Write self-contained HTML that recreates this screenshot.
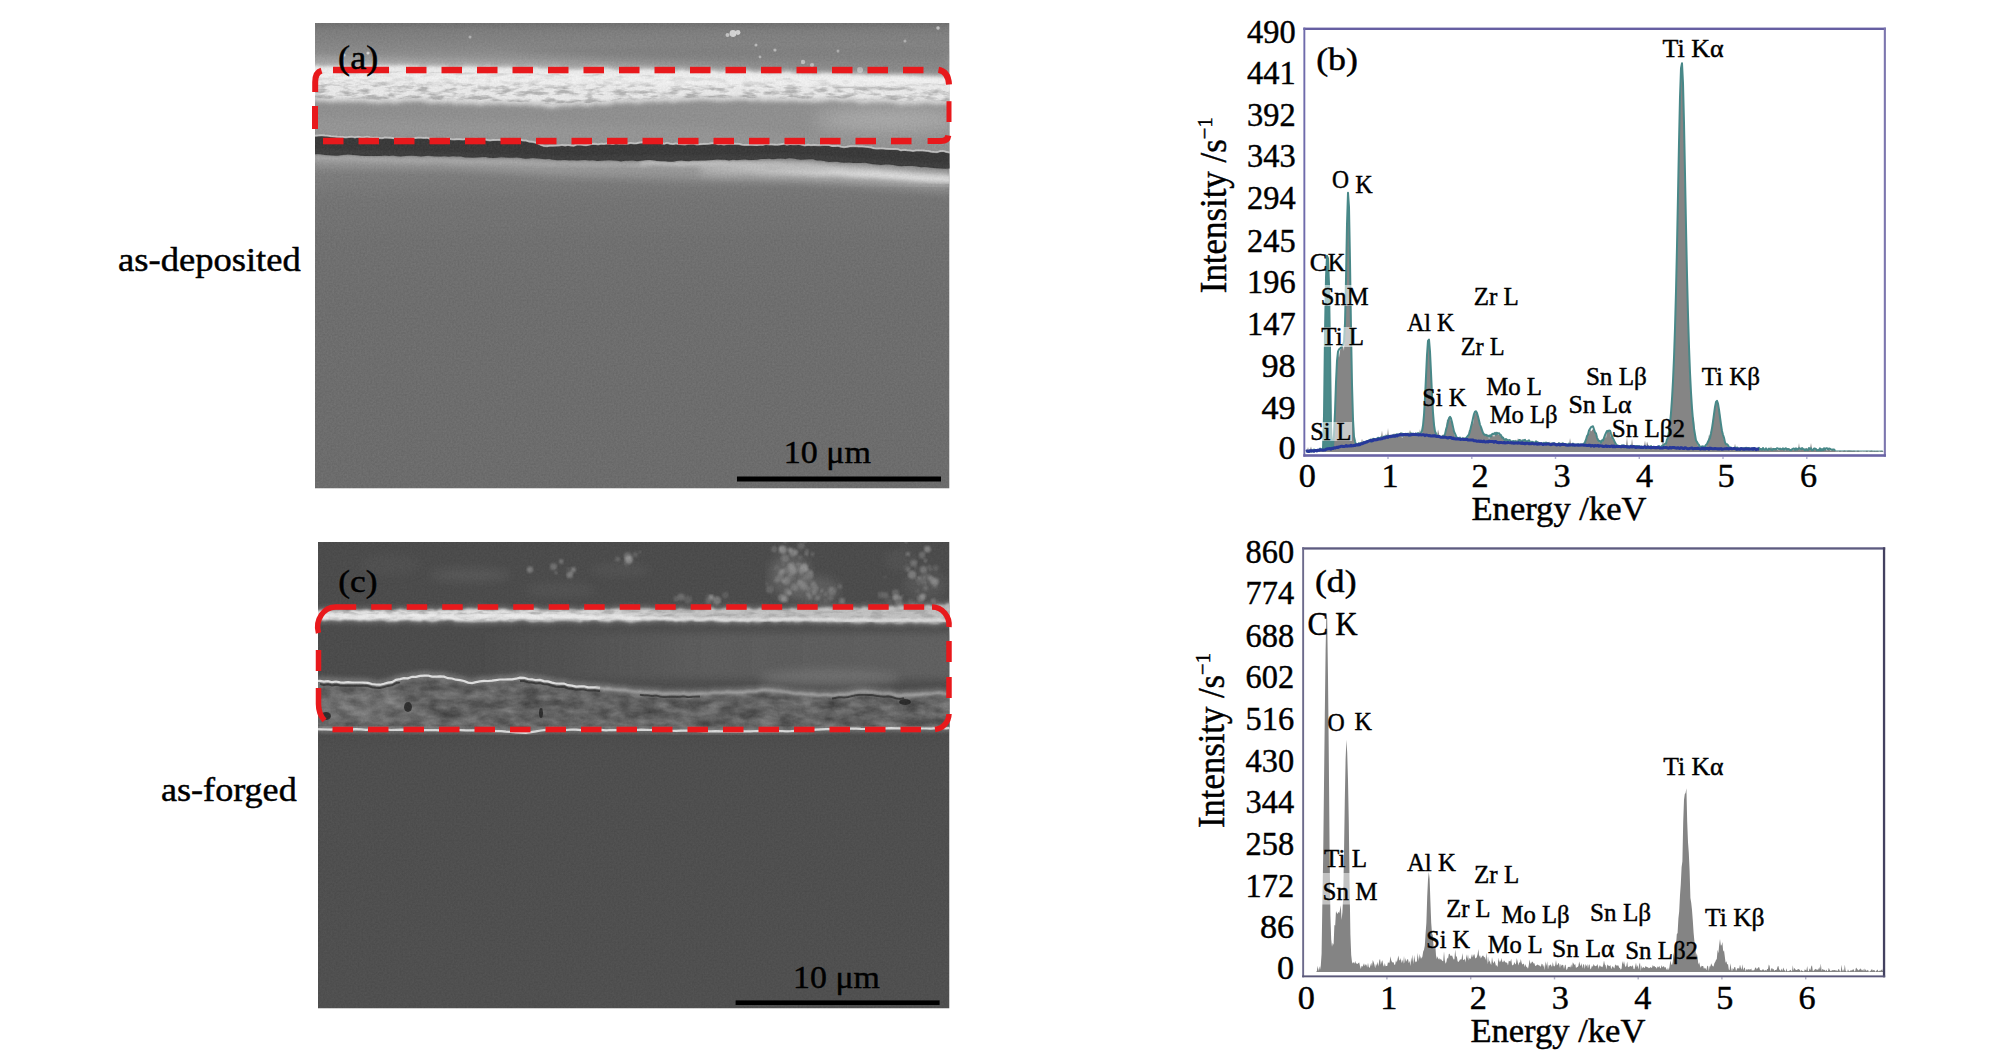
<!DOCTYPE html>
<html lang="en"><head><meta charset="utf-8"><title>SEM and EDS figure</title>
<style>
html,body{margin:0;padding:0;background:#fff;}
body{width:2008px;height:1063px;overflow:hidden;position:relative;}
svg{position:absolute;left:0;top:0;display:block;}
text{font-family:"Liberation Serif", "DejaVu Serif", serif;fill:#000;stroke:#000;stroke-width:0.45px;}
</style></head><body>
<svg width="2008" height="1063" viewBox="0 0 2008 1063">
<defs>
<clipPath id="clipA"><rect x="315" y="23" width="634.5" height="465.5"/></clipPath>
<clipPath id="clipC"><rect x="318" y="542" width="631.5" height="466.5"/></clipPath>
<filter id="b05" x="-5%" y="-5%" width="110%" height="110%"><feGaussianBlur stdDeviation="0.6"/></filter>
<filter id="b1" x="-5%" y="-20%" width="110%" height="140%"><feGaussianBlur stdDeviation="1.1"/></filter>
<filter id="b2" x="-5%" y="-30%" width="110%" height="160%"><feGaussianBlur stdDeviation="2.2"/></filter>
<filter id="b4" x="-5%" y="-50%" width="110%" height="200%"><feGaussianBlur stdDeviation="4.5"/></filter>
<filter id="b8" x="-30%" y="-100%" width="160%" height="300%"><feGaussianBlur stdDeviation="9"/></filter>
<filter id="grain" color-interpolation-filters="sRGB" x="0" y="0" width="100%" height="100%">
<feTurbulence type="fractalNoise" baseFrequency="0.55" numOctaves="2" seed="4"/>
<feColorMatrix type="matrix" values="1 0 0 0 0  1 0 0 0 0  1 0 0 0 0  0 0 0 0 1"/>
</filter>
<filter id="rough" color-interpolation-filters="sRGB" x="0" y="0" width="100%" height="100%">
<feTurbulence type="fractalNoise" baseFrequency="0.07 0.22" numOctaves="3" seed="11"/>
<feColorMatrix type="matrix" values="0 0 0 0 0.62  0 0 0 0 0.62  0 0 0 0 0.62  -3.4 0 0 0 1.95"/>
<feComposite operator="in" in2="SourceGraphic"/>
</filter>
<filter id="rock" color-interpolation-filters="sRGB" x="0" y="0" width="100%" height="100%">
<feTurbulence type="fractalNoise" baseFrequency="0.05 0.11" numOctaves="3" seed="23"/>
<feColorMatrix type="matrix" values="0.9 0 0 0 0.0  0.9 0 0 0 0.0  0.9 0 0 0 0.0  0 0 0 0 1"/>
<feComposite operator="in" in2="SourceGraphic"/>
</filter>
<linearGradient id="gA" x1="0" y1="0" x2="0" y2="1">
<stop offset="0" stop-color="#707070"/><stop offset="0.015" stop-color="#7c7c7c"/><stop offset="0.06" stop-color="#8a8a8a"/><stop offset="0.085" stop-color="#9c9c9c"/>
<stop offset="0.3" stop-color="#8a8a8a"/><stop offset="0.327" stop-color="#7c7c7c"/><stop offset="0.38" stop-color="#747474"/>
<stop offset="0.466" stop-color="#6f6f6f"/><stop offset="0.6" stop-color="#6d6d6d"/><stop offset="1" stop-color="#6b6b6b"/>
</linearGradient>
<linearGradient id="gRidge" gradientUnits="userSpaceOnUse" x1="700" y1="0" x2="870" y2="0">
<stop offset="0" stop-color="#ececec" stop-opacity="0"/><stop offset="1" stop-color="#ececec" stop-opacity="1"/>
</linearGradient>
<linearGradient id="gCL" x1="0" y1="0" x2="1" y2="0">
<stop offset="0" stop-color="#686868" stop-opacity="0"/><stop offset="0.45" stop-color="#686868" stop-opacity="0.55"/><stop offset="1" stop-color="#686868" stop-opacity="0.7"/>
</linearGradient>
<linearGradient id="gCW" x1="0" y1="0" x2="1" y2="0">
<stop offset="0" stop-color="#e6e6e6"/><stop offset="0.4" stop-color="#e0e0e0"/><stop offset="0.6" stop-color="#c8c8c8"/><stop offset="1" stop-color="#c2c2c2"/>
</linearGradient>
<linearGradient id="gC" x1="0" y1="0" x2="0" y2="1">
<stop offset="0" stop-color="#494949"/><stop offset="0.4" stop-color="#494949"/><stop offset="0.45" stop-color="#4c4c4c"/>
<stop offset="1" stop-color="#4d4d4d"/>
</linearGradient>
</defs>
<g clip-path="url(#clipA)">
<rect x="315" y="23" width="634.5" height="465.5" fill="url(#gA)"/>
<path d="M313.0,56.8 L319.0,56.7 L325.0,57.1 L331.0,56.9 L337.0,57.2 L343.0,57.3 L349.0,57.2 L355.0,57.5 L361.0,57.4 L367.0,57.7 L373.0,57.6 L379.0,57.6 L385.0,58.0 L391.0,58.7 L397.0,58.5 L403.0,58.5 L409.0,58.9 L415.0,59.5 L421.0,59.6 L427.0,59.6 L433.0,60.1 L439.0,59.6 L445.0,60.1 L451.0,60.0 L457.0,59.8 L463.0,59.8 L469.0,60.0 L475.0,60.7 L481.0,60.5 L487.0,60.9 L493.0,61.2 L499.0,61.3 L505.0,61.5 L511.0,61.2 L517.0,61.2 L523.0,61.3 L529.0,61.9 L535.0,62.1 L541.0,62.2 L547.0,62.5 L553.0,62.7 L559.0,62.7 L565.0,63.2 L571.0,63.5 L577.0,63.3 L583.0,63.5 L589.0,63.7 L595.0,64.1 L601.0,64.3 L607.0,64.1 L613.0,64.6 L619.0,64.2 L625.0,64.3 L631.0,64.7 L637.0,64.4 L643.0,64.6 L649.0,64.4 L655.0,64.9 L661.0,65.3 L667.0,65.5 L673.0,65.9 L679.0,65.6 L685.0,65.9 L691.0,66.0 L697.0,66.2 L703.0,66.2 L709.0,66.7 L715.0,67.2 L721.0,67.2 L727.0,67.5 L733.0,67.1 L739.0,67.6 L745.0,68.0 L751.0,68.6 L757.0,68.9 L763.0,68.7 L769.0,68.8 L775.0,69.2 L781.0,68.9 L787.0,69.2 L793.0,69.3 L799.0,69.3 L805.0,69.3 L811.0,70.1 L817.0,70.0 L823.0,70.1 L829.0,70.4 L835.0,71.0 L841.0,70.8 L847.0,71.0 L853.0,71.3 L859.0,71.9 L865.0,72.2 L871.0,72.5 L877.0,72.2 L883.0,72.2 L889.0,72.3 L895.0,72.8 L901.0,73.3 L907.0,72.9 L913.0,72.7 L919.0,72.7 L925.0,72.8 L931.0,73.2 L937.0,73.5 L943.0,73.5 L949.0,73.3 L951.5,73.5 L951.5,78.5 L949.0,78.9 L945.0,78.2 L941.0,79.3 L937.0,78.6 L933.0,78.4 L929.0,78.0 L925.0,78.3 L921.0,78.4 L917.0,77.6 L913.0,77.1 L909.0,77.8 L905.0,76.2 L901.0,76.5 L897.0,76.8 L893.0,76.1 L889.0,77.0 L885.0,76.9 L881.0,76.8 L877.0,77.3 L873.0,76.4 L869.0,77.0 L865.0,76.2 L861.0,75.8 L857.0,75.6 L853.0,76.2 L849.0,74.7 L845.0,75.1 L841.0,74.8 L837.0,75.1 L833.0,74.4 L829.0,74.4 L825.0,74.3 L821.0,74.4 L817.0,75.5 L813.0,75.3 L809.0,74.5 L805.0,75.2 L801.0,74.4 L797.0,74.6 L793.0,74.6 L789.0,72.7 L785.0,73.1 L781.0,73.7 L777.0,73.5 L773.0,74.1 L769.0,74.4 L765.0,73.7 L761.0,72.7 L757.0,73.8 L753.0,73.4 L749.0,71.9 L745.0,71.8 L741.0,72.2 L737.0,73.2 L733.0,73.2 L729.0,72.1 L725.0,72.3 L721.0,73.1 L717.0,72.5 L713.0,71.6 L709.0,72.1 L705.0,71.1 L701.0,71.7 L697.0,72.2 L693.0,72.2 L689.0,72.2 L685.0,71.4 L681.0,70.6 L677.0,71.9 L673.0,71.5 L669.0,71.3 L665.0,71.9 L661.0,71.7 L657.0,70.9 L653.0,70.0 L649.0,69.9 L645.0,70.0 L641.0,70.1 L637.0,70.7 L633.0,71.8 L629.0,71.7 L625.0,71.3 L621.0,70.5 L617.0,71.2 L613.0,70.4 L609.0,69.4 L605.0,69.3 L601.0,68.8 L597.0,68.9 L593.0,69.6 L589.0,69.8 L585.0,69.5 L581.0,70.5 L577.0,70.6 L573.0,70.5 L569.0,70.6 L565.0,70.6 L561.0,69.9 L557.0,68.8 L553.0,69.1 L549.0,69.8 L545.0,69.3 L541.0,69.4 L537.0,68.3 L533.0,68.7 L529.0,68.7 L525.0,69.6 L521.0,69.8 L517.0,69.6 L513.0,68.5 L509.0,67.7 L505.0,68.5 L501.0,67.9 L497.0,68.7 L493.0,69.0 L489.0,67.3 L485.0,67.8 L481.0,68.8 L477.0,67.6 L473.0,67.6 L469.0,67.2 L465.0,67.3 L461.0,68.2 L457.0,68.3 L453.0,69.1 L449.0,68.4 L445.0,67.1 L441.0,67.5 L437.0,67.4 L433.0,67.2 L429.0,67.2 L425.0,68.1 L421.0,68.1 L417.0,66.6 L413.0,67.0 L409.0,66.5 L405.0,66.5 L401.0,66.2 L397.0,66.4 L393.0,66.8 L389.0,66.4 L385.0,66.4 L381.0,66.2 L377.0,66.4 L373.0,67.2 L369.0,66.3 L365.0,66.9 L361.0,67.1 L357.0,67.9 L353.0,67.9 L349.0,67.6 L345.0,67.4 L341.0,66.1 L337.0,67.2 L333.0,67.0 L329.0,66.9 L325.0,67.3 L321.0,67.5 L317.0,66.6 L313.0,66.2Z" fill="#a4a4a4" opacity="0.8" filter="url(#b2)"/>
<path d="M500,50 L700,46 L950,48 L950,73 L780,68 L620,60 Z" fill="#767676" opacity="0.55" filter="url(#b4)"/>
<path d="M313.0,97.5 L317.0,98.4 L321.0,98.3 L325.0,98.4 L329.0,98.9 L333.0,99.4 L337.0,98.8 L341.0,98.9 L345.0,98.7 L349.0,98.7 L353.0,99.0 L357.0,98.8 L361.0,98.8 L365.0,98.8 L369.0,99.7 L373.0,99.7 L377.0,100.1 L381.0,100.5 L385.0,99.3 L389.0,99.4 L393.0,100.2 L397.0,100.4 L401.0,99.1 L405.0,98.5 L409.0,98.8 L413.0,98.3 L417.0,98.4 L421.0,98.1 L425.0,99.3 L429.0,100.1 L433.0,100.8 L437.0,99.6 L441.0,100.2 L445.0,100.4 L449.0,99.5 L453.0,100.7 L457.0,101.5 L461.0,100.4 L465.0,101.5 L469.0,101.0 L473.0,100.9 L477.0,102.1 L481.0,102.4 L485.0,101.2 L489.0,101.2 L493.0,101.5 L497.0,101.3 L501.0,101.0 L505.0,101.2 L509.0,102.2 L513.0,101.3 L517.0,102.1 L521.0,102.3 L525.0,101.6 L529.0,101.9 L533.0,102.8 L537.0,103.1 L541.0,102.4 L545.0,104.0 L549.0,104.5 L553.0,105.2 L557.0,103.8 L561.0,103.4 L565.0,102.5 L569.0,103.5 L573.0,102.8 L577.0,102.0 L581.0,102.2 L585.0,103.1 L589.0,103.3 L593.0,102.1 L597.0,101.2 L601.0,102.2 L605.0,101.9 L609.0,101.9 L613.0,100.5 L617.0,99.6 L621.0,100.4 L625.0,100.1 L629.0,99.2 L633.0,100.3 L637.0,100.2 L641.0,100.4 L645.0,98.8 L649.0,99.6 L653.0,98.3 L657.0,99.4 L661.0,99.0 L665.0,98.6 L669.0,98.8 L673.0,99.7 L677.0,98.8 L681.0,98.0 L685.0,98.4 L689.0,98.0 L693.0,97.5 L697.0,97.4 L701.0,97.1 L705.0,97.2 L709.0,97.5 L713.0,97.6 L717.0,98.6 L721.0,98.1 L725.0,98.3 L729.0,97.7 L733.0,97.7 L737.0,97.1 L741.0,97.2 L745.0,96.8 L749.0,98.0 L753.0,98.3 L757.0,97.6 L761.0,97.9 L765.0,98.9 L769.0,97.7 L773.0,98.6 L777.0,98.2 L781.0,98.2 L785.0,98.8 L789.0,98.2 L793.0,98.1 L797.0,98.4 L801.0,99.2 L805.0,98.4 L809.0,99.1 L813.0,99.2 L817.0,99.2 L821.0,98.7 L825.0,98.4 L829.0,97.7 L833.0,97.6 L837.0,97.5 L841.0,98.8 L845.0,98.6 L849.0,98.3 L853.0,98.0 L857.0,99.5 L861.0,100.4 L865.0,100.5 L869.0,99.8 L873.0,99.4 L877.0,99.3 L881.0,99.7 L885.0,99.3 L889.0,99.8 L893.0,99.7 L897.0,101.2 L901.0,102.0 L905.0,101.5 L909.0,100.7 L913.0,101.9 L917.0,101.2 L921.0,101.0 L925.0,100.2 L929.0,100.6 L933.0,101.1 L937.0,101.4 L941.0,101.0 L945.0,101.5 L949.0,100.8 L951.5,100.9 L951.5,153.2 L949.0,153.5 L946.0,152.8 L943.0,152.0 L940.0,152.3 L937.0,153.2 L934.0,153.0 L931.0,152.7 L928.0,151.9 L925.0,151.7 L922.0,151.4 L919.0,151.4 L916.0,151.5 L913.0,152.0 L910.0,151.5 L907.0,151.2 L904.0,150.8 L901.0,151.4 L898.0,150.3 L895.0,149.9 L892.0,150.1 L889.0,149.9 L886.0,149.8 L883.0,149.5 L880.0,149.4 L877.0,149.6 L874.0,149.3 L871.0,148.4 L868.0,147.9 L865.0,147.7 L862.0,147.4 L859.0,147.5 L856.0,147.2 L853.0,147.2 L850.0,147.3 L847.0,147.8 L844.0,148.2 L841.0,147.7 L838.0,146.8 L835.0,147.1 L832.0,147.1 L829.0,146.1 L826.0,146.0 L823.0,146.0 L820.0,146.2 L817.0,146.2 L814.0,145.9 L811.0,146.2 L808.0,145.8 L805.0,146.4 L802.0,145.7 L799.0,145.1 L796.0,145.2 L793.0,145.3 L790.0,145.1 L787.0,145.7 L784.0,144.8 L781.0,145.3 L778.0,145.7 L775.0,145.7 L772.0,145.4 L769.0,145.5 L766.0,144.9 L763.0,145.8 L760.0,145.7 L757.0,146.1 L754.0,146.0 L751.0,145.7 L748.0,145.9 L745.0,145.9 L742.0,145.7 L739.0,144.9 L736.0,144.7 L733.0,145.0 L730.0,144.8 L727.0,145.0 L724.0,145.6 L721.0,144.9 L718.0,145.2 L715.0,144.3 L712.0,144.3 L709.0,144.7 L706.0,144.9 L703.0,145.0 L700.0,145.3 L697.0,145.5 L694.0,144.7 L691.0,144.7 L688.0,144.8 L685.0,145.5 L682.0,145.2 L679.0,145.1 L676.0,144.4 L673.0,145.1 L670.0,144.7 L667.0,144.0 L664.0,144.8 L661.0,144.0 L658.0,144.0 L655.0,143.8 L652.0,144.0 L649.0,144.1 L646.0,143.9 L643.0,143.3 L640.0,143.6 L637.0,144.3 L634.0,144.5 L631.0,143.9 L628.0,144.6 L625.0,144.7 L622.0,144.4 L619.0,144.7 L616.0,144.2 L613.0,145.1 L610.0,144.6 L607.0,144.4 L604.0,144.9 L601.0,144.8 L598.0,145.5 L595.0,144.8 L592.0,145.1 L589.0,145.7 L586.0,146.3 L583.0,146.0 L580.0,145.6 L577.0,145.6 L574.0,146.7 L571.0,146.6 L568.0,145.9 L565.0,146.6 L562.0,145.9 L559.0,146.4 L556.0,146.6 L553.0,146.7 L550.0,146.7 L547.0,147.2 L544.0,147.0 L541.0,145.9 L538.0,144.5 L535.0,143.4 L532.0,142.8 L529.0,142.6 L526.0,141.6 L523.0,141.5 L520.0,140.8 L517.0,140.7 L514.0,140.9 L511.0,141.5 L508.0,141.5 L505.0,141.5 L502.0,141.3 L499.0,140.9 L496.0,140.9 L493.0,141.1 L490.0,141.5 L487.0,140.9 L484.0,140.3 L481.0,140.7 L478.0,140.0 L475.0,139.8 L472.0,140.2 L469.0,140.5 L466.0,139.9 L463.0,140.5 L460.0,140.3 L457.0,140.3 L454.0,140.5 L451.0,140.2 L448.0,139.4 L445.0,140.0 L442.0,140.2 L439.0,140.0 L436.0,139.9 L433.0,139.8 L430.0,139.8 L427.0,138.8 L424.0,139.0 L421.0,138.7 L418.0,138.7 L415.0,139.1 L412.0,139.7 L409.0,139.7 L406.0,139.8 L403.0,139.4 L400.0,139.6 L397.0,139.5 L394.0,139.3 L391.0,138.8 L388.0,138.7 L385.0,138.4 L382.0,139.2 L379.0,139.0 L376.0,138.8 L373.0,139.0 L370.0,138.5 L367.0,137.7 L364.0,138.4 L361.0,138.3 L358.0,137.8 L355.0,138.5 L352.0,137.7 L349.0,137.9 L346.0,138.4 L343.0,138.1 L340.0,137.9 L337.0,137.8 L334.0,137.4 L331.0,137.3 L328.0,136.7 L325.0,136.6 L322.0,136.3 L319.0,136.4 L316.0,136.7 L313.0,136.5Z" fill="#919191" filter="url(#b1)"/>
<path d="M313.0,118.0 L321.0,118.1 L329.0,118.3 L337.0,118.5 L345.0,118.6 L353.0,118.8 L361.0,119.0 L369.0,119.2 L377.0,119.3 L385.0,119.5 L393.0,119.7 L401.0,119.9 L409.0,120.0 L417.0,120.2 L425.0,120.4 L433.0,120.6 L441.0,120.7 L449.0,120.9 L457.0,121.1 L465.0,121.2 L473.0,121.4 L481.0,121.6 L489.0,121.8 L497.0,121.9 L505.0,122.2 L513.0,122.4 L521.0,122.6 L529.0,122.9 L537.0,123.1 L545.0,123.3 L553.0,123.6 L561.0,123.8 L569.0,124.1 L577.0,124.3 L585.0,124.5 L593.0,124.8 L601.0,125.0 L609.0,125.3 L617.0,125.5 L625.0,125.8 L633.0,126.0 L641.0,126.2 L649.0,126.5 L657.0,126.7 L665.0,127.0 L673.0,127.2 L681.0,127.4 L689.0,127.7 L697.0,127.9 L705.0,128.4 L713.0,129.0 L721.0,129.6 L729.0,130.2 L737.0,130.8 L745.0,131.4 L753.0,132.0 L761.0,132.6 L769.0,133.2 L777.0,133.8 L785.0,134.4 L793.0,135.0 L801.0,135.6 L809.0,136.2 L817.0,136.8 L825.0,137.4 L833.0,138.0 L841.0,138.6 L849.0,139.2 L857.0,139.8 L865.0,140.6 L873.0,141.4 L881.0,142.3 L889.0,143.2 L897.0,144.1 L905.0,145.0 L913.0,145.9 L921.0,146.8 L929.0,147.7 L937.0,148.6 L945.0,149.4 L951.5,150.0 L951.5,153.2 L949.0,153.5 L946.0,152.8 L943.0,152.0 L940.0,152.3 L937.0,153.2 L934.0,153.0 L931.0,152.7 L928.0,151.9 L925.0,151.7 L922.0,151.4 L919.0,151.4 L916.0,151.5 L913.0,152.0 L910.0,151.5 L907.0,151.2 L904.0,150.8 L901.0,151.4 L898.0,150.3 L895.0,149.9 L892.0,150.1 L889.0,149.9 L886.0,149.8 L883.0,149.5 L880.0,149.4 L877.0,149.6 L874.0,149.3 L871.0,148.4 L868.0,147.9 L865.0,147.7 L862.0,147.4 L859.0,147.5 L856.0,147.2 L853.0,147.2 L850.0,147.3 L847.0,147.8 L844.0,148.2 L841.0,147.7 L838.0,146.8 L835.0,147.1 L832.0,147.1 L829.0,146.1 L826.0,146.0 L823.0,146.0 L820.0,146.2 L817.0,146.2 L814.0,145.9 L811.0,146.2 L808.0,145.8 L805.0,146.4 L802.0,145.7 L799.0,145.1 L796.0,145.2 L793.0,145.3 L790.0,145.1 L787.0,145.7 L784.0,144.8 L781.0,145.3 L778.0,145.7 L775.0,145.7 L772.0,145.4 L769.0,145.5 L766.0,144.9 L763.0,145.8 L760.0,145.7 L757.0,146.1 L754.0,146.0 L751.0,145.7 L748.0,145.9 L745.0,145.9 L742.0,145.7 L739.0,144.9 L736.0,144.7 L733.0,145.0 L730.0,144.8 L727.0,145.0 L724.0,145.6 L721.0,144.9 L718.0,145.2 L715.0,144.3 L712.0,144.3 L709.0,144.7 L706.0,144.9 L703.0,145.0 L700.0,145.3 L697.0,145.5 L694.0,144.7 L691.0,144.7 L688.0,144.8 L685.0,145.5 L682.0,145.2 L679.0,145.1 L676.0,144.4 L673.0,145.1 L670.0,144.7 L667.0,144.0 L664.0,144.8 L661.0,144.0 L658.0,144.0 L655.0,143.8 L652.0,144.0 L649.0,144.1 L646.0,143.9 L643.0,143.3 L640.0,143.6 L637.0,144.3 L634.0,144.5 L631.0,143.9 L628.0,144.6 L625.0,144.7 L622.0,144.4 L619.0,144.7 L616.0,144.2 L613.0,145.1 L610.0,144.6 L607.0,144.4 L604.0,144.9 L601.0,144.8 L598.0,145.5 L595.0,144.8 L592.0,145.1 L589.0,145.7 L586.0,146.3 L583.0,146.0 L580.0,145.6 L577.0,145.6 L574.0,146.7 L571.0,146.6 L568.0,145.9 L565.0,146.6 L562.0,145.9 L559.0,146.4 L556.0,146.6 L553.0,146.7 L550.0,146.7 L547.0,147.2 L544.0,147.0 L541.0,145.9 L538.0,144.5 L535.0,143.4 L532.0,142.8 L529.0,142.6 L526.0,141.6 L523.0,141.5 L520.0,140.8 L517.0,140.7 L514.0,140.9 L511.0,141.5 L508.0,141.5 L505.0,141.5 L502.0,141.3 L499.0,140.9 L496.0,140.9 L493.0,141.1 L490.0,141.5 L487.0,140.9 L484.0,140.3 L481.0,140.7 L478.0,140.0 L475.0,139.8 L472.0,140.2 L469.0,140.5 L466.0,139.9 L463.0,140.5 L460.0,140.3 L457.0,140.3 L454.0,140.5 L451.0,140.2 L448.0,139.4 L445.0,140.0 L442.0,140.2 L439.0,140.0 L436.0,139.9 L433.0,139.8 L430.0,139.8 L427.0,138.8 L424.0,139.0 L421.0,138.7 L418.0,138.7 L415.0,139.1 L412.0,139.7 L409.0,139.7 L406.0,139.8 L403.0,139.4 L400.0,139.6 L397.0,139.5 L394.0,139.3 L391.0,138.8 L388.0,138.7 L385.0,138.4 L382.0,139.2 L379.0,139.0 L376.0,138.8 L373.0,139.0 L370.0,138.5 L367.0,137.7 L364.0,138.4 L361.0,138.3 L358.0,137.8 L355.0,138.5 L352.0,137.7 L349.0,137.9 L346.0,138.4 L343.0,138.1 L340.0,137.9 L337.0,137.8 L334.0,137.4 L331.0,137.3 L328.0,136.7 L325.0,136.6 L322.0,136.3 L319.0,136.4 L316.0,136.7 L313.0,136.5Z" fill="#9c9c9c" opacity="0.5" filter="url(#b4)"/>
<ellipse cx="890" cy="120" rx="75" ry="13" fill="#b8b8b8" opacity="0.7" filter="url(#b8)"/>
<path d="M313.0,64.2 L317.0,64.6 L321.0,65.5 L325.0,65.3 L329.0,64.9 L333.0,65.0 L337.0,65.2 L341.0,64.1 L345.0,65.4 L349.0,65.6 L353.0,65.9 L357.0,65.9 L361.0,65.1 L365.0,64.9 L369.0,64.3 L373.0,65.2 L377.0,64.4 L381.0,64.2 L385.0,64.4 L389.0,64.4 L393.0,64.8 L397.0,64.4 L401.0,64.2 L405.0,64.5 L409.0,64.5 L413.0,65.0 L417.0,64.6 L421.0,66.1 L425.0,66.1 L429.0,65.2 L433.0,65.2 L437.0,65.4 L441.0,65.5 L445.0,65.1 L449.0,66.4 L453.0,67.1 L457.0,66.3 L461.0,66.2 L465.0,65.3 L469.0,65.2 L473.0,65.6 L477.0,65.6 L481.0,66.8 L485.0,65.8 L489.0,65.3 L493.0,67.0 L497.0,66.7 L501.0,65.9 L505.0,66.5 L509.0,65.7 L513.0,66.5 L517.0,67.6 L521.0,67.8 L525.0,67.6 L529.0,66.7 L533.0,66.7 L537.0,66.3 L541.0,67.4 L545.0,67.3 L549.0,67.8 L553.0,67.1 L557.0,66.8 L561.0,67.9 L565.0,68.6 L569.0,68.6 L573.0,68.5 L577.0,68.6 L581.0,68.5 L585.0,67.5 L589.0,67.8 L593.0,67.6 L597.0,66.9 L601.0,66.8 L605.0,67.3 L609.0,67.4 L613.0,68.4 L617.0,69.2 L621.0,68.5 L625.0,69.3 L629.0,69.7 L633.0,69.8 L637.0,68.7 L641.0,68.1 L645.0,68.0 L649.0,67.9 L653.0,68.0 L657.0,68.9 L661.0,69.7 L665.0,69.9 L669.0,69.3 L673.0,69.5 L677.0,69.9 L681.0,68.6 L685.0,69.4 L689.0,70.2 L693.0,70.2 L697.0,70.2 L701.0,69.7 L705.0,69.1 L709.0,70.1 L713.0,69.6 L717.0,70.5 L721.0,71.1 L725.0,70.3 L729.0,70.1 L733.0,71.2 L737.0,71.2 L741.0,70.2 L745.0,69.8 L749.0,69.9 L753.0,71.4 L757.0,71.8 L761.0,70.7 L765.0,71.7 L769.0,72.4 L773.0,72.1 L777.0,71.5 L781.0,71.7 L785.0,71.1 L789.0,70.7 L793.0,72.6 L797.0,72.6 L801.0,72.4 L805.0,73.2 L809.0,72.5 L813.0,73.3 L817.0,73.5 L821.0,72.4 L825.0,72.3 L829.0,72.4 L833.0,72.4 L837.0,73.1 L841.0,72.8 L845.0,73.1 L849.0,72.7 L853.0,74.2 L857.0,73.6 L861.0,73.8 L865.0,74.2 L869.0,75.0 L873.0,74.4 L877.0,75.3 L881.0,74.8 L885.0,74.9 L889.0,75.0 L893.0,74.1 L897.0,74.8 L901.0,74.5 L905.0,74.2 L909.0,75.8 L913.0,75.1 L917.0,75.6 L921.0,76.4 L925.0,76.3 L929.0,76.0 L933.0,76.4 L937.0,76.6 L941.0,77.3 L945.0,76.2 L949.0,76.9 L951.5,76.5 L951.5,103.9 L949.0,103.8 L945.0,104.5 L941.0,104.0 L937.0,104.4 L933.0,104.1 L929.0,103.6 L925.0,103.2 L921.0,104.0 L917.0,104.2 L913.0,104.9 L909.0,103.7 L905.0,104.5 L901.0,105.0 L897.0,104.2 L893.0,102.7 L889.0,102.8 L885.0,102.3 L881.0,102.7 L877.0,102.3 L873.0,102.4 L869.0,102.8 L865.0,103.5 L861.0,103.4 L857.0,102.5 L853.0,101.0 L849.0,101.3 L845.0,101.6 L841.0,101.8 L837.0,100.5 L833.0,100.6 L829.0,100.7 L825.0,101.4 L821.0,101.7 L817.0,102.2 L813.0,102.2 L809.0,102.1 L805.0,101.4 L801.0,102.2 L797.0,101.4 L793.0,101.1 L789.0,101.2 L785.0,101.8 L781.0,101.2 L777.0,101.2 L773.0,101.6 L769.0,100.7 L765.0,101.9 L761.0,100.9 L757.0,100.6 L753.0,101.3 L749.0,101.0 L745.0,99.8 L741.0,100.2 L737.0,100.1 L733.0,100.7 L729.0,100.7 L725.0,101.3 L721.0,101.1 L717.0,101.6 L713.0,100.6 L709.0,100.5 L705.0,100.2 L701.0,100.1 L697.0,100.4 L693.0,100.5 L689.0,101.0 L685.0,101.4 L681.0,101.0 L677.0,101.8 L673.0,102.7 L669.0,101.8 L665.0,101.6 L661.0,102.0 L657.0,102.4 L653.0,101.3 L649.0,102.6 L645.0,101.8 L641.0,103.4 L637.0,103.2 L633.0,103.3 L629.0,102.2 L625.0,103.1 L621.0,103.4 L617.0,102.6 L613.0,103.5 L609.0,104.9 L605.0,104.9 L601.0,105.2 L597.0,104.2 L593.0,105.1 L589.0,106.3 L585.0,106.1 L581.0,105.2 L577.0,105.0 L573.0,105.8 L569.0,106.5 L565.0,105.5 L561.0,106.4 L557.0,106.8 L553.0,108.2 L549.0,107.5 L545.0,107.0 L541.0,105.4 L537.0,106.1 L533.0,105.8 L529.0,104.9 L525.0,104.6 L521.0,105.3 L517.0,105.1 L513.0,104.3 L509.0,105.2 L505.0,104.2 L501.0,104.0 L497.0,104.3 L493.0,104.5 L489.0,104.2 L485.0,104.2 L481.0,105.4 L477.0,105.1 L473.0,103.9 L469.0,104.0 L465.0,104.5 L461.0,103.4 L457.0,104.5 L453.0,103.7 L449.0,102.5 L445.0,103.4 L441.0,103.2 L437.0,102.6 L433.0,103.8 L429.0,103.1 L425.0,102.3 L421.0,101.1 L417.0,101.4 L413.0,101.3 L409.0,101.8 L405.0,101.5 L401.0,102.1 L397.0,103.4 L393.0,103.2 L389.0,102.4 L385.0,102.3 L381.0,103.5 L377.0,103.1 L373.0,102.7 L369.0,102.7 L365.0,101.8 L361.0,101.8 L357.0,101.8 L353.0,102.0 L349.0,101.7 L345.0,101.7 L341.0,101.9 L337.0,101.8 L333.0,102.4 L329.0,101.9 L325.0,101.4 L321.0,101.3 L317.0,101.4 L313.0,100.5Z" fill="#dcdcdc" filter="url(#b2)"/>
<path d="M313.0,66.2 L317.0,66.6 L321.0,67.5 L325.0,67.3 L329.0,66.9 L333.0,67.0 L337.0,67.2 L341.0,66.1 L345.0,67.4 L349.0,67.6 L353.0,67.9 L357.0,67.9 L361.0,67.1 L365.0,66.9 L369.0,66.3 L373.0,67.2 L377.0,66.4 L381.0,66.2 L385.0,66.4 L389.0,66.4 L393.0,66.8 L397.0,66.4 L401.0,66.2 L405.0,66.5 L409.0,66.5 L413.0,67.0 L417.0,66.6 L421.0,68.1 L425.0,68.1 L429.0,67.2 L433.0,67.2 L437.0,67.4 L441.0,67.5 L445.0,67.1 L449.0,68.4 L453.0,69.1 L457.0,68.3 L461.0,68.2 L465.0,67.3 L469.0,67.2 L473.0,67.6 L477.0,67.6 L481.0,68.8 L485.0,67.8 L489.0,67.3 L493.0,69.0 L497.0,68.7 L501.0,67.9 L505.0,68.5 L509.0,67.7 L513.0,68.5 L517.0,69.6 L521.0,69.8 L525.0,69.6 L529.0,68.7 L533.0,68.7 L537.0,68.3 L541.0,69.4 L545.0,69.3 L549.0,69.8 L553.0,69.1 L557.0,68.8 L561.0,69.9 L565.0,70.6 L569.0,70.6 L573.0,70.5 L577.0,70.6 L581.0,70.5 L585.0,69.5 L589.0,69.8 L593.0,69.6 L597.0,68.9 L601.0,68.8 L605.0,69.3 L609.0,69.4 L613.0,70.4 L617.0,71.2 L621.0,70.5 L625.0,71.3 L629.0,71.7 L633.0,71.8 L637.0,70.7 L641.0,70.1 L645.0,70.0 L649.0,69.9 L653.0,70.0 L657.0,70.9 L661.0,71.7 L665.0,71.9 L669.0,71.3 L673.0,71.5 L677.0,71.9 L681.0,70.6 L685.0,71.4 L689.0,72.2 L693.0,72.2 L697.0,72.2 L701.0,71.7 L705.0,71.1 L709.0,72.1 L713.0,71.6 L717.0,72.5 L721.0,73.1 L725.0,72.3 L729.0,72.1 L733.0,73.2 L737.0,73.2 L741.0,72.2 L745.0,71.8 L749.0,71.9 L753.0,73.4 L757.0,73.8 L761.0,72.7 L765.0,73.7 L769.0,74.4 L773.0,74.1 L777.0,73.5 L781.0,73.7 L785.0,73.1 L789.0,72.7 L793.0,74.6 L797.0,74.6 L801.0,74.4 L805.0,75.2 L809.0,74.5 L813.0,75.3 L817.0,75.5 L821.0,74.4 L825.0,74.3 L829.0,74.4 L833.0,74.4 L837.0,75.1 L841.0,74.8 L845.0,75.1 L849.0,74.7 L853.0,76.2 L857.0,75.6 L861.0,75.8 L865.0,76.2 L869.0,77.0 L873.0,76.4 L877.0,77.3 L881.0,76.8 L885.0,76.9 L889.0,77.0 L893.0,76.1 L897.0,76.8 L901.0,76.5 L905.0,76.2 L909.0,77.8 L913.0,77.1 L917.0,77.6 L921.0,78.4 L925.0,78.3 L929.0,78.0 L933.0,78.4 L937.0,78.6 L941.0,79.3 L945.0,78.2 L949.0,78.9 L951.5,78.5 L951.5,98.9 L949.0,98.8 L945.0,99.5 L941.0,99.0 L937.0,99.4 L933.0,99.1 L929.0,98.6 L925.0,98.2 L921.0,99.0 L917.0,99.2 L913.0,99.9 L909.0,98.7 L905.0,99.5 L901.0,100.0 L897.0,99.2 L893.0,97.7 L889.0,97.8 L885.0,97.3 L881.0,97.7 L877.0,97.3 L873.0,97.4 L869.0,97.8 L865.0,98.5 L861.0,98.4 L857.0,97.5 L853.0,96.0 L849.0,96.3 L845.0,96.6 L841.0,96.8 L837.0,95.5 L833.0,95.6 L829.0,95.7 L825.0,96.4 L821.0,96.7 L817.0,97.2 L813.0,97.2 L809.0,97.1 L805.0,96.4 L801.0,97.2 L797.0,96.4 L793.0,96.1 L789.0,96.2 L785.0,96.8 L781.0,96.2 L777.0,96.2 L773.0,96.6 L769.0,95.7 L765.0,96.9 L761.0,95.9 L757.0,95.6 L753.0,96.3 L749.0,96.0 L745.0,94.8 L741.0,95.2 L737.0,95.1 L733.0,95.7 L729.0,95.7 L725.0,96.3 L721.0,96.1 L717.0,96.6 L713.0,95.6 L709.0,95.5 L705.0,95.2 L701.0,95.1 L697.0,95.4 L693.0,95.5 L689.0,96.0 L685.0,96.4 L681.0,96.0 L677.0,96.8 L673.0,97.7 L669.0,96.8 L665.0,96.6 L661.0,97.0 L657.0,97.4 L653.0,96.3 L649.0,97.6 L645.0,96.8 L641.0,98.4 L637.0,98.2 L633.0,98.3 L629.0,97.2 L625.0,98.1 L621.0,98.4 L617.0,97.6 L613.0,98.5 L609.0,99.9 L605.0,99.9 L601.0,100.2 L597.0,99.2 L593.0,100.1 L589.0,101.3 L585.0,101.1 L581.0,100.2 L577.0,100.0 L573.0,100.8 L569.0,101.5 L565.0,100.5 L561.0,101.4 L557.0,101.8 L553.0,103.2 L549.0,102.5 L545.0,102.0 L541.0,100.4 L537.0,101.1 L533.0,100.8 L529.0,99.9 L525.0,99.6 L521.0,100.3 L517.0,100.1 L513.0,99.3 L509.0,100.2 L505.0,99.2 L501.0,99.0 L497.0,99.3 L493.0,99.5 L489.0,99.2 L485.0,99.2 L481.0,100.4 L477.0,100.1 L473.0,98.9 L469.0,99.0 L465.0,99.5 L461.0,98.4 L457.0,99.5 L453.0,98.7 L449.0,97.5 L445.0,98.4 L441.0,98.2 L437.0,97.6 L433.0,98.8 L429.0,98.1 L425.0,97.3 L421.0,96.1 L417.0,96.4 L413.0,96.3 L409.0,96.8 L405.0,96.5 L401.0,97.1 L397.0,98.4 L393.0,98.2 L389.0,97.4 L385.0,97.3 L381.0,98.5 L377.0,98.1 L373.0,97.7 L369.0,97.7 L365.0,96.8 L361.0,96.8 L357.0,96.8 L353.0,97.0 L349.0,96.7 L345.0,96.7 L341.0,96.9 L337.0,96.8 L333.0,97.4 L329.0,96.9 L325.0,96.4 L321.0,96.3 L317.0,96.4 L313.0,95.5Z" fill="#efefef" filter="url(#b1)"/>
<path d="M313.0,71.2 L317.0,71.6 L321.0,72.5 L325.0,72.3 L329.0,71.9 L333.0,72.0 L337.0,72.2 L341.0,71.1 L345.0,72.4 L349.0,72.6 L353.0,72.9 L357.0,72.9 L361.0,72.1 L365.0,71.9 L369.0,71.3 L373.0,72.2 L377.0,71.4 L381.0,71.2 L385.0,71.4 L389.0,71.4 L393.0,71.8 L397.0,71.4 L401.0,71.2 L405.0,71.5 L409.0,71.5 L413.0,72.0 L417.0,71.6 L421.0,73.1 L425.0,73.1 L429.0,72.2 L433.0,72.2 L437.0,72.4 L441.0,72.5 L445.0,72.1 L449.0,73.4 L453.0,74.1 L457.0,73.3 L461.0,73.2 L465.0,72.3 L469.0,72.2 L473.0,72.6 L477.0,72.6 L481.0,73.8 L485.0,72.8 L489.0,72.3 L493.0,74.0 L497.0,73.7 L501.0,72.9 L505.0,73.5 L509.0,72.7 L513.0,73.5 L517.0,74.6 L521.0,74.8 L525.0,74.6 L529.0,73.7 L533.0,73.7 L537.0,73.3 L541.0,74.4 L545.0,74.3 L549.0,74.8 L553.0,74.1 L557.0,73.8 L561.0,74.9 L565.0,75.6 L569.0,75.6 L573.0,75.5 L577.0,75.6 L581.0,75.5 L585.0,74.5 L589.0,74.8 L593.0,74.6 L597.0,73.9 L601.0,73.8 L605.0,74.3 L609.0,74.4 L613.0,75.4 L617.0,76.2 L621.0,75.5 L625.0,76.3 L629.0,76.7 L633.0,76.8 L637.0,75.7 L641.0,75.1 L645.0,75.0 L649.0,74.9 L653.0,75.0 L657.0,75.9 L661.0,76.7 L665.0,76.9 L669.0,76.3 L673.0,76.5 L677.0,76.9 L681.0,75.6 L685.0,76.4 L689.0,77.2 L693.0,77.2 L697.0,77.2 L701.0,76.7 L705.0,76.1 L709.0,77.1 L713.0,76.6 L717.0,77.5 L721.0,78.1 L725.0,77.3 L729.0,77.1 L733.0,78.2 L737.0,78.2 L741.0,77.2 L745.0,76.8 L749.0,76.9 L753.0,78.4 L757.0,78.8 L761.0,77.7 L765.0,78.7 L769.0,79.4 L773.0,79.1 L777.0,78.5 L781.0,78.7 L785.0,78.1 L789.0,77.7 L793.0,79.6 L797.0,79.6 L801.0,79.4 L805.0,80.2 L809.0,79.5 L813.0,80.3 L817.0,80.5 L821.0,79.4 L825.0,79.3 L829.0,79.4 L833.0,79.4 L837.0,80.1 L841.0,79.8 L845.0,80.1 L849.0,79.7 L853.0,81.2 L857.0,80.6 L861.0,80.8 L865.0,81.2 L869.0,82.0 L873.0,81.4 L877.0,82.3 L881.0,81.8 L885.0,81.9 L889.0,82.0 L893.0,81.1 L897.0,81.8 L901.0,81.5 L905.0,81.2 L909.0,82.8 L913.0,82.1 L917.0,82.6 L921.0,83.4 L925.0,83.3 L929.0,83.0 L933.0,83.4 L937.0,83.6 L941.0,84.3 L945.0,83.2 L949.0,83.9 L951.5,83.5 L951.5,100.9 L949.0,100.8 L945.0,101.5 L941.0,101.0 L937.0,101.4 L933.0,101.1 L929.0,100.6 L925.0,100.2 L921.0,101.0 L917.0,101.2 L913.0,101.9 L909.0,100.7 L905.0,101.5 L901.0,102.0 L897.0,101.2 L893.0,99.7 L889.0,99.8 L885.0,99.3 L881.0,99.7 L877.0,99.3 L873.0,99.4 L869.0,99.8 L865.0,100.5 L861.0,100.4 L857.0,99.5 L853.0,98.0 L849.0,98.3 L845.0,98.6 L841.0,98.8 L837.0,97.5 L833.0,97.6 L829.0,97.7 L825.0,98.4 L821.0,98.7 L817.0,99.2 L813.0,99.2 L809.0,99.1 L805.0,98.4 L801.0,99.2 L797.0,98.4 L793.0,98.1 L789.0,98.2 L785.0,98.8 L781.0,98.2 L777.0,98.2 L773.0,98.6 L769.0,97.7 L765.0,98.9 L761.0,97.9 L757.0,97.6 L753.0,98.3 L749.0,98.0 L745.0,96.8 L741.0,97.2 L737.0,97.1 L733.0,97.7 L729.0,97.7 L725.0,98.3 L721.0,98.1 L717.0,98.6 L713.0,97.6 L709.0,97.5 L705.0,97.2 L701.0,97.1 L697.0,97.4 L693.0,97.5 L689.0,98.0 L685.0,98.4 L681.0,98.0 L677.0,98.8 L673.0,99.7 L669.0,98.8 L665.0,98.6 L661.0,99.0 L657.0,99.4 L653.0,98.3 L649.0,99.6 L645.0,98.8 L641.0,100.4 L637.0,100.2 L633.0,100.3 L629.0,99.2 L625.0,100.1 L621.0,100.4 L617.0,99.6 L613.0,100.5 L609.0,101.9 L605.0,101.9 L601.0,102.2 L597.0,101.2 L593.0,102.1 L589.0,103.3 L585.0,103.1 L581.0,102.2 L577.0,102.0 L573.0,102.8 L569.0,103.5 L565.0,102.5 L561.0,103.4 L557.0,103.8 L553.0,105.2 L549.0,104.5 L545.0,104.0 L541.0,102.4 L537.0,103.1 L533.0,102.8 L529.0,101.9 L525.0,101.6 L521.0,102.3 L517.0,102.1 L513.0,101.3 L509.0,102.2 L505.0,101.2 L501.0,101.0 L497.0,101.3 L493.0,101.5 L489.0,101.2 L485.0,101.2 L481.0,102.4 L477.0,102.1 L473.0,100.9 L469.0,101.0 L465.0,101.5 L461.0,100.4 L457.0,101.5 L453.0,100.7 L449.0,99.5 L445.0,100.4 L441.0,100.2 L437.0,99.6 L433.0,100.8 L429.0,100.1 L425.0,99.3 L421.0,98.1 L417.0,98.4 L413.0,98.3 L409.0,98.8 L405.0,98.5 L401.0,99.1 L397.0,100.4 L393.0,100.2 L389.0,99.4 L385.0,99.3 L381.0,100.5 L377.0,100.1 L373.0,99.7 L369.0,99.7 L365.0,98.8 L361.0,98.8 L357.0,98.8 L353.0,99.0 L349.0,98.7 L345.0,98.7 L341.0,98.9 L337.0,98.8 L333.0,99.4 L329.0,98.9 L325.0,98.4 L321.0,98.3 L317.0,98.4 L313.0,97.5Z" fill="#000" opacity="0.7" filter="url(#rough)"/>
<path d="M313.0,70.8 L318.0,71.3 L323.0,70.7 L328.0,70.5 L333.0,71.1 L338.0,70.9 L343.0,70.5 L348.0,70.3 L353.0,70.8 L358.0,70.9 L363.0,71.7 L368.0,72.1 L373.0,72.5 L378.0,71.9 L383.0,71.3 L388.0,71.0 L393.0,71.3 L398.0,71.8 L403.0,71.8 L408.0,71.5 L413.0,71.6 L418.0,71.9 L423.0,72.2 L428.0,72.5 L433.0,72.8 L438.0,72.8 L443.0,72.1 L448.0,72.6 L453.0,72.3 L458.0,72.4 L463.0,72.3 L468.0,72.7 L473.0,72.3 L478.0,72.1 L483.0,72.0 L488.0,71.9 L493.0,72.7 L498.0,72.8 L503.0,72.6 L508.0,72.6 L513.0,73.3 L518.0,73.2 L523.0,72.8 L528.0,73.3 L533.0,73.4 L538.0,73.9 L543.0,73.2 L548.0,73.2 L553.0,73.6 L558.0,73.9 L563.0,74.2 L568.0,73.4 L573.0,73.2 L578.0,72.9 L583.0,72.8 L588.0,73.7 L593.0,73.8 L598.0,74.3 L603.0,73.9 L608.0,74.3 L613.0,74.1 L618.0,73.7 L623.0,74.2 L628.0,74.7 L633.0,73.9 L638.0,74.1 L643.0,74.3 L648.0,73.9 L653.0,73.9 L658.0,73.6 L663.0,73.6 L668.0,73.6 L673.0,74.1 L678.0,74.4 L683.0,74.1 L688.0,73.7 L693.0,73.9 L698.0,74.4 L703.0,74.2 L708.0,74.2 L713.0,74.1 L718.0,74.8 L723.0,74.9 L728.0,74.4 L733.0,74.2 L738.0,74.4 L743.0,74.7 L748.0,75.1 L753.0,74.6 L758.0,74.5 L763.0,75.0 L768.0,75.1 L773.0,74.9 L778.0,74.9 L783.0,75.7 L788.0,75.4 L793.0,75.6 L798.0,75.4 L803.0,75.4 L808.0,76.0 L813.0,76.5 L818.0,76.1 L823.0,75.6 L828.0,76.0 L833.0,75.6 L838.0,75.2 L843.0,76.0 L848.0,76.0 L853.0,76.4 L858.0,76.2 L863.0,76.7 L868.0,76.5 L873.0,76.0 L878.0,75.6 L883.0,76.0 L888.0,76.4 L893.0,76.9 L898.0,76.3 L903.0,76.6 L908.0,76.5 L913.0,76.6 L918.0,76.2 L923.0,76.2 L928.0,76.5 L933.0,77.2 L938.0,76.6 L943.0,76.8 L948.0,77.2 L951.5,77.7 L951.5,86.6 L948.0,86.7 L943.0,86.0 L938.0,85.7 L933.0,86.1 L928.0,85.4 L923.0,86.1 L918.0,85.6 L913.0,86.1 L908.0,86.4 L903.0,86.0 L898.0,86.4 L893.0,86.6 L888.0,85.8 L883.0,86.4 L878.0,86.0 L873.0,86.4 L868.0,86.4 L863.0,85.7 L858.0,86.5 L853.0,86.1 L848.0,86.1 L843.0,86.2 L838.0,85.6 L833.0,85.8 L828.0,85.5 L823.0,85.3 L818.0,86.1 L813.0,85.6 L808.0,86.4 L803.0,85.9 L798.0,85.6 L793.0,84.5 L788.0,84.5 L783.0,84.6 L778.0,85.1 L773.0,85.3 L768.0,85.1 L763.0,85.4 L758.0,86.0 L753.0,85.3 L748.0,85.2 L743.0,85.9 L738.0,85.3 L733.0,85.8 L728.0,85.1 L723.0,85.6 L718.0,85.1 L713.0,85.3 L708.0,86.4 L703.0,85.9 L698.0,85.6 L693.0,86.5 L688.0,86.3 L683.0,85.8 L678.0,86.1 L673.0,85.4 L668.0,86.3 L663.0,86.2 L658.0,86.2 L653.0,85.6 L648.0,85.0 L643.0,85.7 L638.0,84.8 L633.0,84.9 L628.0,84.6 L623.0,85.4 L618.0,85.5 L613.0,85.0 L608.0,84.3 L603.0,84.8 L598.0,84.2 L593.0,84.7 L588.0,84.4 L583.0,84.0 L578.0,84.3 L573.0,84.0 L568.0,84.3 L563.0,84.8 L558.0,84.6 L553.0,85.1 L548.0,85.3 L543.0,84.9 L538.0,84.2 L533.0,84.5 L528.0,84.3 L523.0,83.8 L518.0,84.4 L513.0,84.4 L508.0,84.5 L503.0,84.2 L498.0,84.2 L493.0,84.0 L488.0,83.9 L483.0,84.2 L478.0,84.0 L473.0,83.8 L468.0,83.4 L463.0,84.0 L458.0,83.2 L453.0,84.0 L448.0,83.5 L443.0,83.2 L438.0,84.0 L433.0,83.3 L428.0,82.6 L423.0,82.6 L418.0,83.0 L413.0,83.0 L408.0,82.7 L403.0,82.6 L398.0,83.0 L393.0,83.7 L388.0,83.3 L383.0,82.6 L378.0,82.6 L373.0,83.1 L368.0,82.6 L363.0,83.4 L358.0,83.1 L353.0,83.1 L348.0,82.5 L343.0,82.7 L338.0,81.9 L333.0,82.7 L328.0,83.0 L323.0,82.3 L318.0,81.2 L313.0,81.5Z" fill="#fbfbfb" opacity="0.7" filter="url(#b2)"/>
<path d="M313.0,154.6 L317.0,154.0 L321.0,154.2 L325.0,154.9 L329.0,155.2 L333.0,155.5 L337.0,155.8 L341.0,155.2 L345.0,154.8 L349.0,154.6 L353.0,154.9 L357.0,155.3 L361.0,155.8 L365.0,155.9 L369.0,155.9 L373.0,156.1 L377.0,155.9 L381.0,155.9 L385.0,155.4 L389.0,155.9 L393.0,155.6 L397.0,156.3 L401.0,156.4 L405.0,156.1 L409.0,155.7 L413.0,155.7 L417.0,156.1 L421.0,156.5 L425.0,156.1 L429.0,155.8 L433.0,156.2 L437.0,156.5 L441.0,156.5 L445.0,156.3 L449.0,156.7 L453.0,156.3 L457.0,156.4 L461.0,156.6 L465.0,157.4 L469.0,157.5 L473.0,157.8 L477.0,157.6 L481.0,157.3 L485.0,157.1 L489.0,157.8 L493.0,158.0 L497.0,157.7 L501.0,157.2 L505.0,157.4 L509.0,157.8 L513.0,157.8 L517.0,157.6 L521.0,158.0 L525.0,158.7 L529.0,158.4 L533.0,158.1 L537.0,158.4 L541.0,158.7 L545.0,159.2 L549.0,159.1 L553.0,159.8 L557.0,160.2 L561.0,160.2 L565.0,159.9 L569.0,160.5 L573.0,160.2 L577.0,160.6 L581.0,160.2 L585.0,160.0 L589.0,160.5 L593.0,160.3 L597.0,160.9 L601.0,160.8 L605.0,160.4 L609.0,160.3 L613.0,160.4 L617.0,160.8 L621.0,161.4 L625.0,160.8 L629.0,160.8 L633.0,160.6 L637.0,161.2 L641.0,160.7 L645.0,160.3 L649.0,160.0 L653.0,160.2 L657.0,160.9 L661.0,161.3 L665.0,161.3 L669.0,161.7 L673.0,161.8 L677.0,161.1 L681.0,160.6 L685.0,161.1 L689.0,161.2 L693.0,160.4 L697.0,160.7 L701.0,160.5 L705.0,160.4 L709.0,160.3 L713.0,160.0 L717.0,159.6 L721.0,159.7 L725.0,159.7 L729.0,160.4 L733.0,159.8 L737.0,160.3 L741.0,159.8 L745.0,159.5 L749.0,159.9 L753.0,160.0 L757.0,159.7 L761.0,159.0 L765.0,159.0 L769.0,158.8 L773.0,159.3 L777.0,158.7 L781.0,158.5 L785.0,158.9 L789.0,158.2 L793.0,158.4 L797.0,159.2 L801.0,159.7 L805.0,159.4 L809.0,159.2 L813.0,159.3 L817.0,160.5 L821.0,160.5 L825.0,161.2 L829.0,161.9 L833.0,161.8 L837.0,161.7 L841.0,162.5 L845.0,162.7 L849.0,162.5 L853.0,163.0 L857.0,163.0 L861.0,163.0 L865.0,162.8 L869.0,163.6 L873.0,164.3 L877.0,164.6 L881.0,165.1 L885.0,164.5 L889.0,164.5 L893.0,164.9 L897.0,165.7 L901.0,166.3 L905.0,166.1 L909.0,165.9 L913.0,166.1 L917.0,166.4 L921.0,167.2 L925.0,166.9 L929.0,167.5 L933.0,167.9 L937.0,168.3 L941.0,168.6 L945.0,168.7 L949.0,168.6 L951.5,168.4 L951.5,192.0 L945.0,191.6 L937.0,191.0 L929.0,190.5 L921.0,189.9 L913.0,189.3 L905.0,188.7 L897.0,188.1 L889.0,187.5 L881.0,186.9 L873.0,186.4 L865.0,185.8 L857.0,185.2 L849.0,184.6 L841.0,184.0 L833.0,183.4 L825.0,182.8 L817.0,182.2 L809.0,181.7 L801.0,181.1 L793.0,180.9 L785.0,180.8 L777.0,180.8 L769.0,180.7 L761.0,180.6 L753.0,180.5 L745.0,180.4 L737.0,180.4 L729.0,180.3 L721.0,180.2 L713.0,180.1 L705.0,180.1 L697.0,179.9 L689.0,179.7 L681.0,179.5 L673.0,179.2 L665.0,179.0 L657.0,178.8 L649.0,178.5 L641.0,178.3 L633.0,178.1 L625.0,177.9 L617.0,177.6 L609.0,177.4 L601.0,177.2 L593.0,176.9 L585.0,176.7 L577.0,176.5 L569.0,176.3 L561.0,176.0 L553.0,175.5 L545.0,174.9 L537.0,174.3 L529.0,173.7 L521.0,173.2 L513.0,172.6 L505.0,172.0 L497.0,171.4 L489.0,170.8 L481.0,170.3 L473.0,169.7 L465.0,169.1 L457.0,168.5 L449.0,168.0 L441.0,167.8 L433.0,167.6 L425.0,167.4 L417.0,167.3 L409.0,167.1 L401.0,166.9 L393.0,166.7 L385.0,166.6 L377.0,166.4 L369.0,166.2 L361.0,166.0 L353.0,165.8 L345.0,165.7 L337.0,165.5 L329.0,165.3 L321.0,165.1 L313.0,165.0Z" fill="#a0a0a0" opacity="0.75" filter="url(#b4)"/>
<path d="M640.0,163.2 L645.0,163.0 L650.0,162.6 L655.0,162.4 L660.0,162.4 L665.0,162.9 L670.0,163.1 L675.0,163.3 L680.0,163.8 L685.0,163.4 L690.0,163.3 L695.0,163.6 L700.0,163.2 L705.0,163.0 L710.0,163.3 L715.0,163.2 L720.0,163.4 L725.0,163.5 L730.0,164.0 L735.0,164.3 L740.0,164.2 L745.0,164.5 L750.0,164.7 L755.0,164.5 L760.0,165.2 L765.0,165.0 L770.0,164.8 L775.0,164.7 L780.0,165.2 L785.0,165.8 L790.0,166.1 L795.0,166.0 L800.0,165.9 L805.0,165.8 L810.0,166.5 L815.0,167.0 L820.0,167.3 L825.0,167.8 L830.0,168.1 L835.0,168.9 L840.0,169.3 L845.0,169.3 L850.0,170.0 L855.0,169.7 L860.0,170.2 L865.0,170.5 L870.0,170.7 L875.0,170.8 L880.0,171.8 L885.0,171.8 L890.0,172.5 L895.0,173.4 L900.0,173.4 L905.0,173.7 L910.0,174.4 L915.0,174.9 L920.0,175.5 L925.0,176.2 L930.0,176.2 L935.0,176.4 L940.0,176.8 L945.0,176.9 L950.0,178.0 L951.5,178.3" fill="none" stroke="#d4d4d4" stroke-width="5" opacity="0.8" filter="url(#b2)"/>
<path d="M700.0,168.2 L705.0,167.9 L710.0,168.6 L715.0,169.1 L720.0,169.2 L725.0,169.6 L730.0,169.7 L735.0,169.6 L740.0,169.5 L745.0,169.6 L750.0,169.5 L755.0,169.9 L760.0,170.5 L765.0,170.9 L770.0,171.4 L775.0,171.6 L780.0,171.4 L785.0,171.6 L790.0,171.7 L795.0,172.1 L800.0,172.2 L805.0,172.0 L810.0,172.4 L815.0,173.0 L820.0,172.7 L825.0,173.2 L830.0,172.8 L835.0,172.8 L840.0,172.8 L845.0,173.4 L850.0,174.1 L855.0,174.3 L860.0,174.1 L865.0,174.7 L870.0,174.6 L875.0,174.6 L880.0,175.3 L885.0,175.6 L890.0,175.9 L895.0,176.1 L900.0,176.7 L905.0,176.8 L910.0,177.4 L915.0,177.7 L920.0,178.3 L925.0,178.3 L930.0,178.8 L935.0,179.1 L940.0,179.2 L945.0,179.3 L950.0,180.0 L951.5,179.6" fill="none" stroke="#c4c4c4" stroke-width="14" opacity="0.55" filter="url(#b4)"/>
<path d="M700.0,168.2 L705.0,167.9 L710.0,168.6 L715.0,169.1 L720.0,169.2 L725.0,169.6 L730.0,169.7 L735.0,169.6 L740.0,169.5 L745.0,169.6 L750.0,169.5 L755.0,169.9 L760.0,170.5 L765.0,170.9 L770.0,171.4 L775.0,171.6 L780.0,171.4 L785.0,171.6 L790.0,171.7 L795.0,172.1 L800.0,172.2 L805.0,172.0 L810.0,172.4 L815.0,173.0 L820.0,172.7 L825.0,173.2 L830.0,172.8 L835.0,172.8 L840.0,172.8 L845.0,173.4 L850.0,174.1 L855.0,174.3 L860.0,174.1 L865.0,174.7 L870.0,174.6 L875.0,174.6 L880.0,175.3 L885.0,175.6 L890.0,175.9 L895.0,176.1 L900.0,176.7 L905.0,176.8 L910.0,177.4 L915.0,177.7 L920.0,178.3 L925.0,178.3 L930.0,178.8 L935.0,179.1 L940.0,179.2 L945.0,179.3 L950.0,180.0 L951.5,179.6" fill="none" stroke="url(#gRidge)" stroke-width="6" opacity="0.85" filter="url(#b2)"/>
<path d="M313.0,158.4 L318.0,158.0 L323.0,157.7 L328.0,157.6 L333.0,158.3 L338.0,158.3 L343.0,158.1 L348.0,158.0 L353.0,157.9 L358.0,158.5 L363.0,158.8 L368.0,159.1 L373.0,159.4 L378.0,159.0 L383.0,159.2 L388.0,159.2 L393.0,159.7 L398.0,160.0 L403.0,160.3 L408.0,159.7 L413.0,160.2 L418.0,160.5 L423.0,160.8 L428.0,160.3 L433.0,160.2 L438.0,160.1 L443.0,160.0 L448.0,160.7 L453.0,161.2 L458.0,161.4 L463.0,161.7 L468.0,161.8 L473.0,161.6 L478.0,161.4 L483.0,161.3 L488.0,161.9 L493.0,161.9 L498.0,162.0 L503.0,162.2 L508.0,162.0 L513.0,162.2 L518.0,162.4 L523.0,162.9 L528.0,162.9 L533.0,162.9 L538.0,163.5 L543.0,163.5 L548.0,163.9 L553.0,163.9 L558.0,163.4 L563.0,163.5 L568.0,163.6 L573.0,164.0 L578.0,163.9 L583.0,164.2 L588.0,164.3 L593.0,164.0 L598.0,164.5 L603.0,164.1 L608.0,164.6 L613.0,164.3 L618.0,164.1 L623.0,164.1 L628.0,164.7 L633.0,165.2 L638.0,164.7 L643.0,164.9 L645.0,164.9" fill="none" stroke="#b8b8b8" stroke-width="4" opacity="0.7" filter="url(#b2)"/>
<path d="M313.0,136.5 L316.0,136.7 L319.0,136.4 L322.0,136.3 L325.0,136.6 L328.0,136.7 L331.0,137.3 L334.0,137.4 L337.0,137.8 L340.0,137.9 L343.0,138.1 L346.0,138.4 L349.0,137.9 L352.0,137.7 L355.0,138.5 L358.0,137.8 L361.0,138.3 L364.0,138.4 L367.0,137.7 L370.0,138.5 L373.0,139.0 L376.0,138.8 L379.0,139.0 L382.0,139.2 L385.0,138.4 L388.0,138.7 L391.0,138.8 L394.0,139.3 L397.0,139.5 L400.0,139.6 L403.0,139.4 L406.0,139.8 L409.0,139.7 L412.0,139.7 L415.0,139.1 L418.0,138.7 L421.0,138.7 L424.0,139.0 L427.0,138.8 L430.0,139.8 L433.0,139.8 L436.0,139.9 L439.0,140.0 L442.0,140.2 L445.0,140.0 L448.0,139.4 L451.0,140.2 L454.0,140.5 L457.0,140.3 L460.0,140.3 L463.0,140.5 L466.0,139.9 L469.0,140.5 L472.0,140.2 L475.0,139.8 L478.0,140.0 L481.0,140.7 L484.0,140.3 L487.0,140.9 L490.0,141.5 L493.0,141.1 L496.0,140.9 L499.0,140.9 L502.0,141.3 L505.0,141.5 L508.0,141.5 L511.0,141.5 L514.0,140.9 L517.0,140.7 L520.0,140.8 L523.0,141.5 L526.0,141.6 L529.0,142.6 L532.0,142.8 L535.0,143.4 L538.0,144.5 L541.0,145.9 L544.0,147.0 L547.0,147.2 L550.0,146.7 L553.0,146.7 L556.0,146.6 L559.0,146.4 L562.0,145.9 L565.0,146.6 L568.0,145.9 L571.0,146.6 L574.0,146.7 L577.0,145.6 L580.0,145.6 L583.0,146.0 L586.0,146.3 L589.0,145.7 L592.0,145.1 L595.0,144.8 L598.0,145.5 L601.0,144.8 L604.0,144.9 L607.0,144.4 L610.0,144.6 L613.0,145.1 L616.0,144.2 L619.0,144.7 L622.0,144.4 L625.0,144.7 L628.0,144.6 L631.0,143.9 L634.0,144.5 L637.0,144.3 L640.0,143.6 L643.0,143.3 L646.0,143.9 L649.0,144.1 L652.0,144.0 L655.0,143.8 L658.0,144.0 L661.0,144.0 L664.0,144.8 L667.0,144.0 L670.0,144.7 L673.0,145.1 L676.0,144.4 L679.0,145.1 L682.0,145.2 L685.0,145.5 L688.0,144.8 L691.0,144.7 L694.0,144.7 L697.0,145.5 L700.0,145.3 L703.0,145.0 L706.0,144.9 L709.0,144.7 L712.0,144.3 L715.0,144.3 L718.0,145.2 L721.0,144.9 L724.0,145.6 L727.0,145.0 L730.0,144.8 L733.0,145.0 L736.0,144.7 L739.0,144.9 L742.0,145.7 L745.0,145.9 L748.0,145.9 L751.0,145.7 L754.0,146.0 L757.0,146.1 L760.0,145.7 L763.0,145.8 L766.0,144.9 L769.0,145.5 L772.0,145.4 L775.0,145.7 L778.0,145.7 L781.0,145.3 L784.0,144.8 L787.0,145.7 L790.0,145.1 L793.0,145.3 L796.0,145.2 L799.0,145.1 L802.0,145.7 L805.0,146.4 L808.0,145.8 L811.0,146.2 L814.0,145.9 L817.0,146.2 L820.0,146.2 L823.0,146.0 L826.0,146.0 L829.0,146.1 L832.0,147.1 L835.0,147.1 L838.0,146.8 L841.0,147.7 L844.0,148.2 L847.0,147.8 L850.0,147.3 L853.0,147.2 L856.0,147.2 L859.0,147.5 L862.0,147.4 L865.0,147.7 L868.0,147.9 L871.0,148.4 L874.0,149.3 L877.0,149.6 L880.0,149.4 L883.0,149.5 L886.0,149.8 L889.0,149.9 L892.0,150.1 L895.0,149.9 L898.0,150.3 L901.0,151.4 L904.0,150.8 L907.0,151.2 L910.0,151.5 L913.0,152.0 L916.0,151.5 L919.0,151.4 L922.0,151.4 L925.0,151.7 L928.0,151.9 L931.0,152.7 L934.0,153.0 L937.0,153.2 L940.0,152.3 L943.0,152.0 L946.0,152.8 L949.0,153.5 L951.5,153.2 L951.5,168.4 L949.0,168.6 L945.0,168.7 L941.0,168.6 L937.0,168.3 L933.0,167.9 L929.0,167.5 L925.0,166.9 L921.0,167.2 L917.0,166.4 L913.0,166.1 L909.0,165.9 L905.0,166.1 L901.0,166.3 L897.0,165.7 L893.0,164.9 L889.0,164.5 L885.0,164.5 L881.0,165.1 L877.0,164.6 L873.0,164.3 L869.0,163.6 L865.0,162.8 L861.0,163.0 L857.0,163.0 L853.0,163.0 L849.0,162.5 L845.0,162.7 L841.0,162.5 L837.0,161.7 L833.0,161.8 L829.0,161.9 L825.0,161.2 L821.0,160.5 L817.0,160.5 L813.0,159.3 L809.0,159.2 L805.0,159.4 L801.0,159.7 L797.0,159.2 L793.0,158.4 L789.0,158.2 L785.0,158.9 L781.0,158.5 L777.0,158.7 L773.0,159.3 L769.0,158.8 L765.0,159.0 L761.0,159.0 L757.0,159.7 L753.0,160.0 L749.0,159.9 L745.0,159.5 L741.0,159.8 L737.0,160.3 L733.0,159.8 L729.0,160.4 L725.0,159.7 L721.0,159.7 L717.0,159.6 L713.0,160.0 L709.0,160.3 L705.0,160.4 L701.0,160.5 L697.0,160.7 L693.0,160.4 L689.0,161.2 L685.0,161.1 L681.0,160.6 L677.0,161.1 L673.0,161.8 L669.0,161.7 L665.0,161.3 L661.0,161.3 L657.0,160.9 L653.0,160.2 L649.0,160.0 L645.0,160.3 L641.0,160.7 L637.0,161.2 L633.0,160.6 L629.0,160.8 L625.0,160.8 L621.0,161.4 L617.0,160.8 L613.0,160.4 L609.0,160.3 L605.0,160.4 L601.0,160.8 L597.0,160.9 L593.0,160.3 L589.0,160.5 L585.0,160.0 L581.0,160.2 L577.0,160.6 L573.0,160.2 L569.0,160.5 L565.0,159.9 L561.0,160.2 L557.0,160.2 L553.0,159.8 L549.0,159.1 L545.0,159.2 L541.0,158.7 L537.0,158.4 L533.0,158.1 L529.0,158.4 L525.0,158.7 L521.0,158.0 L517.0,157.6 L513.0,157.8 L509.0,157.8 L505.0,157.4 L501.0,157.2 L497.0,157.7 L493.0,158.0 L489.0,157.8 L485.0,157.1 L481.0,157.3 L477.0,157.6 L473.0,157.8 L469.0,157.5 L465.0,157.4 L461.0,156.6 L457.0,156.4 L453.0,156.3 L449.0,156.7 L445.0,156.3 L441.0,156.5 L437.0,156.5 L433.0,156.2 L429.0,155.8 L425.0,156.1 L421.0,156.5 L417.0,156.1 L413.0,155.7 L409.0,155.7 L405.0,156.1 L401.0,156.4 L397.0,156.3 L393.0,155.6 L389.0,155.9 L385.0,155.4 L381.0,155.9 L377.0,155.9 L373.0,156.1 L369.0,155.9 L365.0,155.9 L361.0,155.8 L357.0,155.3 L353.0,154.9 L349.0,154.6 L345.0,154.8 L341.0,155.2 L337.0,155.8 L333.0,155.5 L329.0,155.2 L325.0,154.9 L321.0,154.2 L317.0,154.0 L313.0,154.6Z" fill="#363636" filter="url(#b05)"/>
<path d="M313.0,149.2 L319.0,149.0 L325.0,149.2 L331.0,149.2 L337.0,149.7 L343.0,149.6 L349.0,150.1 L355.0,149.9 L361.0,149.8 L367.0,150.2 L373.0,150.4 L379.0,150.2 L385.0,150.6 L391.0,150.4 L397.0,150.9 L403.0,151.3 L409.0,151.6 L415.0,151.8 L421.0,151.7 L427.0,151.8 L433.0,151.9 L439.0,152.5 L445.0,152.2 L451.0,152.8 L457.0,152.5 L463.0,152.5 L469.0,152.7 L475.0,153.4 L481.0,153.6 L487.0,153.6 L493.0,154.2 L499.0,154.0 L505.0,154.2 L511.0,154.4 L517.0,154.8 L523.0,155.2 L529.0,155.3 L535.0,155.3 L541.0,155.3 L547.0,155.1 L553.0,155.6 L559.0,155.7 L565.0,155.8 L571.0,155.4 L577.0,155.4 L583.0,155.7 L589.0,155.7 L595.0,155.3 L601.0,155.3 L607.0,155.7 L613.0,155.4 L619.0,155.2 L625.0,155.1 L631.0,155.5 L637.0,155.8 L643.0,155.4 L649.0,155.1 L655.0,155.1 L661.0,155.1 L667.0,155.3 L673.0,155.1 L679.0,155.1 L685.0,155.0 L691.0,155.6 L697.0,155.8 L703.0,155.3 L709.0,155.6 L715.0,155.1 L721.0,155.0 L727.0,155.4 L733.0,155.4 L739.0,155.4 L745.0,155.0 L751.0,154.6 L757.0,154.7 L763.0,154.3 L769.0,154.0 L775.0,154.0 L781.0,153.7 L787.0,153.8 L793.0,154.1 L799.0,154.2 L805.0,154.4 L811.0,154.9 L817.0,155.2 L823.0,155.2 L829.0,155.8 L835.0,156.2 L841.0,156.8 L847.0,157.5 L853.0,157.6 L859.0,158.0 L865.0,158.5 L871.0,158.7 L877.0,158.9 L883.0,159.5 L889.0,160.2 L895.0,160.6 L901.0,161.0 L907.0,161.5 L913.0,161.9 L919.0,162.2 L925.0,162.5 L931.0,162.6 L937.0,163.2 L943.0,163.2 L949.0,163.7 L951.5,164.1 L951.5,168.4 L949.0,168.6 L945.0,168.7 L941.0,168.6 L937.0,168.3 L933.0,167.9 L929.0,167.5 L925.0,166.9 L921.0,167.2 L917.0,166.4 L913.0,166.1 L909.0,165.9 L905.0,166.1 L901.0,166.3 L897.0,165.7 L893.0,164.9 L889.0,164.5 L885.0,164.5 L881.0,165.1 L877.0,164.6 L873.0,164.3 L869.0,163.6 L865.0,162.8 L861.0,163.0 L857.0,163.0 L853.0,163.0 L849.0,162.5 L845.0,162.7 L841.0,162.5 L837.0,161.7 L833.0,161.8 L829.0,161.9 L825.0,161.2 L821.0,160.5 L817.0,160.5 L813.0,159.3 L809.0,159.2 L805.0,159.4 L801.0,159.7 L797.0,159.2 L793.0,158.4 L789.0,158.2 L785.0,158.9 L781.0,158.5 L777.0,158.7 L773.0,159.3 L769.0,158.8 L765.0,159.0 L761.0,159.0 L757.0,159.7 L753.0,160.0 L749.0,159.9 L745.0,159.5 L741.0,159.8 L737.0,160.3 L733.0,159.8 L729.0,160.4 L725.0,159.7 L721.0,159.7 L717.0,159.6 L713.0,160.0 L709.0,160.3 L705.0,160.4 L701.0,160.5 L697.0,160.7 L693.0,160.4 L689.0,161.2 L685.0,161.1 L681.0,160.6 L677.0,161.1 L673.0,161.8 L669.0,161.7 L665.0,161.3 L661.0,161.3 L657.0,160.9 L653.0,160.2 L649.0,160.0 L645.0,160.3 L641.0,160.7 L637.0,161.2 L633.0,160.6 L629.0,160.8 L625.0,160.8 L621.0,161.4 L617.0,160.8 L613.0,160.4 L609.0,160.3 L605.0,160.4 L601.0,160.8 L597.0,160.9 L593.0,160.3 L589.0,160.5 L585.0,160.0 L581.0,160.2 L577.0,160.6 L573.0,160.2 L569.0,160.5 L565.0,159.9 L561.0,160.2 L557.0,160.2 L553.0,159.8 L549.0,159.1 L545.0,159.2 L541.0,158.7 L537.0,158.4 L533.0,158.1 L529.0,158.4 L525.0,158.7 L521.0,158.0 L517.0,157.6 L513.0,157.8 L509.0,157.8 L505.0,157.4 L501.0,157.2 L497.0,157.7 L493.0,158.0 L489.0,157.8 L485.0,157.1 L481.0,157.3 L477.0,157.6 L473.0,157.8 L469.0,157.5 L465.0,157.4 L461.0,156.6 L457.0,156.4 L453.0,156.3 L449.0,156.7 L445.0,156.3 L441.0,156.5 L437.0,156.5 L433.0,156.2 L429.0,155.8 L425.0,156.1 L421.0,156.5 L417.0,156.1 L413.0,155.7 L409.0,155.7 L405.0,156.1 L401.0,156.4 L397.0,156.3 L393.0,155.6 L389.0,155.9 L385.0,155.4 L381.0,155.9 L377.0,155.9 L373.0,156.1 L369.0,155.9 L365.0,155.9 L361.0,155.8 L357.0,155.3 L353.0,154.9 L349.0,154.6 L345.0,154.8 L341.0,155.2 L337.0,155.8 L333.0,155.5 L329.0,155.2 L325.0,154.9 L321.0,154.2 L317.0,154.0 L313.0,154.6Z" fill="#454545" opacity="0.45" filter="url(#b1)"/>
<path d="M313.0,135.3 L316.0,135.5 L319.0,135.2 L322.0,135.1 L325.0,135.4 L328.0,135.5 L331.0,136.1 L334.0,136.2 L337.0,136.6 L340.0,136.7 L343.0,136.9 L346.0,137.2 L349.0,136.7 L352.0,136.5 L355.0,137.3 L358.0,136.6 L361.0,137.1 L364.0,137.2 L367.0,136.5 L370.0,137.3 L373.0,137.8 L376.0,137.6 L379.0,137.8 L382.0,138.0 L385.0,137.2 L388.0,137.5 L391.0,137.6 L394.0,138.1 L397.0,138.3 L400.0,138.4 L403.0,138.2 L406.0,138.6 L409.0,138.5 L412.0,138.5 L415.0,137.9 L418.0,137.5 L421.0,137.5 L424.0,137.8 L427.0,137.6 L430.0,138.6 L433.0,138.6 L436.0,138.7 L439.0,138.8 L442.0,139.0 L445.0,138.8 L448.0,138.2 L451.0,139.0 L454.0,139.3 L457.0,139.1 L460.0,139.1 L463.0,139.3 L466.0,138.7 L469.0,139.3 L472.0,139.0 L475.0,138.6 L478.0,138.8 L481.0,139.5 L484.0,139.1 L487.0,139.7 L490.0,140.3 L493.0,139.9 L496.0,139.7 L499.0,139.7 L502.0,140.1 L505.0,140.3 L508.0,140.3 L511.0,140.3 L514.0,139.7 L517.0,139.5 L520.0,139.6 L523.0,140.3 L526.0,140.4 L529.0,141.4 L532.0,141.6 L535.0,142.2 L538.0,143.3 L541.0,144.7 L544.0,145.8 L547.0,146.0 L550.0,145.5 L553.0,145.5 L556.0,145.4 L559.0,145.2 L562.0,144.7 L565.0,145.4 L568.0,144.7 L571.0,145.4 L574.0,145.5 L577.0,144.4 L580.0,144.4 L583.0,144.8 L586.0,145.1 L589.0,144.5 L592.0,143.9 L595.0,143.6 L598.0,144.3 L601.0,143.6 L604.0,143.7 L607.0,143.2 L610.0,143.4 L613.0,143.9 L616.0,143.0 L619.0,143.5 L622.0,143.2 L625.0,143.5 L628.0,143.4 L631.0,142.7 L634.0,143.3 L637.0,143.1 L640.0,142.4 L643.0,142.1 L646.0,142.7 L649.0,142.9 L652.0,142.8 L655.0,142.6 L658.0,142.8 L661.0,142.8 L664.0,143.6 L667.0,142.8 L670.0,143.5 L673.0,143.9 L676.0,143.2 L679.0,143.9 L682.0,144.0 L685.0,144.3 L688.0,143.6 L691.0,143.5 L694.0,143.5 L697.0,144.3 L700.0,144.1 L703.0,143.8 L706.0,143.7 L709.0,143.5 L712.0,143.1 L715.0,143.1 L718.0,144.0 L721.0,143.7 L724.0,144.4 L727.0,143.8 L730.0,143.6 L733.0,143.8 L736.0,143.5 L739.0,143.7 L742.0,144.5 L745.0,144.7 L748.0,144.7 L751.0,144.5 L754.0,144.8 L757.0,144.9 L760.0,144.5 L763.0,144.6 L766.0,143.7 L769.0,144.3 L772.0,144.2 L775.0,144.5 L778.0,144.5 L781.0,144.1 L784.0,143.6 L787.0,144.5 L790.0,143.9 L793.0,144.1 L796.0,144.0 L799.0,143.9 L802.0,144.5 L805.0,145.2 L808.0,144.6 L811.0,145.0 L814.0,144.7 L817.0,145.0 L820.0,145.0 L823.0,144.8 L826.0,144.8 L829.0,144.9 L832.0,145.9 L835.0,145.9 L838.0,145.6 L841.0,146.5 L844.0,147.0 L847.0,146.6 L850.0,146.1 L853.0,146.0 L856.0,146.0 L859.0,146.3 L862.0,146.2 L865.0,146.5 L868.0,146.7 L871.0,147.2 L874.0,148.1 L877.0,148.4 L880.0,148.2 L883.0,148.3 L886.0,148.6 L889.0,148.7 L892.0,148.9 L895.0,148.7 L898.0,149.1 L901.0,150.2 L904.0,149.6 L907.0,150.0 L910.0,150.3 L913.0,150.8 L916.0,150.3 L919.0,150.2 L922.0,150.2 L925.0,150.5 L928.0,150.7 L931.0,151.5 L934.0,151.8 L937.0,152.0 L940.0,151.1 L943.0,150.8 L946.0,151.6 L949.0,152.3 L951.5,152.0" fill="none" stroke="#d6d6d6" stroke-width="1.6" opacity="0.75" filter="url(#b05)"/>
<circle cx="733" cy="33.5" r="3.4" fill="#e8e8e8" opacity="0.85" filter="url(#b05)"/>
<circle cx="738" cy="32.5" r="2.4" fill="#e8e8e8" opacity="0.85" filter="url(#b05)"/>
<circle cx="727.5" cy="35" r="2" fill="#e8e8e8" opacity="0.7" filter="url(#b05)"/>
<circle cx="344" cy="55" r="1.6" fill="#e8e8e8" opacity="0.8" filter="url(#b05)"/>
<circle cx="368" cy="53" r="1.6" fill="#e8e8e8" opacity="0.8" filter="url(#b05)"/>
<circle cx="470" cy="37" r="1.5" fill="#e8e8e8" opacity="0.5" filter="url(#b05)"/>
<circle cx="756" cy="45" r="1.5" fill="#e8e8e8" opacity="0.6" filter="url(#b05)"/>
<circle cx="775" cy="50" r="1.6" fill="#e8e8e8" opacity="0.6" filter="url(#b05)"/>
<circle cx="803" cy="62" r="2.2" fill="#e8e8e8" opacity="0.6" filter="url(#b05)"/>
<circle cx="812" cy="65" r="2" fill="#e8e8e8" opacity="0.6" filter="url(#b05)"/>
<circle cx="938" cy="28" r="1.8" fill="#e8e8e8" opacity="0.7" filter="url(#b05)"/>
<circle cx="905" cy="41" r="1.5" fill="#e8e8e8" opacity="0.5" filter="url(#b05)"/>
<circle cx="760" cy="57" r="1.4" fill="#e8e8e8" opacity="0.5" filter="url(#b05)"/>
<circle cx="838" cy="51" r="1.5" fill="#e8e8e8" opacity="0.5" filter="url(#b05)"/>
<circle cx="860" cy="70" r="3" fill="#e8e8e8" opacity="0.5" filter="url(#b05)"/>
<rect x="315" y="23" width="635" height="466" filter="url(#grain)" opacity="0.07"/>
</g>
<g clip-path="url(#clipC)">
<rect x="318" y="542" width="631.5" height="466.5" fill="url(#gC)"/>
<ellipse cx="470" cy="575" rx="40" ry="7" fill="#5e5e5e" opacity="0.6" filter="url(#b4)"/>
<ellipse cx="560" cy="590" rx="35" ry="6" fill="#5c5c5c" opacity="0.5" filter="url(#b4)"/>
<ellipse cx="620" cy="570" rx="30" ry="6" fill="#5a5a5a" opacity="0.5" filter="url(#b4)"/>
<ellipse cx="790" cy="575" rx="22" ry="22" fill="#6a6a6a" opacity="0.6" filter="url(#b4)"/>
<ellipse cx="815" cy="590" rx="25" ry="14" fill="#6a6a6a" opacity="0.55" filter="url(#b4)"/>
<ellipse cx="925" cy="585" rx="22" ry="14" fill="#606060" opacity="0.5" filter="url(#b4)"/>
<ellipse cx="900" cy="560" rx="15" ry="10" fill="#5c5c5c" opacity="0.4" filter="url(#b4)"/>
<ellipse cx="390" cy="565" rx="30" ry="10" fill="#535353" opacity="0.5" filter="url(#b4)"/>
<path d="M316.0,607.5 L320.0,607.4 L324.0,606.5 L328.0,606.7 L332.0,606.8 L336.0,607.2 L340.0,606.8 L344.0,607.3 L348.0,608.0 L352.0,606.5 L356.0,607.1 L360.0,607.6 L364.0,606.8 L368.0,606.8 L372.0,607.9 L376.0,606.1 L380.0,606.7 L384.0,606.0 L388.0,607.2 L392.0,607.9 L396.0,607.2 L400.0,606.0 L404.0,606.7 L408.0,606.8 L412.0,607.3 L416.0,606.9 L420.0,607.1 L424.0,607.6 L428.0,607.0 L432.0,606.6 L436.0,607.7 L440.0,606.3 L444.0,607.0 L448.0,606.5 L452.0,607.2 L456.0,605.9 L460.0,607.5 L464.0,606.5 L468.0,605.6 L472.0,605.8 L476.0,606.1 L480.0,605.3 L484.0,606.0 L488.0,606.2 L492.0,606.9 L496.0,606.3 L500.0,605.9 L504.0,605.7 L508.0,606.8 L512.0,607.6 L516.0,606.8 L520.0,605.9 L524.0,607.0 L528.0,606.3 L532.0,605.7 L536.0,605.4 L540.0,606.7 L544.0,607.2 L548.0,606.9 L552.0,606.5 L556.0,606.5 L560.0,605.8 L564.0,607.2 L568.0,606.3 L572.0,606.6 L576.0,607.1 L580.0,607.3 L584.0,606.5 L588.0,605.9 L592.0,606.3 L596.0,605.4 L600.0,606.8 L604.0,606.1 L608.0,607.0 L612.0,605.9 L616.0,605.8 L620.0,605.5 L624.0,605.8 L628.0,605.4 L632.0,604.8 L636.0,606.3 L640.0,605.7 L644.0,605.4 L648.0,605.5 L652.0,605.9 L656.0,605.9 L660.0,606.3 L664.0,606.5 L668.0,605.9 L672.0,607.0 L676.0,607.1 L680.0,605.4 L684.0,606.6 L688.0,607.1 L692.0,607.0 L696.0,605.5 L700.0,606.6 L704.0,606.5 L708.0,605.0 L712.0,604.5 L716.0,606.5 L720.0,606.4 L724.0,605.4 L728.0,604.8 L732.0,604.7 L736.0,604.8 L740.0,606.1 L744.0,605.5 L748.0,604.8 L752.0,606.3 L756.0,606.5 L760.0,605.1 L764.0,606.3 L768.0,606.0 L772.0,606.3 L776.0,606.1 L780.0,606.5 L784.0,606.4 L788.0,606.5 L792.0,605.0 L796.0,605.7 L800.0,605.5 L804.0,605.9 L808.0,605.3 L812.0,606.1 L816.0,605.6 L820.0,604.8 L824.0,604.4 L828.0,604.1 L832.0,604.8 L836.0,604.0 L840.0,604.7 L844.0,604.1 L848.0,604.7 L852.0,604.8 L856.0,604.8 L860.0,605.4 L864.0,603.6 L868.0,604.8 L872.0,604.2 L876.0,604.1 L880.0,604.2 L884.0,604.5 L888.0,603.5 L892.0,603.1 L896.0,604.2 L900.0,602.3 L904.0,603.0 L908.0,603.0 L912.0,601.5 L916.0,602.3 L920.0,602.6 L924.0,603.1 L928.0,601.8 L932.0,602.8 L936.0,601.9 L940.0,601.5 L944.0,602.2 L948.0,600.3 L951.5,601.3 L951.5,625.5 L948.0,625.1 L944.0,625.0 L940.0,625.9 L936.0,626.9 L932.0,626.8 L928.0,626.2 L924.0,626.2 L920.0,625.8 L916.0,626.4 L912.0,625.5 L908.0,625.5 L904.0,626.3 L900.0,626.7 L896.0,626.6 L892.0,625.8 L888.0,625.5 L884.0,626.4 L880.0,626.1 L876.0,626.0 L872.0,624.4 L868.0,625.2 L864.0,625.8 L860.0,626.3 L856.0,626.3 L852.0,625.7 L848.0,625.0 L844.0,625.1 L840.0,625.5 L836.0,625.3 L832.0,624.9 L828.0,625.4 L824.0,624.4 L820.0,625.3 L816.0,624.8 L812.0,624.8 L808.0,624.3 L804.0,624.0 L800.0,625.0 L796.0,625.3 L792.0,624.2 L788.0,624.9 L784.0,624.1 L780.0,624.1 L776.0,625.2 L772.0,624.4 L768.0,623.3 L764.0,623.9 L760.0,625.3 L756.0,625.3 L752.0,624.3 L748.0,625.4 L744.0,624.5 L740.0,624.9 L736.0,624.5 L732.0,623.9 L728.0,625.2 L724.0,625.3 L720.0,624.8 L716.0,624.5 L712.0,623.3 L708.0,623.8 L704.0,624.6 L700.0,623.8 L696.0,624.3 L692.0,623.1 L688.0,623.7 L684.0,624.8 L680.0,623.7 L676.0,624.8 L672.0,623.4 L668.0,624.0 L664.0,622.7 L660.0,622.9 L656.0,623.3 L652.0,623.6 L648.0,624.1 L644.0,623.4 L640.0,624.1 L636.0,624.6 L632.0,625.4 L628.0,624.9 L624.0,624.0 L620.0,623.5 L616.0,623.2 L612.0,624.3 L608.0,624.9 L604.0,624.2 L600.0,624.2 L596.0,622.9 L592.0,623.1 L588.0,623.9 L584.0,623.5 L580.0,624.9 L576.0,624.1 L572.0,623.7 L568.0,623.5 L564.0,623.6 L560.0,623.5 L556.0,623.7 L552.0,624.4 L548.0,624.8 L544.0,624.6 L540.0,624.0 L536.0,624.6 L532.0,624.8 L528.0,624.0 L524.0,622.7 L520.0,623.1 L516.0,623.4 L512.0,624.5 L508.0,624.0 L504.0,624.2 L500.0,623.6 L496.0,624.5 L492.0,624.4 L488.0,624.6 L484.0,624.4 L480.0,624.5 L476.0,624.7 L472.0,625.1 L468.0,624.8 L464.0,624.5 L460.0,624.4 L456.0,624.4 L452.0,622.9 L448.0,622.7 L444.0,623.3 L440.0,623.2 L436.0,624.3 L432.0,624.7 L428.0,624.0 L424.0,623.2 L420.0,624.4 L416.0,624.0 L412.0,623.7 L408.0,623.1 L404.0,623.3 L400.0,623.6 L396.0,624.4 L392.0,624.2 L388.0,624.4 L384.0,623.3 L380.0,623.0 L376.0,623.5 L372.0,623.5 L368.0,624.0 L364.0,623.2 L360.0,624.0 L356.0,623.3 L352.0,623.0 L348.0,623.0 L344.0,622.8 L340.0,623.7 L336.0,623.2 L332.0,623.1 L328.0,623.1 L324.0,623.7 L320.0,622.8 L316.0,623.2Z" fill="#8c8c8c" opacity="0.5" filter="url(#b2)"/>
<path d="M316.0,610.5 L320.0,610.4 L324.0,609.5 L328.0,609.7 L332.0,609.8 L336.0,610.2 L340.0,609.8 L344.0,610.3 L348.0,611.0 L352.0,609.5 L356.0,610.1 L360.0,610.6 L364.0,609.8 L368.0,609.8 L372.0,610.9 L376.0,609.1 L380.0,609.7 L384.0,609.0 L388.0,610.2 L392.0,610.9 L396.0,610.2 L400.0,609.0 L404.0,609.7 L408.0,609.8 L412.0,610.3 L416.0,609.9 L420.0,610.1 L424.0,610.6 L428.0,610.0 L432.0,609.6 L436.0,610.7 L440.0,609.3 L444.0,610.0 L448.0,609.5 L452.0,610.2 L456.0,608.9 L460.0,610.5 L464.0,609.5 L468.0,608.6 L472.0,608.8 L476.0,609.1 L480.0,608.3 L484.0,609.0 L488.0,609.2 L492.0,609.9 L496.0,609.3 L500.0,608.9 L504.0,608.7 L508.0,609.8 L512.0,610.6 L516.0,609.8 L520.0,608.9 L524.0,610.0 L528.0,609.3 L532.0,608.7 L536.0,608.4 L540.0,609.7 L544.0,610.2 L548.0,609.9 L552.0,609.5 L556.0,609.5 L560.0,608.8 L564.0,610.2 L568.0,609.3 L572.0,609.6 L576.0,610.1 L580.0,610.3 L584.0,609.5 L588.0,608.9 L592.0,609.3 L596.0,608.4 L600.0,609.8 L604.0,609.1 L608.0,610.0 L612.0,608.9 L616.0,608.8 L620.0,608.5 L624.0,608.8 L628.0,608.4 L632.0,607.8 L636.0,609.3 L640.0,608.7 L644.0,608.4 L648.0,608.5 L652.0,608.9 L656.0,608.9 L660.0,609.3 L664.0,609.5 L668.0,608.9 L672.0,610.0 L676.0,610.1 L680.0,608.4 L684.0,609.6 L688.0,610.1 L692.0,610.0 L696.0,608.5 L700.0,609.6 L704.0,609.5 L708.0,608.0 L712.0,607.5 L716.0,609.5 L720.0,609.4 L724.0,608.4 L728.0,607.8 L732.0,607.7 L736.0,607.8 L740.0,609.1 L744.0,608.5 L748.0,607.8 L752.0,609.3 L756.0,609.5 L760.0,608.1 L764.0,609.3 L768.0,609.0 L772.0,609.3 L776.0,609.1 L780.0,609.5 L784.0,609.4 L788.0,609.5 L792.0,608.0 L796.0,608.7 L800.0,608.5 L804.0,608.9 L808.0,608.3 L812.0,609.1 L816.0,608.6 L820.0,607.8 L824.0,607.4 L828.0,607.1 L832.0,607.8 L836.0,607.0 L840.0,607.7 L844.0,607.1 L848.0,607.7 L852.0,607.8 L856.0,607.8 L860.0,608.4 L864.0,606.6 L868.0,607.8 L872.0,607.2 L876.0,607.1 L880.0,607.2 L884.0,607.5 L888.0,606.5 L892.0,606.1 L896.0,607.2 L900.0,605.3 L904.0,606.0 L908.0,606.0 L912.0,604.5 L916.0,605.3 L920.0,605.6 L924.0,606.1 L928.0,604.8 L932.0,605.8 L936.0,604.9 L940.0,604.5 L944.0,605.2 L948.0,603.3 L951.5,604.3 L951.5,622.5 L948.0,622.1 L944.0,622.0 L940.0,622.9 L936.0,623.9 L932.0,623.8 L928.0,623.2 L924.0,623.2 L920.0,622.8 L916.0,623.4 L912.0,622.5 L908.0,622.5 L904.0,623.3 L900.0,623.7 L896.0,623.6 L892.0,622.8 L888.0,622.5 L884.0,623.4 L880.0,623.1 L876.0,623.0 L872.0,621.4 L868.0,622.2 L864.0,622.8 L860.0,623.3 L856.0,623.3 L852.0,622.7 L848.0,622.0 L844.0,622.1 L840.0,622.5 L836.0,622.3 L832.0,621.9 L828.0,622.4 L824.0,621.4 L820.0,622.3 L816.0,621.8 L812.0,621.8 L808.0,621.3 L804.0,621.0 L800.0,622.0 L796.0,622.3 L792.0,621.2 L788.0,621.9 L784.0,621.1 L780.0,621.1 L776.0,622.2 L772.0,621.4 L768.0,620.3 L764.0,620.9 L760.0,622.3 L756.0,622.3 L752.0,621.3 L748.0,622.4 L744.0,621.5 L740.0,621.9 L736.0,621.5 L732.0,620.9 L728.0,622.2 L724.0,622.3 L720.0,621.8 L716.0,621.5 L712.0,620.3 L708.0,620.8 L704.0,621.6 L700.0,620.8 L696.0,621.3 L692.0,620.1 L688.0,620.7 L684.0,621.8 L680.0,620.7 L676.0,621.8 L672.0,620.4 L668.0,621.0 L664.0,619.7 L660.0,619.9 L656.0,620.3 L652.0,620.6 L648.0,621.1 L644.0,620.4 L640.0,621.1 L636.0,621.6 L632.0,622.4 L628.0,621.9 L624.0,621.0 L620.0,620.5 L616.0,620.2 L612.0,621.3 L608.0,621.9 L604.0,621.2 L600.0,621.2 L596.0,619.9 L592.0,620.1 L588.0,620.9 L584.0,620.5 L580.0,621.9 L576.0,621.1 L572.0,620.7 L568.0,620.5 L564.0,620.6 L560.0,620.5 L556.0,620.7 L552.0,621.4 L548.0,621.8 L544.0,621.6 L540.0,621.0 L536.0,621.6 L532.0,621.8 L528.0,621.0 L524.0,619.7 L520.0,620.1 L516.0,620.4 L512.0,621.5 L508.0,621.0 L504.0,621.2 L500.0,620.6 L496.0,621.5 L492.0,621.4 L488.0,621.6 L484.0,621.4 L480.0,621.5 L476.0,621.7 L472.0,622.1 L468.0,621.8 L464.0,621.5 L460.0,621.4 L456.0,621.4 L452.0,619.9 L448.0,619.7 L444.0,620.3 L440.0,620.2 L436.0,621.3 L432.0,621.7 L428.0,621.0 L424.0,620.2 L420.0,621.4 L416.0,621.0 L412.0,620.7 L408.0,620.1 L404.0,620.3 L400.0,620.6 L396.0,621.4 L392.0,621.2 L388.0,621.4 L384.0,620.3 L380.0,620.0 L376.0,620.5 L372.0,620.5 L368.0,621.0 L364.0,620.2 L360.0,621.0 L356.0,620.3 L352.0,620.0 L348.0,620.0 L344.0,619.8 L340.0,620.7 L336.0,620.2 L332.0,620.1 L328.0,620.1 L324.0,620.7 L320.0,619.8 L316.0,620.2Z" fill="url(#gCW)" filter="url(#b1)"/>
<path d="M316.0,610.5 L320.0,610.4 L324.0,609.5 L328.0,609.7 L332.0,609.8 L336.0,610.2 L340.0,609.8 L344.0,610.3 L348.0,611.0 L352.0,609.5 L356.0,610.1 L360.0,610.6 L364.0,609.8 L368.0,609.8 L372.0,610.9 L376.0,609.1 L380.0,609.7 L384.0,609.0 L388.0,610.2 L392.0,610.9 L396.0,610.2 L400.0,609.0 L404.0,609.7 L408.0,609.8 L412.0,610.3 L416.0,609.9 L420.0,610.1 L424.0,610.6 L428.0,610.0 L432.0,609.6 L436.0,610.7 L440.0,609.3 L444.0,610.0 L448.0,609.5 L452.0,610.2 L456.0,608.9 L460.0,610.5 L464.0,609.5 L468.0,608.6 L472.0,608.8 L476.0,609.1 L480.0,608.3 L484.0,609.0 L488.0,609.2 L492.0,609.9 L496.0,609.3 L500.0,608.9 L504.0,608.7 L508.0,609.8 L512.0,610.6 L516.0,609.8 L520.0,608.9 L524.0,610.0 L528.0,609.3 L532.0,608.7 L536.0,608.4 L540.0,609.7 L544.0,610.2 L548.0,609.9 L552.0,609.5 L556.0,609.5 L560.0,608.8 L564.0,610.2 L568.0,609.3 L572.0,609.6 L576.0,610.1 L580.0,610.3 L584.0,609.5 L588.0,608.9 L592.0,609.3 L596.0,608.4 L600.0,609.8 L604.0,609.1 L608.0,610.0 L612.0,608.9 L616.0,608.8 L620.0,608.5 L624.0,608.8 L628.0,608.4 L632.0,607.8 L636.0,609.3 L640.0,608.7 L644.0,608.4 L648.0,608.5 L652.0,608.9 L656.0,608.9 L660.0,609.3 L664.0,609.5 L668.0,608.9 L672.0,610.0 L676.0,610.1 L680.0,608.4 L684.0,609.6 L688.0,610.1 L692.0,610.0 L696.0,608.5 L700.0,609.6 L704.0,609.5 L708.0,608.0 L712.0,607.5 L716.0,609.5 L720.0,609.4 L724.0,608.4 L728.0,607.8 L732.0,607.7 L736.0,607.8 L740.0,609.1 L744.0,608.5 L748.0,607.8 L752.0,609.3 L756.0,609.5 L760.0,608.1 L764.0,609.3 L768.0,609.0 L772.0,609.3 L776.0,609.1 L780.0,609.5 L784.0,609.4 L788.0,609.5 L792.0,608.0 L796.0,608.7 L800.0,608.5 L804.0,608.9 L808.0,608.3 L812.0,609.1 L816.0,608.6 L820.0,607.8 L824.0,607.4 L828.0,607.1 L832.0,607.8 L836.0,607.0 L840.0,607.7 L844.0,607.1 L848.0,607.7 L852.0,607.8 L856.0,607.8 L860.0,608.4 L864.0,606.6 L868.0,607.8 L872.0,607.2 L876.0,607.1 L880.0,607.2 L884.0,607.5 L888.0,606.5 L892.0,606.1 L896.0,607.2 L900.0,605.3 L904.0,606.0 L908.0,606.0 L912.0,604.5 L916.0,605.3 L920.0,605.6 L924.0,606.1 L928.0,604.8 L932.0,605.8 L936.0,604.9 L940.0,604.5 L944.0,605.2 L948.0,603.3 L951.5,604.3 L951.5,622.5 L948.0,622.1 L944.0,622.0 L940.0,622.9 L936.0,623.9 L932.0,623.8 L928.0,623.2 L924.0,623.2 L920.0,622.8 L916.0,623.4 L912.0,622.5 L908.0,622.5 L904.0,623.3 L900.0,623.7 L896.0,623.6 L892.0,622.8 L888.0,622.5 L884.0,623.4 L880.0,623.1 L876.0,623.0 L872.0,621.4 L868.0,622.2 L864.0,622.8 L860.0,623.3 L856.0,623.3 L852.0,622.7 L848.0,622.0 L844.0,622.1 L840.0,622.5 L836.0,622.3 L832.0,621.9 L828.0,622.4 L824.0,621.4 L820.0,622.3 L816.0,621.8 L812.0,621.8 L808.0,621.3 L804.0,621.0 L800.0,622.0 L796.0,622.3 L792.0,621.2 L788.0,621.9 L784.0,621.1 L780.0,621.1 L776.0,622.2 L772.0,621.4 L768.0,620.3 L764.0,620.9 L760.0,622.3 L756.0,622.3 L752.0,621.3 L748.0,622.4 L744.0,621.5 L740.0,621.9 L736.0,621.5 L732.0,620.9 L728.0,622.2 L724.0,622.3 L720.0,621.8 L716.0,621.5 L712.0,620.3 L708.0,620.8 L704.0,621.6 L700.0,620.8 L696.0,621.3 L692.0,620.1 L688.0,620.7 L684.0,621.8 L680.0,620.7 L676.0,621.8 L672.0,620.4 L668.0,621.0 L664.0,619.7 L660.0,619.9 L656.0,620.3 L652.0,620.6 L648.0,621.1 L644.0,620.4 L640.0,621.1 L636.0,621.6 L632.0,622.4 L628.0,621.9 L624.0,621.0 L620.0,620.5 L616.0,620.2 L612.0,621.3 L608.0,621.9 L604.0,621.2 L600.0,621.2 L596.0,619.9 L592.0,620.1 L588.0,620.9 L584.0,620.5 L580.0,621.9 L576.0,621.1 L572.0,620.7 L568.0,620.5 L564.0,620.6 L560.0,620.5 L556.0,620.7 L552.0,621.4 L548.0,621.8 L544.0,621.6 L540.0,621.0 L536.0,621.6 L532.0,621.8 L528.0,621.0 L524.0,619.7 L520.0,620.1 L516.0,620.4 L512.0,621.5 L508.0,621.0 L504.0,621.2 L500.0,620.6 L496.0,621.5 L492.0,621.4 L488.0,621.6 L484.0,621.4 L480.0,621.5 L476.0,621.7 L472.0,622.1 L468.0,621.8 L464.0,621.5 L460.0,621.4 L456.0,621.4 L452.0,619.9 L448.0,619.7 L444.0,620.3 L440.0,620.2 L436.0,621.3 L432.0,621.7 L428.0,621.0 L424.0,620.2 L420.0,621.4 L416.0,621.0 L412.0,620.7 L408.0,620.1 L404.0,620.3 L400.0,620.6 L396.0,621.4 L392.0,621.2 L388.0,621.4 L384.0,620.3 L380.0,620.0 L376.0,620.5 L372.0,620.5 L368.0,621.0 L364.0,620.2 L360.0,621.0 L356.0,620.3 L352.0,620.0 L348.0,620.0 L344.0,619.8 L340.0,620.7 L336.0,620.2 L332.0,620.1 L328.0,620.1 L324.0,620.7 L320.0,619.8 L316.0,620.2Z" fill="#000" opacity="0.6" filter="url(#rough)"/>
<path d="M316.0,615.6 L320.0,616.0 L324.0,616.3 L328.0,615.2 L332.0,615.9 L336.0,616.1 L340.0,616.3 L344.0,616.0 L348.0,615.4 L352.0,616.0 L356.0,616.2 L360.0,616.1 L364.0,616.4 L368.0,615.7 L372.0,615.1 L376.0,615.5 L380.0,616.0 L384.0,615.4 L388.0,615.9 L392.0,616.4 L396.0,615.6 L400.0,615.8 L404.0,616.0 L408.0,615.8 L412.0,615.4 L416.0,615.3 L420.0,615.9 L424.0,616.3 L428.0,615.9 L432.0,615.3 L436.0,616.0 L440.0,616.3 L444.0,615.7 L448.0,615.9 L452.0,616.5 L456.0,616.7 L460.0,616.2 L464.0,616.0 L468.0,616.1 L472.0,615.5 L476.0,615.3 L480.0,615.3 L484.0,616.0 L488.0,615.8 L492.0,616.0 L496.0,615.9 L500.0,616.0 L504.0,615.5 L508.0,615.2 L512.0,616.5 L516.0,616.1 L520.0,615.6 L524.0,616.2 L528.0,616.7 L532.0,616.0 L536.0,616.4 L540.0,616.2 L544.0,616.4 L548.0,615.8 L552.0,615.6 L556.0,616.9 L560.0,617.3 L564.0,616.9 L568.0,616.9 L572.0,616.5 L576.0,617.1 L580.0,616.8 L584.0,617.5 L588.0,617.5 L592.0,617.6 L596.0,617.9 L600.0,617.0 L604.0,616.4 L608.0,616.5 L612.0,616.5 L616.0,616.4 L620.0,616.4 L624.0,617.2 L628.0,618.0 L632.0,617.7 L636.0,618.4 L640.0,618.7" fill="none" stroke="#f6f6f6" stroke-width="4" opacity="0.8" filter="url(#b1)"/>
<path d="M636.0,618.4 L640.0,618.7 L644.0,617.6 L648.0,618.0 L652.0,617.9 L656.0,617.5 L660.0,618.6 L664.0,618.1 L668.0,618.4 L672.0,618.6 L676.0,619.3 L680.0,619.1 L684.0,618.7 L688.0,618.7 L692.0,618.3 L696.0,619.4 L700.0,619.9 L704.0,619.0 L708.0,618.4 L712.0,618.5 L716.0,618.6 L720.0,619.5 L724.0,619.9 L728.0,619.9 L732.0,618.9 L736.0,619.5 L740.0,619.7 L744.0,619.6 L748.0,620.1 L752.0,619.0 L756.0,618.7 L760.0,619.5 L764.0,620.1 L768.0,619.9 L772.0,619.4 L776.0,619.6 L780.0,619.9 L784.0,619.1 L788.0,619.1 L792.0,619.0 L796.0,618.8 L800.0,619.3 L804.0,619.0 L808.0,619.0 L812.0,618.9 L816.0,619.6 L820.0,619.0 L824.0,619.8 L828.0,619.3 L832.0,619.0 L836.0,620.1 L840.0,619.6 L844.0,620.4 L848.0,620.6 L852.0,620.8 L856.0,619.8 L860.0,619.8 L864.0,619.3 L868.0,620.4 L872.0,620.7 L876.0,620.5 L880.0,620.2 L884.0,619.9 L888.0,620.5 L892.0,620.3 L896.0,620.4 L900.0,619.8 L904.0,619.7 L908.0,619.4 L912.0,620.2 L916.0,620.4 L920.0,619.8 L924.0,620.7 L928.0,620.2 L932.0,620.2 L936.0,619.8 L940.0,619.9 L944.0,620.7 L948.0,620.4 L951.5,620.0" fill="none" stroke="#f2f2f2" stroke-width="2.6" opacity="0.85" filter="url(#b1)"/>
<rect x="480" y="632" width="480" height="48" fill="url(#gCL)" filter="url(#b4)"/>
<ellipse cx="830" cy="678" rx="70" ry="9" fill="#808080" opacity="0.5" filter="url(#b4)"/>
<circle cx="787.7" cy="577.5" r="1.7" fill="#9c9c9c" opacity="0.30" filter="url(#b1)"/>
<circle cx="813.3" cy="584.0" r="2.8" fill="#8c8c8c" opacity="0.58" filter="url(#b1)"/>
<circle cx="781.2" cy="573.0" r="3.0" fill="#9c9c9c" opacity="0.53" filter="url(#b1)"/>
<circle cx="800.9" cy="546.0" r="3.8" fill="#9c9c9c" opacity="0.30" filter="url(#b1)"/>
<circle cx="781.3" cy="548.3" r="2.2" fill="#8c8c8c" opacity="0.41" filter="url(#b1)"/>
<circle cx="786.4" cy="578.6" r="1.2" fill="#9c9c9c" opacity="0.38" filter="url(#b1)"/>
<circle cx="799.9" cy="569.6" r="2.8" fill="#9c9c9c" opacity="0.46" filter="url(#b1)"/>
<circle cx="807.3" cy="570.0" r="1.8" fill="#9c9c9c" opacity="0.51" filter="url(#b1)"/>
<circle cx="767.0" cy="583.7" r="1.7" fill="#9c9c9c" opacity="0.26" filter="url(#b1)"/>
<circle cx="809.8" cy="574.4" r="3.7" fill="#8c8c8c" opacity="0.58" filter="url(#b1)"/>
<circle cx="790.0" cy="566.1" r="3.1" fill="#b4b4b4" opacity="0.37" filter="url(#b1)"/>
<circle cx="786.3" cy="570.6" r="3.6" fill="#8c8c8c" opacity="0.47" filter="url(#b1)"/>
<circle cx="779.5" cy="578.3" r="3.7" fill="#9c9c9c" opacity="0.37" filter="url(#b1)"/>
<circle cx="784.9" cy="541.4" r="1.6" fill="#9c9c9c" opacity="0.46" filter="url(#b1)"/>
<circle cx="790.0" cy="575.5" r="1.6" fill="#9c9c9c" opacity="0.60" filter="url(#b1)"/>
<circle cx="769.7" cy="589.5" r="3.8" fill="#7a7a7a" opacity="0.52" filter="url(#b1)"/>
<circle cx="802.6" cy="545.4" r="1.6" fill="#7a7a7a" opacity="0.32" filter="url(#b1)"/>
<circle cx="804.8" cy="577.2" r="3.0" fill="#8c8c8c" opacity="0.37" filter="url(#b1)"/>
<circle cx="786.4" cy="581.1" r="3.6" fill="#b4b4b4" opacity="0.39" filter="url(#b1)"/>
<circle cx="791.0" cy="576.6" r="3.8" fill="#7a7a7a" opacity="0.50" filter="url(#b1)"/>
<circle cx="783.5" cy="581.3" r="2.1" fill="#9c9c9c" opacity="0.48" filter="url(#b1)"/>
<circle cx="785.0" cy="599.2" r="3.4" fill="#9c9c9c" opacity="0.52" filter="url(#b1)"/>
<circle cx="790.0" cy="550.0" r="2.4" fill="#b4b4b4" opacity="0.51" filter="url(#b1)"/>
<circle cx="807.4" cy="579.5" r="4.1" fill="#7a7a7a" opacity="0.27" filter="url(#b1)"/>
<circle cx="789.6" cy="593.1" r="2.2" fill="#b4b4b4" opacity="0.44" filter="url(#b1)"/>
<circle cx="804.2" cy="567.3" r="3.8" fill="#b4b4b4" opacity="0.59" filter="url(#b1)"/>
<circle cx="798.6" cy="564.5" r="2.3" fill="#b4b4b4" opacity="0.32" filter="url(#b1)"/>
<circle cx="790.5" cy="580.2" r="1.2" fill="#7a7a7a" opacity="0.49" filter="url(#b1)"/>
<circle cx="803.4" cy="569.9" r="3.2" fill="#9c9c9c" opacity="0.53" filter="url(#b1)"/>
<circle cx="794.1" cy="586.9" r="3.5" fill="#9c9c9c" opacity="0.39" filter="url(#b1)"/>
<circle cx="807.5" cy="555.9" r="1.2" fill="#9c9c9c" opacity="0.25" filter="url(#b1)"/>
<circle cx="787.7" cy="592.0" r="3.4" fill="#9c9c9c" opacity="0.43" filter="url(#b1)"/>
<circle cx="805.5" cy="540.5" r="2.0" fill="#b4b4b4" opacity="0.41" filter="url(#b1)"/>
<circle cx="777.0" cy="568.1" r="3.1" fill="#7a7a7a" opacity="0.32" filter="url(#b1)"/>
<circle cx="801.2" cy="572.9" r="2.1" fill="#8c8c8c" opacity="0.59" filter="url(#b1)"/>
<circle cx="784.0" cy="578.9" r="2.9" fill="#7a7a7a" opacity="0.32" filter="url(#b1)"/>
<circle cx="816.3" cy="588.9" r="2.4" fill="#9c9c9c" opacity="0.34" filter="url(#b1)"/>
<circle cx="782.1" cy="598.0" r="3.9" fill="#b4b4b4" opacity="0.40" filter="url(#b1)"/>
<circle cx="802.9" cy="569.4" r="2.0" fill="#7a7a7a" opacity="0.41" filter="url(#b1)"/>
<circle cx="806.4" cy="553.5" r="1.8" fill="#b4b4b4" opacity="0.45" filter="url(#b1)"/>
<circle cx="774.3" cy="549.2" r="3.2" fill="#8c8c8c" opacity="0.44" filter="url(#b1)"/>
<circle cx="811.1" cy="571.7" r="1.5" fill="#b4b4b4" opacity="0.28" filter="url(#b1)"/>
<circle cx="794.3" cy="570.9" r="3.2" fill="#7a7a7a" opacity="0.47" filter="url(#b1)"/>
<circle cx="783.2" cy="564.6" r="1.7" fill="#8c8c8c" opacity="0.39" filter="url(#b1)"/>
<circle cx="810.1" cy="577.1" r="2.9" fill="#7a7a7a" opacity="0.31" filter="url(#b1)"/>
<circle cx="776.1" cy="580.3" r="2.5" fill="#9c9c9c" opacity="0.29" filter="url(#b1)"/>
<circle cx="800.0" cy="582.2" r="2.3" fill="#9c9c9c" opacity="0.52" filter="url(#b1)"/>
<circle cx="800.7" cy="583.9" r="4.1" fill="#8c8c8c" opacity="0.51" filter="url(#b1)"/>
<circle cx="800.2" cy="576.9" r="1.6" fill="#8c8c8c" opacity="0.26" filter="url(#b1)"/>
<circle cx="782.2" cy="570.9" r="2.3" fill="#9c9c9c" opacity="0.47" filter="url(#b1)"/>
<circle cx="796.2" cy="552.3" r="2.2" fill="#8c8c8c" opacity="0.56" filter="url(#b1)"/>
<circle cx="800.2" cy="557.6" r="2.1" fill="#8c8c8c" opacity="0.30" filter="url(#b1)"/>
<circle cx="785.0" cy="558.3" r="4.0" fill="#9c9c9c" opacity="0.38" filter="url(#b1)"/>
<circle cx="792.5" cy="566.1" r="3.6" fill="#9c9c9c" opacity="0.45" filter="url(#b1)"/>
<circle cx="793.1" cy="552.6" r="3.9" fill="#9c9c9c" opacity="0.56" filter="url(#b1)"/>
<circle cx="807.0" cy="550.9" r="2.3" fill="#7a7a7a" opacity="0.46" filter="url(#b1)"/>
<circle cx="792.7" cy="570.5" r="4.0" fill="#9c9c9c" opacity="0.58" filter="url(#b1)"/>
<circle cx="812.6" cy="554.2" r="2.1" fill="#8c8c8c" opacity="0.42" filter="url(#b1)"/>
<circle cx="796.2" cy="568.1" r="1.7" fill="#7a7a7a" opacity="0.55" filter="url(#b1)"/>
<circle cx="782.7" cy="549.7" r="4.1" fill="#b4b4b4" opacity="0.53" filter="url(#b1)"/>
<circle cx="804.0" cy="585.2" r="3.3" fill="#8c8c8c" opacity="0.52" filter="url(#b1)"/>
<circle cx="839.9" cy="586.3" r="2.5" fill="#9c9c9c" opacity="0.31" filter="url(#b1)"/>
<circle cx="814.0" cy="591.1" r="1.9" fill="#7a7a7a" opacity="0.31" filter="url(#b1)"/>
<circle cx="804.0" cy="587.4" r="2.9" fill="#8c8c8c" opacity="0.54" filter="url(#b1)"/>
<circle cx="842.1" cy="600.9" r="3.1" fill="#8c8c8c" opacity="0.60" filter="url(#b1)"/>
<circle cx="817.5" cy="597.9" r="2.5" fill="#8c8c8c" opacity="0.58" filter="url(#b1)"/>
<circle cx="832.1" cy="591.3" r="4.2" fill="#b4b4b4" opacity="0.28" filter="url(#b1)"/>
<circle cx="806.8" cy="587.1" r="1.6" fill="#8c8c8c" opacity="0.38" filter="url(#b1)"/>
<circle cx="830.6" cy="598.2" r="2.7" fill="#8c8c8c" opacity="0.40" filter="url(#b1)"/>
<circle cx="825.7" cy="600.3" r="1.6" fill="#9c9c9c" opacity="0.31" filter="url(#b1)"/>
<circle cx="814.6" cy="586.6" r="2.7" fill="#8c8c8c" opacity="0.33" filter="url(#b1)"/>
<circle cx="796.3" cy="588.6" r="2.5" fill="#8c8c8c" opacity="0.33" filter="url(#b1)"/>
<circle cx="809.7" cy="596.9" r="2.7" fill="#8c8c8c" opacity="0.53" filter="url(#b1)"/>
<circle cx="822.0" cy="590.3" r="1.4" fill="#9c9c9c" opacity="0.57" filter="url(#b1)"/>
<circle cx="813.2" cy="586.7" r="3.9" fill="#7a7a7a" opacity="0.25" filter="url(#b1)"/>
<circle cx="808.7" cy="589.2" r="2.3" fill="#9c9c9c" opacity="0.37" filter="url(#b1)"/>
<circle cx="825.7" cy="594.0" r="2.0" fill="#b4b4b4" opacity="0.27" filter="url(#b1)"/>
<circle cx="831.0" cy="588.5" r="1.6" fill="#8c8c8c" opacity="0.54" filter="url(#b1)"/>
<circle cx="808.1" cy="593.9" r="2.2" fill="#b4b4b4" opacity="0.34" filter="url(#b1)"/>
<circle cx="821.2" cy="591.9" r="1.3" fill="#9c9c9c" opacity="0.33" filter="url(#b1)"/>
<circle cx="800.3" cy="583.0" r="1.4" fill="#8c8c8c" opacity="0.40" filter="url(#b1)"/>
<circle cx="814.8" cy="587.9" r="3.7" fill="#7a7a7a" opacity="0.42" filter="url(#b1)"/>
<circle cx="804.9" cy="587.9" r="2.9" fill="#7a7a7a" opacity="0.36" filter="url(#b1)"/>
<circle cx="814.0" cy="592.5" r="2.8" fill="#8c8c8c" opacity="0.58" filter="url(#b1)"/>
<circle cx="820.4" cy="595.2" r="1.5" fill="#7a7a7a" opacity="0.47" filter="url(#b1)"/>
<circle cx="925.6" cy="588.0" r="2.5" fill="#8c8c8c" opacity="0.46" filter="url(#b1)"/>
<circle cx="923.4" cy="595.7" r="1.6" fill="#8c8c8c" opacity="0.35" filter="url(#b1)"/>
<circle cx="927.4" cy="549.2" r="3.3" fill="#b4b4b4" opacity="0.53" filter="url(#b1)"/>
<circle cx="925.4" cy="560.7" r="1.9" fill="#8c8c8c" opacity="0.57" filter="url(#b1)"/>
<circle cx="918.4" cy="579.9" r="3.0" fill="#7a7a7a" opacity="0.41" filter="url(#b1)"/>
<circle cx="885.1" cy="577.5" r="1.5" fill="#8c8c8c" opacity="0.27" filter="url(#b1)"/>
<circle cx="930.5" cy="578.2" r="2.4" fill="#b4b4b4" opacity="0.56" filter="url(#b1)"/>
<circle cx="916.4" cy="561.8" r="1.3" fill="#7a7a7a" opacity="0.33" filter="url(#b1)"/>
<circle cx="906.2" cy="542.0" r="1.2" fill="#b4b4b4" opacity="0.54" filter="url(#b1)"/>
<circle cx="930.5" cy="569.7" r="1.6" fill="#7a7a7a" opacity="0.60" filter="url(#b1)"/>
<circle cx="923.4" cy="569.6" r="3.7" fill="#b4b4b4" opacity="0.39" filter="url(#b1)"/>
<circle cx="932.8" cy="580.4" r="2.8" fill="#7a7a7a" opacity="0.55" filter="url(#b1)"/>
<circle cx="922.1" cy="555.1" r="3.4" fill="#8c8c8c" opacity="0.51" filter="url(#b1)"/>
<circle cx="929.3" cy="567.0" r="2.4" fill="#7a7a7a" opacity="0.46" filter="url(#b1)"/>
<circle cx="933.2" cy="600.9" r="2.1" fill="#b4b4b4" opacity="0.34" filter="url(#b1)"/>
<circle cx="924.9" cy="582.7" r="2.0" fill="#9c9c9c" opacity="0.37" filter="url(#b1)"/>
<circle cx="934.8" cy="585.3" r="3.0" fill="#8c8c8c" opacity="0.33" filter="url(#b1)"/>
<circle cx="918.8" cy="577.7" r="1.2" fill="#b4b4b4" opacity="0.45" filter="url(#b1)"/>
<circle cx="935.9" cy="581.2" r="2.5" fill="#8c8c8c" opacity="0.28" filter="url(#b1)"/>
<circle cx="934.4" cy="601.3" r="3.5" fill="#7a7a7a" opacity="0.32" filter="url(#b1)"/>
<circle cx="930.6" cy="582.4" r="2.1" fill="#9c9c9c" opacity="0.28" filter="url(#b1)"/>
<circle cx="927.1" cy="576.7" r="3.7" fill="#7a7a7a" opacity="0.39" filter="url(#b1)"/>
<circle cx="912.0" cy="574.7" r="4.1" fill="#b4b4b4" opacity="0.44" filter="url(#b1)"/>
<circle cx="918.5" cy="584.0" r="1.3" fill="#7a7a7a" opacity="0.49" filter="url(#b1)"/>
<circle cx="908.0" cy="569.1" r="1.9" fill="#9c9c9c" opacity="0.53" filter="url(#b1)"/>
<circle cx="913.7" cy="563.2" r="3.4" fill="#9c9c9c" opacity="0.46" filter="url(#b1)"/>
<circle cx="906.9" cy="568.2" r="3.7" fill="#7a7a7a" opacity="0.26" filter="url(#b1)"/>
<circle cx="916.3" cy="568.2" r="1.6" fill="#8c8c8c" opacity="0.27" filter="url(#b1)"/>
<circle cx="917.4" cy="591.3" r="2.1" fill="#7a7a7a" opacity="0.31" filter="url(#b1)"/>
<circle cx="910.8" cy="601.3" r="3.3" fill="#7a7a7a" opacity="0.26" filter="url(#b1)"/>
<circle cx="935.6" cy="568.1" r="3.1" fill="#8c8c8c" opacity="0.31" filter="url(#b1)"/>
<circle cx="935.0" cy="581.6" r="3.8" fill="#b4b4b4" opacity="0.38" filter="url(#b1)"/>
<circle cx="907.9" cy="553.9" r="2.0" fill="#9c9c9c" opacity="0.59" filter="url(#b1)"/>
<circle cx="922.4" cy="578.5" r="3.2" fill="#8c8c8c" opacity="0.38" filter="url(#b1)"/>
<circle cx="921.6" cy="583.1" r="1.6" fill="#7a7a7a" opacity="0.60" filter="url(#b1)"/>
<circle cx="898.8" cy="603.5" r="3.9" fill="#9c9c9c" opacity="0.35" filter="url(#b1)"/>
<circle cx="895.6" cy="593.0" r="3.8" fill="#8c8c8c" opacity="0.44" filter="url(#b1)"/>
<circle cx="895.3" cy="597.6" r="2.4" fill="#9c9c9c" opacity="0.34" filter="url(#b1)"/>
<circle cx="888.8" cy="599.2" r="3.7" fill="#7a7a7a" opacity="0.26" filter="url(#b1)"/>
<circle cx="884.5" cy="598.2" r="1.4" fill="#7a7a7a" opacity="0.33" filter="url(#b1)"/>
<circle cx="900.0" cy="598.0" r="2.6" fill="#8c8c8c" opacity="0.57" filter="url(#b1)"/>
<circle cx="896.2" cy="597.4" r="3.1" fill="#7a7a7a" opacity="0.52" filter="url(#b1)"/>
<circle cx="900.0" cy="597.8" r="1.2" fill="#9c9c9c" opacity="0.50" filter="url(#b1)"/>
<circle cx="922.9" cy="596.6" r="3.1" fill="#b4b4b4" opacity="0.42" filter="url(#b1)"/>
<circle cx="902.5" cy="595.9" r="1.3" fill="#9c9c9c" opacity="0.30" filter="url(#b1)"/>
<circle cx="897.7" cy="596.5" r="1.6" fill="#b4b4b4" opacity="0.35" filter="url(#b1)"/>
<circle cx="881.1" cy="594.8" r="3.4" fill="#8c8c8c" opacity="0.36" filter="url(#b1)"/>
<circle cx="885.6" cy="594.8" r="2.9" fill="#7a7a7a" opacity="0.58" filter="url(#b1)"/>
<circle cx="895.3" cy="598.0" r="2.9" fill="#9c9c9c" opacity="0.49" filter="url(#b1)"/>
<circle cx="920.8" cy="598.5" r="3.7" fill="#9c9c9c" opacity="0.48" filter="url(#b1)"/>
<circle cx="711.3" cy="597.5" r="2.7" fill="#b4b4b4" opacity="0.54" filter="url(#b1)"/>
<circle cx="688.1" cy="599.6" r="4.2" fill="#7a7a7a" opacity="0.42" filter="url(#b1)"/>
<circle cx="675.9" cy="596.6" r="1.3" fill="#7a7a7a" opacity="0.33" filter="url(#b1)"/>
<circle cx="725.3" cy="595.2" r="3.3" fill="#8c8c8c" opacity="0.31" filter="url(#b1)"/>
<circle cx="708.2" cy="596.5" r="2.2" fill="#7a7a7a" opacity="0.39" filter="url(#b1)"/>
<circle cx="710.9" cy="596.5" r="1.7" fill="#9c9c9c" opacity="0.44" filter="url(#b1)"/>
<circle cx="676.1" cy="598.9" r="2.6" fill="#7a7a7a" opacity="0.51" filter="url(#b1)"/>
<circle cx="708.6" cy="600.8" r="3.3" fill="#8c8c8c" opacity="0.43" filter="url(#b1)"/>
<circle cx="681.2" cy="596.9" r="3.6" fill="#b4b4b4" opacity="0.32" filter="url(#b1)"/>
<circle cx="716.9" cy="600.5" r="4.2" fill="#b4b4b4" opacity="0.44" filter="url(#b1)"/>
<circle cx="556.0" cy="572.9" r="1.4" fill="#9c9c9c" opacity="0.59" filter="url(#b1)"/>
<circle cx="561.2" cy="561.5" r="2.4" fill="#9c9c9c" opacity="0.50" filter="url(#b1)"/>
<circle cx="568.4" cy="569.1" r="1.4" fill="#8c8c8c" opacity="0.50" filter="url(#b1)"/>
<circle cx="571.6" cy="572.8" r="1.8" fill="#7a7a7a" opacity="0.40" filter="url(#b1)"/>
<circle cx="530.0" cy="569.6" r="3.2" fill="#b4b4b4" opacity="0.46" filter="url(#b1)"/>
<circle cx="553.5" cy="566.7" r="3.4" fill="#9c9c9c" opacity="0.47" filter="url(#b1)"/>
<circle cx="569.7" cy="574.9" r="3.3" fill="#9c9c9c" opacity="0.58" filter="url(#b1)"/>
<circle cx="573.4" cy="569.7" r="2.6" fill="#b4b4b4" opacity="0.46" filter="url(#b1)"/>
<circle cx="617.6" cy="559.1" r="2.6" fill="#8c8c8c" opacity="0.42" filter="url(#b1)"/>
<circle cx="635.2" cy="554.6" r="2.6" fill="#8c8c8c" opacity="0.37" filter="url(#b1)"/>
<circle cx="627.7" cy="556.2" r="4.0" fill="#8c8c8c" opacity="0.51" filter="url(#b1)"/>
<circle cx="628.8" cy="559.7" r="4.0" fill="#b4b4b4" opacity="0.58" filter="url(#b1)"/>
<circle cx="640.0" cy="552.1" r="1.2" fill="#9c9c9c" opacity="0.46" filter="url(#b1)"/>
<circle cx="626.7" cy="562.9" r="3.5" fill="#7a7a7a" opacity="0.26" filter="url(#b1)"/>
<path d="M316.0,681.0 L320.0,680.9 L324.0,681.7 L328.0,681.1 L332.0,682.2 L336.0,681.5 L340.0,682.4 L344.0,682.6 L348.0,682.2 L352.0,682.5 L356.0,682.5 L360.0,682.5 L364.0,682.6 L368.0,682.9 L372.0,684.0 L376.0,684.5 L380.0,684.7 L384.0,683.8 L388.0,682.7 L392.0,682.1 L396.0,679.9 L400.0,679.1 L404.0,678.2 L408.0,678.3 L412.0,676.8 L416.0,676.8 L420.0,675.9 L424.0,675.6 L428.0,675.5 L432.0,676.6 L436.0,676.7 L440.0,676.4 L444.0,676.7 L448.0,678.2 L452.0,678.5 L456.0,679.7 L460.0,680.1 L464.0,681.0 L468.0,682.6 L472.0,683.1 L476.0,682.1 L480.0,681.3 L484.0,680.8 L488.0,681.0 L492.0,680.7 L496.0,680.1 L500.0,679.5 L504.0,679.5 L508.0,679.4 L512.0,679.3 L516.0,678.7 L520.0,677.7 L524.0,677.8 L528.0,679.0 L532.0,679.3 L536.0,680.2 L540.0,679.9 L544.0,681.1 L548.0,681.4 L552.0,682.6 L556.0,683.5 L560.0,683.7 L564.0,683.6 L568.0,685.2 L572.0,685.6 L576.0,686.6 L580.0,686.3 L584.0,686.3 L588.0,687.4 L592.0,687.4 L596.0,687.4 L600.0,687.9 L604.0,688.6 L608.0,688.3 L612.0,689.1 L616.0,689.5 L620.0,690.0 L624.0,689.8 L628.0,690.7 L632.0,691.3 L636.0,691.9 L640.0,691.5 L644.0,692.1 L648.0,692.1 L652.0,692.7 L656.0,692.2 L660.0,693.3 L664.0,693.8 L668.0,693.5 L672.0,693.4 L676.0,693.5 L680.0,693.6 L684.0,693.0 L688.0,694.1 L692.0,693.6 L696.0,693.4 L700.0,693.3 L704.0,693.2 L708.0,693.8 L712.0,692.8 L716.0,692.4 L720.0,693.0 L724.0,692.4 L728.0,691.8 L732.0,692.2 L736.0,692.2 L740.0,692.0 L744.0,692.0 L748.0,691.1 L752.0,691.5 L756.0,691.3 L760.0,690.2 L764.0,689.7 L768.0,689.9 L772.0,690.2 L776.0,690.6 L780.0,690.9 L784.0,691.7 L788.0,692.1 L792.0,693.0 L796.0,693.7 L800.0,693.2 L804.0,693.7 L808.0,694.2 L812.0,693.8 L816.0,694.6 L820.0,695.2 L824.0,694.8 L828.0,694.8 L832.0,695.2 L836.0,694.6 L840.0,693.9 L844.0,694.2 L848.0,693.8 L852.0,692.8 L856.0,692.1 L860.0,691.6 L864.0,691.4 L868.0,691.7 L872.0,691.9 L876.0,692.6 L880.0,693.1 L884.0,693.6 L888.0,693.1 L892.0,693.8 L896.0,695.0 L900.0,695.8 L904.0,694.8 L908.0,694.6 L912.0,694.7 L916.0,694.2 L920.0,694.2 L924.0,693.5 L928.0,693.6 L932.0,693.6 L936.0,692.9 L940.0,692.7 L944.0,693.6 L948.0,693.6 L951.5,693.8 L951.5,727.6 L951.0,727.8 L946.0,728.3 L941.0,728.0 L936.0,728.2 L931.0,728.7 L926.0,728.5 L921.0,728.5 L916.0,728.2 L911.0,728.5 L906.0,728.1 L901.0,728.4 L896.0,728.3 L891.0,728.1 L886.0,728.3 L881.0,728.4 L876.0,728.7 L871.0,728.8 L866.0,729.0 L861.0,728.9 L856.0,728.6 L851.0,728.7 L846.0,728.8 L841.0,728.8 L836.0,728.9 L831.0,729.1 L826.0,729.2 L821.0,729.4 L816.0,729.7 L811.0,730.2 L806.0,730.6 L801.0,730.7 L796.0,730.8 L791.0,731.2 L786.0,731.4 L781.0,731.0 L776.0,731.1 L771.0,731.1 L766.0,730.8 L761.0,731.2 L756.0,731.0 L751.0,731.4 L746.0,731.3 L741.0,731.3 L736.0,731.2 L731.0,731.3 L726.0,731.3 L721.0,731.3 L716.0,731.2 L711.0,731.4 L706.0,731.3 L701.0,731.1 L696.0,731.0 L691.0,730.7 L686.0,730.6 L681.0,730.6 L676.0,730.9 L671.0,730.7 L666.0,730.1 L661.0,730.1 L656.0,730.4 L651.0,730.0 L646.0,729.9 L641.0,729.7 L636.0,730.0 L631.0,730.1 L626.0,729.6 L621.0,729.9 L616.0,730.2 L611.0,730.0 L606.0,730.3 L601.0,729.8 L596.0,730.0 L591.0,730.0 L586.0,729.9 L581.0,730.1 L576.0,729.7 L571.0,729.6 L566.0,730.0 L561.0,729.8 L556.0,729.8 L551.0,729.7 L546.0,729.8 L541.0,730.5 L536.0,731.4 L531.0,732.2 L526.0,732.9 L521.0,732.7 L516.0,732.4 L511.0,731.8 L506.0,731.6 L501.0,731.2 L496.0,731.1 L491.0,731.0 L486.0,730.6 L481.0,730.3 L476.0,730.4 L471.0,730.4 L466.0,730.3 L461.0,730.1 L456.0,730.0 L451.0,730.0 L446.0,730.1 L441.0,730.3 L436.0,730.1 L431.0,730.1 L426.0,730.2 L421.0,730.3 L416.0,729.9 L411.0,729.7 L406.0,729.9 L401.0,729.7 L396.0,729.8 L391.0,730.0 L386.0,729.6 L381.0,729.6 L376.0,729.5 L371.0,729.7 L366.0,729.8 L361.0,729.4 L356.0,729.2 L351.0,729.4 L346.0,729.1 L341.0,729.3 L336.0,729.1 L331.0,729.6 L326.0,729.5 L321.0,729.3 L316.0,729.1Z" fill="#545454" filter="url(#b05)"/>
<ellipse cx="365" cy="708" rx="55" ry="15" fill="#868686" opacity="0.55" filter="url(#b4)"/>
<path d="M316.0,681.0 L320.0,680.9 L324.0,681.7 L328.0,681.1 L332.0,682.2 L336.0,681.5 L340.0,682.4 L344.0,682.6 L348.0,682.2 L352.0,682.5 L356.0,682.5 L360.0,682.5 L364.0,682.6 L368.0,682.9 L372.0,684.0 L376.0,684.5 L380.0,684.7 L384.0,683.8 L388.0,682.7 L392.0,682.1 L396.0,679.9 L400.0,679.1 L404.0,678.2 L408.0,678.3 L412.0,676.8 L416.0,676.8 L420.0,675.9 L424.0,675.6 L428.0,675.5 L432.0,676.6 L436.0,676.7 L440.0,676.4 L444.0,676.7 L448.0,678.2 L452.0,678.5 L456.0,679.7 L460.0,680.1 L464.0,681.0 L468.0,682.6 L472.0,683.1 L476.0,682.1 L480.0,681.3 L484.0,680.8 L488.0,681.0 L492.0,680.7 L496.0,680.1 L500.0,679.5 L504.0,679.5 L508.0,679.4 L512.0,679.3 L516.0,678.7 L520.0,677.7 L524.0,677.8 L528.0,679.0 L532.0,679.3 L536.0,680.2 L540.0,679.9 L544.0,681.1 L548.0,681.4 L552.0,682.6 L556.0,683.5 L560.0,683.7 L564.0,683.6 L568.0,685.2 L572.0,685.6 L576.0,686.6 L580.0,686.3 L584.0,686.3 L588.0,687.4 L592.0,687.4 L596.0,687.4 L600.0,687.9 L604.0,688.6 L608.0,688.3 L612.0,689.1 L616.0,689.5 L620.0,690.0 L624.0,689.8 L628.0,690.7 L632.0,691.3 L636.0,691.9 L640.0,691.5 L644.0,692.1 L648.0,692.1 L652.0,692.7 L656.0,692.2 L660.0,693.3 L664.0,693.8 L668.0,693.5 L672.0,693.4 L676.0,693.5 L680.0,693.6 L684.0,693.0 L688.0,694.1 L692.0,693.6 L696.0,693.4 L700.0,693.3 L704.0,693.2 L708.0,693.8 L712.0,692.8 L716.0,692.4 L720.0,693.0 L724.0,692.4 L728.0,691.8 L732.0,692.2 L736.0,692.2 L740.0,692.0 L744.0,692.0 L748.0,691.1 L752.0,691.5 L756.0,691.3 L760.0,690.2 L764.0,689.7 L768.0,689.9 L772.0,690.2 L776.0,690.6 L780.0,690.9 L784.0,691.7 L788.0,692.1 L792.0,693.0 L796.0,693.7 L800.0,693.2 L804.0,693.7 L808.0,694.2 L812.0,693.8 L816.0,694.6 L820.0,695.2 L824.0,694.8 L828.0,694.8 L832.0,695.2 L836.0,694.6 L840.0,693.9 L844.0,694.2 L848.0,693.8 L852.0,692.8 L856.0,692.1 L860.0,691.6 L864.0,691.4 L868.0,691.7 L872.0,691.9 L876.0,692.6 L880.0,693.1 L884.0,693.6 L888.0,693.1 L892.0,693.8 L896.0,695.0 L900.0,695.8 L904.0,694.8 L908.0,694.6 L912.0,694.7 L916.0,694.2 L920.0,694.2 L924.0,693.5 L928.0,693.6 L932.0,693.6 L936.0,692.9 L940.0,692.7 L944.0,693.6 L948.0,693.6 L951.5,693.8 L951.5,727.6 L951.0,727.8 L946.0,728.3 L941.0,728.0 L936.0,728.2 L931.0,728.7 L926.0,728.5 L921.0,728.5 L916.0,728.2 L911.0,728.5 L906.0,728.1 L901.0,728.4 L896.0,728.3 L891.0,728.1 L886.0,728.3 L881.0,728.4 L876.0,728.7 L871.0,728.8 L866.0,729.0 L861.0,728.9 L856.0,728.6 L851.0,728.7 L846.0,728.8 L841.0,728.8 L836.0,728.9 L831.0,729.1 L826.0,729.2 L821.0,729.4 L816.0,729.7 L811.0,730.2 L806.0,730.6 L801.0,730.7 L796.0,730.8 L791.0,731.2 L786.0,731.4 L781.0,731.0 L776.0,731.1 L771.0,731.1 L766.0,730.8 L761.0,731.2 L756.0,731.0 L751.0,731.4 L746.0,731.3 L741.0,731.3 L736.0,731.2 L731.0,731.3 L726.0,731.3 L721.0,731.3 L716.0,731.2 L711.0,731.4 L706.0,731.3 L701.0,731.1 L696.0,731.0 L691.0,730.7 L686.0,730.6 L681.0,730.6 L676.0,730.9 L671.0,730.7 L666.0,730.1 L661.0,730.1 L656.0,730.4 L651.0,730.0 L646.0,729.9 L641.0,729.7 L636.0,730.0 L631.0,730.1 L626.0,729.6 L621.0,729.9 L616.0,730.2 L611.0,730.0 L606.0,730.3 L601.0,729.8 L596.0,730.0 L591.0,730.0 L586.0,729.9 L581.0,730.1 L576.0,729.7 L571.0,729.6 L566.0,730.0 L561.0,729.8 L556.0,729.8 L551.0,729.7 L546.0,729.8 L541.0,730.5 L536.0,731.4 L531.0,732.2 L526.0,732.9 L521.0,732.7 L516.0,732.4 L511.0,731.8 L506.0,731.6 L501.0,731.2 L496.0,731.1 L491.0,731.0 L486.0,730.6 L481.0,730.3 L476.0,730.4 L471.0,730.4 L466.0,730.3 L461.0,730.1 L456.0,730.0 L451.0,730.0 L446.0,730.1 L441.0,730.3 L436.0,730.1 L431.0,730.1 L426.0,730.2 L421.0,730.3 L416.0,729.9 L411.0,729.7 L406.0,729.9 L401.0,729.7 L396.0,729.8 L391.0,730.0 L386.0,729.6 L381.0,729.6 L376.0,729.5 L371.0,729.7 L366.0,729.8 L361.0,729.4 L356.0,729.2 L351.0,729.4 L346.0,729.1 L341.0,729.3 L336.0,729.1 L331.0,729.6 L326.0,729.5 L321.0,729.3 L316.0,729.1Z" fill="#000" opacity="0.36" filter="url(#rock)"/>
<path d="M316.0,680.0 L320.0,679.9 L324.0,680.7 L328.0,680.1 L332.0,681.2 L336.0,680.5 L340.0,681.4 L344.0,681.6 L348.0,681.2 L352.0,681.5 L356.0,681.5 L360.0,681.5 L364.0,681.6 L368.0,681.9 L372.0,683.0 L376.0,683.5 L380.0,683.7 L384.0,682.8 L388.0,681.7 L392.0,681.1 L396.0,678.9 L400.0,678.1 L404.0,677.2 L408.0,677.3 L412.0,675.8 L416.0,675.8 L420.0,674.9 L424.0,674.6 L428.0,674.5 L432.0,675.6 L436.0,675.7 L440.0,675.4 L444.0,675.7 L448.0,677.2 L452.0,677.5 L456.0,678.7 L460.0,679.1 L464.0,680.0 L468.0,681.6 L472.0,682.1 L476.0,681.1 L480.0,680.3 L484.0,679.8 L488.0,680.0 L492.0,679.7 L496.0,679.1 L500.0,678.5 L504.0,678.5 L508.0,678.4 L512.0,678.3 L516.0,677.7 L520.0,676.7 L524.0,676.8 L528.0,678.0 L532.0,678.3 L536.0,679.2 L540.0,678.9 L544.0,680.1 L548.0,680.4 L552.0,681.6 L556.0,682.5 L560.0,682.7 L564.0,682.6 L568.0,684.2 L572.0,684.6 L576.0,685.6 L580.0,685.3 L584.0,685.3 L588.0,686.4 L592.0,686.4 L596.0,686.4 L600.0,686.9 L604.0,687.6 L608.0,687.3 L612.0,688.1 L616.0,688.5 L620.0,689.0 L624.0,688.8 L628.0,689.7 L632.0,690.3 L636.0,690.9 L640.0,690.5 L644.0,691.1 L648.0,691.1 L652.0,691.7 L656.0,691.2 L660.0,692.3 L664.0,692.8 L668.0,692.5 L672.0,692.4 L676.0,692.5 L680.0,692.6 L684.0,692.0 L688.0,693.1 L692.0,692.6 L696.0,692.4 L700.0,692.3 L704.0,692.2 L708.0,692.8 L712.0,691.8 L716.0,691.4 L720.0,692.0 L724.0,691.4 L728.0,690.8 L732.0,691.2 L736.0,691.2 L740.0,691.0 L744.0,691.0 L748.0,690.1 L752.0,690.5 L756.0,690.3 L760.0,689.2 L764.0,688.7 L768.0,688.9 L772.0,689.2 L776.0,689.6 L780.0,689.9 L784.0,690.7 L788.0,691.1 L792.0,692.0 L796.0,692.7 L800.0,692.2 L804.0,692.7 L808.0,693.2 L812.0,692.8 L816.0,693.6 L820.0,694.2 L824.0,693.8 L828.0,693.8 L832.0,694.2 L836.0,693.6 L840.0,692.9 L844.0,693.2 L848.0,692.8 L852.0,691.8 L856.0,691.1 L860.0,690.6 L864.0,690.4 L868.0,690.7 L872.0,690.9 L876.0,691.6 L880.0,692.1 L884.0,692.6 L888.0,692.1 L892.0,692.8 L896.0,694.0 L900.0,694.8 L904.0,693.8 L908.0,693.6 L912.0,693.7 L916.0,693.2 L920.0,693.2 L924.0,692.5 L928.0,692.6 L932.0,692.6 L936.0,691.9 L940.0,691.7 L944.0,692.6 L948.0,692.6 L951.5,692.8" fill="none" stroke="#9a9a9a" stroke-width="7" opacity="0.5" filter="url(#b2)"/>
<path d="M320.0,684.1 L324.0,684.9 L328.0,684.3 L332.0,685.4 L336.0,684.7 L340.0,685.6 L344.0,685.8 L348.0,685.4 L352.0,685.7 L356.0,685.7 L360.0,685.7 L364.0,685.8 L368.0,686.1 L372.0,687.2 L376.0,687.7 L380.0,687.9 L384.0,687.0 L388.0,685.9 L392.0,685.3 L396.0,683.1 L400.0,682.3" fill="none" stroke="#222" stroke-width="2" opacity="0.7" filter="url(#b05)"/>
<path d="M520.0,680.9 L524.0,681.0 L528.0,682.2 L532.0,682.5 L536.0,683.4 L540.0,683.1 L544.0,684.3 L548.0,684.6 L552.0,685.8 L556.0,686.7 L560.0,686.9 L564.0,686.8 L568.0,688.4 L572.0,688.8 L576.0,689.8 L580.0,689.5 L584.0,689.5 L588.0,690.6 L592.0,690.6 L596.0,690.6 L600.0,691.1" fill="none" stroke="#222" stroke-width="2" opacity="0.7" filter="url(#b05)"/>
<path d="M640.0,694.7 L644.0,695.3 L648.0,695.3 L652.0,695.9 L656.0,695.4 L660.0,696.5 L664.0,697.0 L668.0,696.7 L672.0,696.6 L676.0,696.7 L680.0,696.8 L684.0,696.2 L688.0,697.3 L692.0,696.8 L696.0,696.6 L700.0,696.5" fill="none" stroke="#222" stroke-width="2" opacity="0.7" filter="url(#b05)"/>
<path d="M832.0,698.4 L836.0,697.8 L840.0,697.1 L844.0,697.4 L848.0,697.0 L852.0,696.0 L856.0,695.3 L860.0,694.8 L864.0,694.6 L868.0,694.9 L872.0,695.1 L876.0,695.8 L880.0,696.3 L884.0,696.8 L888.0,696.3 L892.0,697.0 L896.0,698.2 L900.0,699.0 L904.0,698.0" fill="none" stroke="#222" stroke-width="2" opacity="0.7" filter="url(#b05)"/>
<path d="M316.0,681.0 L320.0,680.9 L324.0,681.7 L328.0,681.1 L332.0,682.2 L336.0,681.5 L340.0,682.4 L344.0,682.6 L348.0,682.2 L352.0,682.5 L356.0,682.5 L360.0,682.5 L364.0,682.6 L368.0,682.9 L372.0,684.0 L376.0,684.5 L380.0,684.7 L384.0,683.8 L388.0,682.7 L392.0,682.1 L396.0,679.9 L400.0,679.1 L404.0,678.2 L408.0,678.3 L412.0,676.8 L416.0,676.8 L420.0,675.9 L424.0,675.6 L428.0,675.5 L432.0,676.6 L436.0,676.7 L440.0,676.4 L444.0,676.7 L448.0,678.2 L452.0,678.5 L456.0,679.7 L460.0,680.1 L464.0,681.0 L468.0,682.6 L472.0,683.1 L476.0,682.1 L480.0,681.3 L484.0,680.8 L488.0,681.0 L492.0,680.7 L496.0,680.1 L500.0,679.5 L504.0,679.5 L508.0,679.4 L512.0,679.3 L516.0,678.7 L520.0,677.7 L524.0,677.8 L528.0,679.0 L532.0,679.3 L536.0,680.2 L540.0,679.9 L544.0,681.1 L548.0,681.4 L552.0,682.6 L556.0,683.5 L560.0,683.7 L564.0,683.6 L568.0,685.2 L572.0,685.6 L576.0,686.6 L580.0,686.3 L584.0,686.3 L588.0,687.4 L592.0,687.4 L596.0,687.4 L600.0,687.9" fill="none" stroke="#e2e2e2" stroke-width="2.2" filter="url(#b05)"/>
<path d="M596.0,687.4 L600.0,687.9 L604.0,688.6 L608.0,688.3 L612.0,689.1 L616.0,689.5 L620.0,690.0 L624.0,689.8 L628.0,690.7 L632.0,691.3 L636.0,691.9 L640.0,691.5 L644.0,692.1 L648.0,692.1 L652.0,692.7 L656.0,692.2 L660.0,693.3 L664.0,693.8 L668.0,693.5 L672.0,693.4 L676.0,693.5 L680.0,693.6 L684.0,693.0 L688.0,694.1 L692.0,693.6 L696.0,693.4 L700.0,693.3 L704.0,693.2 L708.0,693.8 L712.0,692.8 L716.0,692.4 L720.0,693.0 L724.0,692.4 L728.0,691.8 L732.0,692.2 L736.0,692.2 L740.0,692.0 L744.0,692.0 L748.0,691.1 L752.0,691.5 L756.0,691.3 L760.0,690.2 L764.0,689.7 L768.0,689.9 L772.0,690.2 L776.0,690.6 L780.0,690.9 L784.0,691.7 L788.0,692.1 L792.0,693.0 L796.0,693.7 L800.0,693.2 L804.0,693.7 L808.0,694.2 L812.0,693.8 L816.0,694.6 L820.0,695.2 L824.0,694.8 L828.0,694.8 L832.0,695.2 L836.0,694.6 L840.0,693.9 L844.0,694.2 L848.0,693.8 L852.0,692.8 L856.0,692.1 L860.0,691.6 L864.0,691.4 L868.0,691.7 L872.0,691.9 L876.0,692.6 L880.0,693.1 L884.0,693.6 L888.0,693.1 L892.0,693.8 L896.0,695.0 L900.0,695.8 L904.0,694.8 L908.0,694.6 L912.0,694.7 L916.0,694.2 L920.0,694.2 L924.0,693.5 L928.0,693.6 L932.0,693.6 L936.0,692.9 L940.0,692.7 L944.0,693.6 L948.0,693.6 L951.5,693.8" fill="none" stroke="#b4b4b4" stroke-width="2.4" opacity="0.8" filter="url(#b1)"/>
<path d="M316.0,729.1 L321.0,729.3 L326.0,729.5 L331.0,729.6 L336.0,729.1 L341.0,729.3 L346.0,729.1 L351.0,729.4 L356.0,729.2 L361.0,729.4 L366.0,729.8 L371.0,729.7 L376.0,729.5 L381.0,729.6 L386.0,729.6 L391.0,730.0 L396.0,729.8 L401.0,729.7 L406.0,729.9 L411.0,729.7 L416.0,729.9 L421.0,730.3 L426.0,730.2 L431.0,730.1 L436.0,730.1 L441.0,730.3 L446.0,730.1 L451.0,730.0 L456.0,730.0 L461.0,730.1 L466.0,730.3 L471.0,730.4 L476.0,730.4 L481.0,730.3 L486.0,730.6 L491.0,731.0 L496.0,731.1 L501.0,731.2 L506.0,731.6 L511.0,731.8 L516.0,732.4 L521.0,732.7 L526.0,732.9 L531.0,732.2 L536.0,731.4 L541.0,730.5 L546.0,729.8 L551.0,729.7 L556.0,729.8 L561.0,729.8 L566.0,730.0 L571.0,729.6 L576.0,729.7 L581.0,730.1 L586.0,729.9 L591.0,730.0 L596.0,730.0 L601.0,729.8 L606.0,730.3 L611.0,730.0 L616.0,730.2 L621.0,729.9 L626.0,729.6 L631.0,730.1 L636.0,730.0 L641.0,729.7 L646.0,729.9 L651.0,730.0 L656.0,730.4 L661.0,730.1 L666.0,730.1 L671.0,730.7 L676.0,730.9 L681.0,730.6 L686.0,730.6 L691.0,730.7 L696.0,731.0 L701.0,731.1 L706.0,731.3 L711.0,731.4 L716.0,731.2 L721.0,731.3 L726.0,731.3 L731.0,731.3 L736.0,731.2 L741.0,731.3 L746.0,731.3 L751.0,731.4 L756.0,731.0 L761.0,731.2 L766.0,730.8 L771.0,731.1 L776.0,731.1 L781.0,731.0 L786.0,731.4 L791.0,731.2 L796.0,730.8 L801.0,730.7 L806.0,730.6 L811.0,730.2 L816.0,729.7 L821.0,729.4 L826.0,729.2 L831.0,729.1 L836.0,728.9 L841.0,728.8 L846.0,728.8 L851.0,728.7 L856.0,728.6 L861.0,728.9 L866.0,729.0 L871.0,728.8 L876.0,728.7 L881.0,728.4 L886.0,728.3 L891.0,728.1 L896.0,728.3 L901.0,728.4 L906.0,728.1 L911.0,728.5 L916.0,728.2 L921.0,728.5 L926.0,728.5 L931.0,728.7 L936.0,728.2 L941.0,728.0 L946.0,728.3 L951.0,727.8 L951.5,727.6" fill="none" stroke="#a0a0a0" stroke-width="6" opacity="0.5" filter="url(#b2)"/>
<path d="M316.0,729.1 L321.0,729.3 L326.0,729.5 L331.0,729.6 L336.0,729.1 L341.0,729.3 L346.0,729.1 L351.0,729.4 L356.0,729.2 L361.0,729.4 L366.0,729.8 L371.0,729.7 L376.0,729.5 L381.0,729.6 L386.0,729.6 L391.0,730.0 L396.0,729.8 L401.0,729.7 L406.0,729.9 L411.0,729.7 L416.0,729.9 L421.0,730.3 L426.0,730.2 L431.0,730.1 L436.0,730.1 L441.0,730.3 L446.0,730.1 L451.0,730.0 L456.0,730.0 L461.0,730.1 L466.0,730.3 L471.0,730.4 L476.0,730.4 L481.0,730.3 L486.0,730.6 L491.0,731.0 L496.0,731.1 L501.0,731.2 L506.0,731.6 L511.0,731.8 L516.0,732.4 L521.0,732.7 L526.0,732.9 L531.0,732.2 L536.0,731.4 L541.0,730.5 L546.0,729.8 L551.0,729.7 L556.0,729.8 L561.0,729.8 L566.0,730.0 L571.0,729.6 L576.0,729.7 L581.0,730.1 L586.0,729.9 L591.0,730.0 L596.0,730.0 L601.0,729.8 L606.0,730.3 L611.0,730.0 L616.0,730.2 L621.0,729.9 L626.0,729.6 L631.0,730.1 L636.0,730.0 L641.0,729.7 L646.0,729.9 L651.0,730.0 L656.0,730.4 L661.0,730.1 L666.0,730.1 L671.0,730.7 L676.0,730.9 L681.0,730.6 L686.0,730.6 L691.0,730.7 L696.0,731.0 L701.0,731.1 L706.0,731.3 L711.0,731.4 L716.0,731.2 L721.0,731.3 L726.0,731.3 L731.0,731.3 L736.0,731.2 L741.0,731.3 L746.0,731.3 L751.0,731.4 L756.0,731.0 L761.0,731.2 L766.0,730.8 L771.0,731.1 L776.0,731.1 L781.0,731.0 L786.0,731.4 L791.0,731.2 L796.0,730.8 L801.0,730.7 L806.0,730.6 L811.0,730.2 L816.0,729.7 L821.0,729.4 L826.0,729.2 L831.0,729.1 L836.0,728.9 L841.0,728.8 L846.0,728.8 L851.0,728.7 L856.0,728.6 L861.0,728.9 L866.0,729.0 L871.0,728.8 L876.0,728.7 L881.0,728.4 L886.0,728.3 L891.0,728.1 L896.0,728.3 L901.0,728.4 L906.0,728.1 L911.0,728.5 L916.0,728.2 L921.0,728.5 L926.0,728.5 L931.0,728.7 L936.0,728.2 L941.0,728.0 L946.0,728.3 L951.0,727.8 L951.5,727.6" fill="none" stroke="#dcdcdc" stroke-width="2.2" filter="url(#b05)"/>
<ellipse cx="408" cy="707" rx="4" ry="5" fill="#1e1e1e" opacity="0.8" filter="url(#b05)"/>
<ellipse cx="326" cy="716" rx="5" ry="4" fill="#1e1e1e" opacity="0.8" filter="url(#b05)"/>
<ellipse cx="541" cy="713" rx="2" ry="5" fill="#1e1e1e" opacity="0.8" filter="url(#b05)"/>
<ellipse cx="905" cy="702" rx="6" ry="3" fill="#1e1e1e" opacity="0.8" filter="url(#b05)"/>
<rect x="318" y="542" width="632" height="467" filter="url(#grain)" opacity="0.05"/>
</g>
<g fill="none" stroke="#e8191c" stroke-width="6">
<path d="M321.5,70.6 Q315.2,72.5 315.2,82 V92" />
<path d="M315,106 V129" />
<path d="M938.5,69.8 Q948.3,71.5 949,84.5" />
<path d="M949,101.2 V122" stroke-width="5"/>
<path d="M948.3,135.5 Q947.6,141 941,141 H927.6" />
</g>
<rect x="333" y="66.75" width="56" height="6.5" fill="#e8191c"/>
<rect x="406.0" y="66.8" width="20.5" height="6.5" fill="#e8191c"/>
<rect x="441.5" y="66.8" width="20.5" height="6.5" fill="#e8191c"/>
<rect x="477.0" y="66.8" width="20.5" height="6.5" fill="#e8191c"/>
<rect x="512.5" y="66.8" width="20.5" height="6.5" fill="#e8191c"/>
<rect x="548.0" y="66.8" width="20.5" height="6.5" fill="#e8191c"/>
<rect x="583.5" y="66.8" width="20.5" height="6.5" fill="#e8191c"/>
<rect x="619.0" y="66.8" width="20.5" height="6.5" fill="#e8191c"/>
<rect x="654.5" y="66.8" width="20.5" height="6.5" fill="#e8191c"/>
<rect x="690.0" y="66.8" width="20.5" height="6.5" fill="#e8191c"/>
<rect x="725.5" y="66.8" width="20.5" height="6.5" fill="#e8191c"/>
<rect x="761.0" y="66.8" width="20.5" height="6.5" fill="#e8191c"/>
<rect x="796.5" y="66.8" width="20.5" height="6.5" fill="#e8191c"/>
<rect x="832.0" y="66.8" width="20.5" height="6.5" fill="#e8191c"/>
<rect x="867.5" y="66.8" width="20.5" height="6.5" fill="#e8191c"/>
<rect x="903.0" y="66.8" width="20.5" height="6.5" fill="#e8191c"/>
<rect x="323.0" y="137.8" width="20.5" height="6.5" fill="#e8191c"/>
<rect x="358.5" y="137.8" width="20.5" height="6.5" fill="#e8191c"/>
<rect x="394.0" y="137.8" width="20.5" height="6.5" fill="#e8191c"/>
<rect x="429.5" y="137.8" width="20.5" height="6.5" fill="#e8191c"/>
<rect x="465.0" y="137.8" width="20.5" height="6.5" fill="#e8191c"/>
<rect x="500.5" y="137.8" width="20.5" height="6.5" fill="#e8191c"/>
<rect x="536.0" y="137.8" width="20.5" height="6.5" fill="#e8191c"/>
<rect x="571.5" y="137.8" width="20.5" height="6.5" fill="#e8191c"/>
<rect x="607.0" y="137.8" width="20.5" height="6.5" fill="#e8191c"/>
<rect x="642.5" y="137.8" width="20.5" height="6.5" fill="#e8191c"/>
<rect x="678.0" y="137.8" width="20.5" height="6.5" fill="#e8191c"/>
<rect x="713.5" y="137.8" width="20.5" height="6.5" fill="#e8191c"/>
<rect x="749.0" y="137.8" width="20.5" height="6.5" fill="#e8191c"/>
<rect x="784.5" y="137.8" width="20.5" height="6.5" fill="#e8191c"/>
<rect x="820.0" y="137.8" width="20.5" height="6.5" fill="#e8191c"/>
<rect x="855.5" y="137.8" width="20.5" height="6.5" fill="#e8191c"/>
<rect x="891.0" y="137.8" width="20.5" height="6.5" fill="#e8191c"/>
<g fill="none" stroke="#e8191c" stroke-width="5.5">
<path d="M336,607 A18,20 0 0 0 318.5,633" />
<path d="M318.5,650 V671" />
<path d="M318.5,688 V704 Q318.5,714 324.5,720.5" />
<path d="M932,607 A17,18 0 0 1 949,627" />
<path d="M949,641 V662" />
<path d="M949,677 V698" />
<path d="M949,714 A16,16 0 0 1 935,729.5" />
</g>
<rect x="335.7" y="604.2" width="20.5" height="5.6" fill="#e8191c"/>
<rect x="371.2" y="604.2" width="20.5" height="5.6" fill="#e8191c"/>
<rect x="406.7" y="604.2" width="20.5" height="5.6" fill="#e8191c"/>
<rect x="442.2" y="604.2" width="20.5" height="5.6" fill="#e8191c"/>
<rect x="477.7" y="604.2" width="20.5" height="5.6" fill="#e8191c"/>
<rect x="513.2" y="604.2" width="20.5" height="5.6" fill="#e8191c"/>
<rect x="548.7" y="604.2" width="20.5" height="5.6" fill="#e8191c"/>
<rect x="584.2" y="604.2" width="20.5" height="5.6" fill="#e8191c"/>
<rect x="619.7" y="604.2" width="20.5" height="5.6" fill="#e8191c"/>
<rect x="655.2" y="604.2" width="20.5" height="5.6" fill="#e8191c"/>
<rect x="690.7" y="604.2" width="20.5" height="5.6" fill="#e8191c"/>
<rect x="726.2" y="604.2" width="20.5" height="5.6" fill="#e8191c"/>
<rect x="761.7" y="604.2" width="20.5" height="5.6" fill="#e8191c"/>
<rect x="797.2" y="604.2" width="20.5" height="5.6" fill="#e8191c"/>
<rect x="832.7" y="604.2" width="20.5" height="5.6" fill="#e8191c"/>
<rect x="868.2" y="604.2" width="20.5" height="5.6" fill="#e8191c"/>
<rect x="903.7" y="604.2" width="20.5" height="5.6" fill="#e8191c"/>
<rect x="332.5" y="726.7" width="20.5" height="5.6" fill="#e8191c"/>
<rect x="368.0" y="726.7" width="20.5" height="5.6" fill="#e8191c"/>
<rect x="403.5" y="726.7" width="20.5" height="5.6" fill="#e8191c"/>
<rect x="439.0" y="726.7" width="20.5" height="5.6" fill="#e8191c"/>
<rect x="474.5" y="726.7" width="20.5" height="5.6" fill="#e8191c"/>
<rect x="510.0" y="726.7" width="20.5" height="5.6" fill="#e8191c"/>
<rect x="545.5" y="726.7" width="20.5" height="5.6" fill="#e8191c"/>
<rect x="581.0" y="726.7" width="20.5" height="5.6" fill="#e8191c"/>
<rect x="616.5" y="726.7" width="20.5" height="5.6" fill="#e8191c"/>
<rect x="652.0" y="726.7" width="20.5" height="5.6" fill="#e8191c"/>
<rect x="687.5" y="726.7" width="20.5" height="5.6" fill="#e8191c"/>
<rect x="723.0" y="726.7" width="20.5" height="5.6" fill="#e8191c"/>
<rect x="758.5" y="726.7" width="20.5" height="5.6" fill="#e8191c"/>
<rect x="794.0" y="726.7" width="20.5" height="5.6" fill="#e8191c"/>
<rect x="829.5" y="726.7" width="20.5" height="5.6" fill="#e8191c"/>
<rect x="865.0" y="726.7" width="20.5" height="5.6" fill="#e8191c"/>
<rect x="900.5" y="726.7" width="20.5" height="5.6" fill="#e8191c"/>
<rect x="737" y="476.5" width="204" height="5" fill="#000"/>
<rect x="735.6" y="1000.4" width="204" height="4.6" fill="#000"/>
<g>
<path d="M1306,452.0 L1306.0,451.2 L1307.0,450.9 L1308.0,446.9 L1309.0,451.2 L1310.0,449.8 L1311.0,446.4 L1312.0,450.6 L1313.0,451.0 L1314.0,451.1 L1315.0,450.3 L1316.0,449.6 L1317.0,450.8 L1318.0,450.3 L1319.0,450.7 L1320.0,447.0 L1321.0,450.1 L1322.0,450.0 L1323.0,448.7 L1324.0,413.9 L1325.0,334.4 L1326.0,277.8 L1327.0,265.2 L1328.0,258.9 L1329.0,285.5 L1330.0,352.9 L1331.0,426.6 L1332.0,447.3 L1333.0,448.1 L1334.0,435.9 L1335.0,412.4 L1336.0,382.7 L1337.0,361.4 L1338.0,352.1 L1339.0,357.7 L1340.0,350.5 L1341.0,348.0 L1342.0,346.6 L1343.0,345.8 L1344.0,350.9 L1345.0,323.8 L1346.0,280.1 L1347.0,224.8 L1348.0,198.5 L1349.0,208.6 L1350.0,267.7 L1351.0,328.9 L1352.0,384.9 L1353.0,423.5 L1354.0,436.5 L1355.0,443.5 L1356.0,444.9 L1357.0,443.7 L1358.0,444.0 L1359.0,444.9 L1360.0,445.0 L1361.0,443.2 L1362.0,438.8 L1363.0,442.8 L1364.0,441.7 L1365.0,442.3 L1366.0,443.5 L1367.0,441.0 L1368.0,439.9 L1369.0,442.8 L1370.0,440.9 L1371.0,437.6 L1372.0,441.0 L1373.0,439.2 L1374.0,440.1 L1375.0,441.5 L1376.0,440.1 L1377.0,440.4 L1378.0,438.5 L1379.0,436.9 L1380.0,438.8 L1381.0,437.5 L1382.0,430.5 L1383.0,438.9 L1384.0,438.4 L1385.0,437.7 L1386.0,433.2 L1387.0,439.0 L1388.0,427.9 L1389.0,438.4 L1390.0,433.9 L1391.0,435.4 L1392.0,437.2 L1393.0,435.0 L1394.0,433.2 L1395.0,434.6 L1396.0,433.8 L1397.0,436.4 L1398.0,435.2 L1399.0,434.7 L1400.0,433.2 L1401.0,432.1 L1402.0,438.6 L1403.0,435.7 L1404.0,436.3 L1405.0,432.9 L1406.0,433.9 L1407.0,435.6 L1408.0,433.2 L1409.0,433.8 L1410.0,430.0 L1411.0,433.6 L1412.0,435.5 L1413.0,434.6 L1414.0,434.6 L1415.0,432.6 L1416.0,433.5 L1417.0,436.7 L1418.0,432.1 L1419.0,434.6 L1420.0,429.1 L1421.0,435.5 L1422.0,433.5 L1423.0,427.4 L1424.0,413.3 L1425.0,404.8 L1426.0,378.2 L1427.0,355.5 L1428.0,341.8 L1429.0,340.1 L1430.0,353.1 L1431.0,375.4 L1432.0,395.0 L1433.0,411.2 L1434.0,421.3 L1435.0,431.0 L1436.0,436.2 L1437.0,437.6 L1438.0,429.3 L1439.0,433.7 L1440.0,437.7 L1441.0,436.7 L1442.0,435.3 L1443.0,434.4 L1444.0,435.3 L1445.0,434.7 L1446.0,429.7 L1447.0,419.4 L1448.0,419.8 L1449.0,419.4 L1450.0,416.5 L1451.0,421.6 L1452.0,421.6 L1453.0,430.2 L1454.0,432.4 L1455.0,436.2 L1456.0,436.8 L1457.0,438.9 L1458.0,437.5 L1459.0,440.1 L1460.0,440.3 L1461.0,439.1 L1462.0,438.6 L1463.0,436.4 L1464.0,440.8 L1465.0,439.6 L1466.0,436.8 L1467.0,440.3 L1468.0,437.1 L1469.0,429.4 L1470.0,432.3 L1471.0,426.4 L1472.0,420.4 L1473.0,424.3 L1474.0,415.6 L1475.0,413.9 L1476.0,411.8 L1477.0,412.9 L1478.0,417.2 L1479.0,421.5 L1480.0,426.7 L1481.0,427.2 L1482.0,429.5 L1483.0,433.1 L1484.0,432.8 L1485.0,435.8 L1486.0,435.1 L1487.0,435.0 L1488.0,434.7 L1489.0,439.2 L1490.0,436.5 L1491.0,435.0 L1492.0,436.4 L1493.0,433.9 L1494.0,437.3 L1495.0,433.6 L1496.0,431.6 L1497.0,432.6 L1498.0,434.3 L1499.0,435.1 L1500.0,433.5 L1501.0,436.5 L1502.0,436.4 L1503.0,436.6 L1504.0,439.2 L1505.0,438.4 L1506.0,439.8 L1507.0,439.7 L1508.0,441.6 L1509.0,442.5 L1510.0,441.8 L1511.0,439.8 L1512.0,441.8 L1513.0,443.2 L1514.0,441.0 L1515.0,441.0 L1516.0,439.4 L1517.0,442.1 L1518.0,438.0 L1519.0,442.8 L1520.0,443.3 L1521.0,438.8 L1522.0,441.8 L1523.0,441.2 L1524.0,441.0 L1525.0,439.1 L1526.0,440.5 L1527.0,442.8 L1528.0,440.8 L1529.0,441.5 L1530.0,442.9 L1531.0,440.3 L1532.0,443.5 L1533.0,441.0 L1534.0,442.4 L1535.0,446.1 L1536.0,444.2 L1537.0,441.8 L1538.0,441.0 L1539.0,442.5 L1540.0,442.8 L1541.0,446.2 L1542.0,445.0 L1543.0,442.1 L1544.0,445.1 L1545.0,446.1 L1546.0,444.1 L1547.0,442.0 L1548.0,442.7 L1549.0,444.5 L1550.0,441.3 L1551.0,444.9 L1552.0,444.4 L1553.0,444.8 L1554.0,443.2 L1555.0,443.6 L1556.0,445.6 L1557.0,444.4 L1558.0,442.5 L1559.0,442.5 L1560.0,445.5 L1561.0,445.1 L1562.0,441.4 L1563.0,445.2 L1564.0,444.9 L1565.0,443.1 L1566.0,446.4 L1567.0,444.8 L1568.0,445.9 L1569.0,446.2 L1570.0,438.0 L1571.0,444.4 L1572.0,443.0 L1573.0,445.9 L1574.0,445.5 L1575.0,444.1 L1576.0,444.6 L1577.0,445.8 L1578.0,445.2 L1579.0,445.1 L1580.0,447.2 L1581.0,445.4 L1582.0,443.6 L1583.0,443.9 L1584.0,442.5 L1585.0,441.9 L1586.0,439.0 L1587.0,435.3 L1588.0,433.6 L1589.0,434.5 L1590.0,428.7 L1591.0,431.5 L1592.0,430.2 L1593.0,429.1 L1594.0,429.6 L1595.0,432.1 L1596.0,435.0 L1597.0,438.3 L1598.0,438.0 L1599.0,442.2 L1600.0,442.0 L1601.0,443.2 L1602.0,441.6 L1603.0,441.6 L1604.0,439.3 L1605.0,434.6 L1606.0,438.3 L1607.0,429.7 L1608.0,430.3 L1609.0,432.6 L1610.0,431.7 L1611.0,437.5 L1612.0,434.4 L1613.0,440.5 L1614.0,440.2 L1615.0,440.9 L1616.0,444.8 L1617.0,445.4 L1618.0,445.6 L1619.0,446.5 L1620.0,446.8 L1621.0,445.5 L1622.0,446.1 L1623.0,445.4 L1624.0,445.7 L1625.0,447.0 L1626.0,446.2 L1627.0,437.3 L1628.0,447.2 L1629.0,446.7 L1630.0,446.5 L1631.0,448.1 L1632.0,438.6 L1633.0,447.0 L1634.0,446.5 L1635.0,446.5 L1636.0,448.7 L1637.0,447.8 L1638.0,447.9 L1639.0,446.8 L1640.0,446.7 L1641.0,446.3 L1642.0,446.4 L1643.0,447.3 L1644.0,446.6 L1645.0,440.4 L1646.0,447.7 L1647.0,441.6 L1648.0,444.4 L1649.0,447.0 L1650.0,448.3 L1651.0,445.0 L1652.0,448.3 L1653.0,448.3 L1654.0,446.3 L1655.0,446.8 L1656.0,448.9 L1657.0,446.8 L1658.0,447.1 L1659.0,447.6 L1660.0,446.0 L1661.0,447.4 L1662.0,447.6 L1663.0,437.9 L1664.0,447.1 L1665.0,446.0 L1666.0,442.1 L1667.0,442.2 L1668.0,434.8 L1669.0,433.3 L1670.0,423.1 L1671.0,414.0 L1672.0,399.6 L1673.0,381.3 L1674.0,358.2 L1675.0,328.8 L1676.0,291.8 L1677.0,256.3 L1678.0,199.5 L1679.0,142.9 L1680.0,97.5 L1681.0,68.8 L1682.0,63.8 L1683.0,83.6 L1684.0,128.8 L1685.0,187.8 L1686.0,227.0 L1687.0,275.0 L1688.0,316.9 L1689.0,347.7 L1690.0,379.4 L1691.0,393.0 L1692.0,408.6 L1693.0,417.2 L1694.0,418.0 L1695.0,434.8 L1696.0,439.2 L1697.0,442.1 L1698.0,446.1 L1699.0,444.9 L1700.0,445.7 L1701.0,448.1 L1702.0,447.3 L1703.0,448.0 L1704.0,447.0 L1705.0,447.0 L1706.0,447.4 L1707.0,443.2 L1708.0,440.9 L1709.0,434.5 L1710.0,437.1 L1711.0,430.7 L1712.0,426.9 L1713.0,418.5 L1714.0,412.8 L1715.0,409.2 L1716.0,402.5 L1717.0,403.8 L1718.0,404.2 L1719.0,411.3 L1720.0,413.5 L1721.0,424.7 L1722.0,428.4 L1723.0,434.4 L1724.0,440.4 L1725.0,441.2 L1726.0,445.5 L1727.0,443.3 L1728.0,447.1 L1729.0,447.7 L1730.0,449.2 L1731.0,448.9 L1732.0,448.1 L1733.0,448.0 L1734.0,449.3 L1735.0,443.6 L1736.0,448.8 L1737.0,450.7 L1738.0,448.4 L1739.0,447.3 L1740.0,449.3 L1741.0,448.2 L1742.0,449.3 L1743.0,446.9 L1744.0,449.7 L1745.0,449.5 L1746.0,449.5 L1747.0,450.3 L1748.0,448.6 L1749.0,449.9 L1750.0,447.2 L1751.0,449.1 L1752.0,450.4 L1753.0,448.9 L1754.0,449.2 L1755.0,448.6 L1756.0,448.9 L1757.0,448.0 L1758.0,448.8 L1759.0,448.9 L1760.0,448.4 L1761.0,449.6 L1762.0,448.5 L1763.0,449.1 L1764.0,449.6 L1765.0,449.5 L1766.0,449.0 L1767.0,449.3 L1768.0,450.0 L1769.0,449.3 L1770.0,448.7 L1771.0,446.6 L1772.0,448.8 L1773.0,449.1 L1774.0,449.8 L1775.0,449.6 L1776.0,448.6 L1777.0,450.0 L1778.0,449.8 L1779.0,450.6 L1780.0,449.3 L1781.0,449.2 L1782.0,449.9 L1783.0,449.6 L1784.0,448.6 L1785.0,450.8 L1786.0,448.7 L1787.0,448.8 L1788.0,450.4 L1789.0,448.5 L1790.0,449.2 L1791.0,449.3 L1792.0,449.6 L1793.0,450.2 L1794.0,449.5 L1795.0,449.2 L1796.0,449.2 L1797.0,448.8 L1798.0,449.4 L1799.0,442.9 L1800.0,450.5 L1801.0,448.7 L1802.0,449.1 L1803.0,448.9 L1804.0,448.9 L1805.0,449.1 L1806.0,448.5 L1807.0,447.8 L1808.0,450.0 L1809.0,449.9 L1810.0,448.7 L1811.0,443.0 L1812.0,448.9 L1813.0,449.1 L1814.0,449.3 L1815.0,449.4 L1816.0,449.2 L1817.0,450.1 L1818.0,449.8 L1819.0,450.1 L1820.0,449.2 L1821.0,450.8 L1822.0,450.0 L1823.0,449.4 L1824.0,449.7 L1825.0,449.9 L1826.0,449.7 L1827.0,450.5 L1828.0,450.1 L1829.0,449.2 L1830.0,449.6 L1831.0,451.2 L1832.0,449.1 L1833.0,450.2 L1834.0,450.0 L1835.0,450.4 L1836.0,451.5 L1837.0,450.9 L1838.0,451.6 L1839.0,451.2 L1840.0,450.4 L1841.0,451.3 L1842.0,451.3 L1843.0,451.2 L1844.0,450.4 L1845.0,450.6 L1846.0,451.5 L1847.0,451.1 L1848.0,450.6 L1849.0,450.6 L1850.0,450.6 L1851.0,450.7 L1852.0,450.8 L1853.0,451.1 L1854.0,450.5 L1855.0,451.0 L1856.0,451.6 L1857.0,450.9 L1858.0,450.5 L1859.0,450.9 L1860.0,451.4 L1861.0,451.2 L1862.0,451.5 L1863.0,451.6 L1864.0,451.2 L1865.0,451.5 L1866.0,451.2 L1867.0,450.4 L1868.0,451.5 L1869.0,451.4 L1870.0,451.1 L1871.0,450.8 L1872.0,450.6 L1873.0,451.5 L1874.0,450.8 L1875.0,450.9 L1876.0,451.3 L1877.0,450.8 L1878.0,451.1 L1879.0,451.6 L1880.0,451.4 L1881.0,450.6 L1882.0,451.0 L1883.0,451.0 L1883.5,452.0 Z" fill="#858585"/>
<path d="M1320.0,449.0 L1320.0,450.2 L1321.0,450.1 L1322.0,450.0 L1323.0,448.2 L1324.0,415.9 L1325.0,332.6 L1326.0,277.3 L1327.0,255.8 L1328.0,258.4 L1329.0,284.1 L1330.0,348.8 L1331.0,426.7 L1332.0,447.8 L1333.0,446.5 L1334.0,436.2 L1334.0,449.0 Z" fill="#4b8a8a"/>
<path d="M1306.0,451.7 L1307.0,450.9 L1308.0,451.9 L1309.0,451.4 L1310.0,450.4 L1311.0,451.6 L1312.0,451.5 L1313.0,450.4 L1314.0,449.5 L1315.0,451.0 L1316.0,450.1 L1317.0,450.2 L1318.0,450.3 L1319.0,450.2 L1320.0,448.7 L1321.0,449.6 L1322.0,449.3 L1323.0,448.1 L1324.0,415.9 L1325.0,332.6 L1326.0,277.3 L1327.0,255.8 L1328.0,258.4 L1329.0,284.1 L1330.0,348.8 L1331.0,426.7 L1332.0,448.5 L1333.0,446.3 L1334.0,434.7 L1335.0,411.9 L1336.0,382.2 L1337.0,360.9 L1338.0,351.6 L1339.0,349.3 L1340.0,348.7 L1341.0,347.5 L1342.0,346.1 L1343.0,345.3 L1344.0,341.7 L1345.0,323.3 L1346.0,279.6 L1347.0,224.3 L1348.0,192.7 L1349.0,207.3 L1350.0,261.2 L1351.0,328.4 L1352.0,384.4 L1353.0,419.3 L1354.0,436.8 L1355.0,441.2 L1356.0,445.1 L1357.0,444.0 L1358.0,444.4 L1359.0,443.1 L1360.0,445.0 L1361.0,443.0 L1362.0,443.2 L1363.0,443.6 L1364.0,441.8 L1365.0,442.9 L1366.0,442.9 L1367.0,441.1 L1368.0,440.9 L1369.0,440.5 L1370.0,439.8 L1371.0,441.6 L1372.0,440.0 L1373.0,438.8 L1374.0,439.2 L1375.0,439.1 L1376.0,439.8 L1377.0,438.5 L1378.0,437.7 L1379.0,438.2 L1380.0,439.0 L1381.0,437.3 L1382.0,437.5 L1383.0,438.7 L1384.0,436.4 L1385.0,436.4 L1386.0,436.8 L1387.0,435.9 L1388.0,435.6 L1389.0,437.2 L1390.0,436.3 L1391.0,436.7 L1392.0,437.0 L1393.0,435.3 L1394.0,435.2 L1395.0,436.4 L1396.0,434.7 L1397.0,434.3 L1398.0,434.6 L1399.0,434.8 L1400.0,434.2 L1401.0,433.6 L1402.0,433.5 L1403.0,435.7 L1404.0,434.1 L1405.0,434.3 L1406.0,433.7 L1407.0,434.7 L1408.0,433.6 L1409.0,435.4 L1410.0,435.2 L1411.0,433.3 L1412.0,433.9 L1413.0,433.8 L1414.0,434.7 L1415.0,435.2 L1416.0,433.6 L1417.0,434.5 L1418.0,433.1 L1419.0,433.7 L1420.0,434.0 L1421.0,432.8 L1422.0,431.0 L1423.0,425.5 L1424.0,414.8 L1425.0,398.0 L1426.0,376.4 L1427.0,355.0 L1428.0,340.9 L1429.0,339.6 L1430.0,351.6 L1431.0,372.3 L1432.0,394.5 L1433.0,412.7 L1434.0,424.8 L1435.0,431.3 L1436.0,433.5 L1437.0,435.4 L1438.0,436.6 L1439.0,437.1 L1440.0,436.7 L1441.0,437.1 L1442.0,437.2 L1443.0,436.2 L1444.0,436.0 L1445.0,434.1 L1446.0,429.6 L1447.0,426.2 L1448.0,421.7 L1449.0,418.2 L1450.0,416.9 L1451.0,418.4 L1452.0,422.2 L1453.0,426.9 L1454.0,431.5 L1455.0,433.6 L1456.0,436.0 L1457.0,437.9 L1458.0,438.2 L1459.0,439.2 L1460.0,437.6 L1461.0,439.9 L1462.0,439.5 L1463.0,438.4 L1464.0,438.2 L1465.0,439.3 L1466.0,438.0 L1467.0,437.1 L1468.0,435.7 L1469.0,434.5 L1470.0,431.1 L1471.0,426.7 L1472.0,423.1 L1473.0,418.2 L1474.0,414.1 L1475.0,411.6 L1476.0,411.3 L1477.0,413.1 L1478.0,416.5 L1479.0,420.6 L1480.0,424.8 L1481.0,427.1 L1482.0,430.1 L1483.0,432.9 L1484.0,434.4 L1485.0,435.2 L1486.0,434.7 L1487.0,435.8 L1488.0,435.6 L1489.0,436.7 L1490.0,435.2 L1491.0,436.4 L1492.0,434.1 L1493.0,433.8 L1494.0,434.0 L1495.0,432.9 L1496.0,434.4 L1497.0,432.9 L1498.0,433.5 L1499.0,433.2 L1500.0,434.6 L1501.0,435.1 L1502.0,437.6 L1503.0,437.6 L1504.0,439.2 L1505.0,440.1 L1506.0,439.0 L1507.0,439.7 L1508.0,440.7 L1509.0,440.0 L1510.0,440.3 L1511.0,441.9 L1512.0,442.0 L1513.0,441.1 L1514.0,441.3 L1515.0,441.2 L1516.0,441.5 L1517.0,441.8 L1518.0,441.9 L1519.0,440.1 L1520.0,440.1 L1521.0,441.4 L1522.0,441.6 L1523.0,440.2 L1524.0,440.4 L1525.0,439.9 L1526.0,441.8 L1527.0,441.2 L1528.0,440.9 L1529.0,440.2 L1530.0,442.2 L1531.0,442.5 L1532.0,441.8 L1533.0,442.1 L1534.0,442.4 L1535.0,443.1 L1536.0,441.4 L1537.0,442.2 L1538.0,442.7 L1539.0,443.0 L1540.0,443.3 L1541.0,443.8 L1542.0,443.3 L1543.0,443.8 L1544.0,442.7 L1545.0,444.2 L1546.0,442.5 L1547.0,443.6 L1548.0,443.1 L1549.0,444.0 L1550.0,444.5 L1551.0,444.7 L1552.0,443.4 L1553.0,444.5 L1554.0,443.0 L1555.0,444.7 L1556.0,444.2 L1557.0,444.1 L1558.0,444.6 L1559.0,443.2 L1560.0,443.7 L1561.0,445.2 L1562.0,444.6 L1563.0,443.2 L1564.0,444.8 L1565.0,445.0 L1566.0,444.1 L1567.0,444.6 L1568.0,444.5 L1569.0,443.6 L1570.0,445.3 L1571.0,445.3 L1572.0,445.6 L1573.0,443.6 L1574.0,445.5 L1575.0,444.6 L1576.0,444.6 L1577.0,445.3 L1578.0,444.1 L1579.0,445.0 L1580.0,444.5 L1581.0,444.6 L1582.0,444.6 L1583.0,444.4 L1584.0,444.0 L1585.0,442.0 L1586.0,439.7 L1587.0,436.0 L1588.0,434.6 L1589.0,430.6 L1590.0,428.8 L1591.0,427.2 L1592.0,426.7 L1593.0,426.3 L1594.0,429.3 L1595.0,432.3 L1596.0,433.5 L1597.0,437.6 L1598.0,439.8 L1599.0,441.0 L1600.0,441.1 L1601.0,442.6 L1602.0,440.3 L1603.0,440.7 L1604.0,437.8 L1605.0,435.2 L1606.0,432.9 L1607.0,431.1 L1608.0,431.4 L1609.0,430.5 L1610.0,430.7 L1611.0,433.6 L1612.0,436.2 L1613.0,438.6 L1614.0,440.3 L1615.0,442.6 L1616.0,444.0 L1617.0,445.3 L1618.0,445.5 L1619.0,446.8 L1620.0,446.2 L1621.0,446.0 L1622.0,445.3 L1623.0,446.9 L1624.0,445.3 L1625.0,446.8 L1626.0,447.4 L1627.0,447.5 L1628.0,446.1 L1629.0,447.1 L1630.0,446.2 L1631.0,445.5 L1632.0,446.4 L1633.0,446.7 L1634.0,447.4 L1635.0,446.0 L1636.0,446.5 L1637.0,445.9 L1638.0,446.7 L1639.0,446.0 L1640.0,447.9 L1641.0,446.4 L1642.0,446.7 L1643.0,447.4 L1644.0,448.0 L1645.0,446.4 L1646.0,447.3 L1647.0,447.4 L1648.0,448.1 L1649.0,446.8 L1650.0,447.2 L1651.0,446.1 L1652.0,448.0 L1653.0,447.7 L1654.0,447.3 L1655.0,447.1 L1656.0,447.2 L1657.0,447.0 L1658.0,447.3 L1659.0,446.0 L1660.0,446.9 L1661.0,447.0 L1662.0,445.8 L1663.0,445.5 L1664.0,445.0 L1665.0,443.8 L1666.0,443.5 L1667.0,439.6 L1668.0,437.6 L1669.0,431.4 L1670.0,423.4 L1671.0,412.8 L1672.0,398.8 L1673.0,380.8 L1674.0,357.7 L1675.0,328.3 L1676.0,291.3 L1677.0,246.3 L1678.0,194.9 L1679.0,142.4 L1680.0,97.0 L1681.0,68.3 L1682.0,63.3 L1683.0,83.1 L1684.0,122.9 L1685.0,173.8 L1686.0,226.5 L1687.0,274.5 L1688.0,314.8 L1689.0,347.1 L1690.0,372.6 L1691.0,392.5 L1692.0,408.1 L1693.0,420.0 L1694.0,428.5 L1695.0,434.5 L1696.0,440.5 L1697.0,441.9 L1698.0,443.8 L1699.0,445.0 L1700.0,446.7 L1701.0,447.2 L1702.0,446.4 L1703.0,446.3 L1704.0,448.1 L1705.0,446.3 L1706.0,444.9 L1707.0,443.9 L1708.0,441.7 L1709.0,439.7 L1710.0,437.9 L1711.0,433.3 L1712.0,428.1 L1713.0,421.6 L1714.0,414.1 L1715.0,407.0 L1716.0,402.0 L1717.0,400.8 L1718.0,403.7 L1719.0,409.7 L1720.0,417.2 L1721.0,424.5 L1722.0,430.9 L1723.0,434.7 L1724.0,437.8 L1725.0,442.4 L1726.0,444.3 L1727.0,444.2 L1728.0,445.2 L1729.0,447.2 L1730.0,447.6 L1731.0,447.5 L1732.0,449.1 L1733.0,449.1 L1734.0,448.3 L1735.0,447.5 L1736.0,449.5 L1737.0,447.5 L1738.0,448.4 L1739.0,449.6 L1740.0,449.5 L1741.0,448.7 L1742.0,448.6 L1743.0,449.0 L1744.0,448.0 L1745.0,449.5 L1746.0,447.7 L1747.0,449.4 L1748.0,447.9 L1749.0,448.1 L1750.0,449.0 L1751.0,449.2 L1752.0,449.4 L1753.0,448.2 L1754.0,448.1 L1755.0,448.7 L1756.0,449.0 L1757.0,449.0 L1758.0,448.7 L1759.0,447.9 L1760.0,449.4 L1761.0,448.9 L1762.0,449.9 L1763.0,448.0 L1764.0,449.5 L1765.0,449.8 L1766.0,448.3 L1767.0,449.6 L1768.0,450.0 L1769.0,448.5 L1770.0,449.3 L1771.0,449.4 L1772.0,450.0 L1773.0,448.8 L1774.0,449.4 L1775.0,449.0 L1776.0,449.5 L1777.0,448.2 L1778.0,448.5 L1779.0,449.1 L1780.0,448.6 L1781.0,449.3 L1782.0,449.1 L1783.0,448.4 L1784.0,449.7 L1785.0,448.7 L1786.0,448.3 L1787.0,449.7 L1788.0,448.9 L1789.0,449.2 L1790.0,450.1 L1791.0,450.2 L1792.0,449.4 L1793.0,448.7 L1794.0,448.5 L1795.0,450.0 L1796.0,448.4 L1797.0,449.7 L1798.0,448.9 L1799.0,448.2 L1800.0,448.5 L1801.0,449.3 L1802.0,448.0 L1803.0,449.0 L1804.0,449.2 L1805.0,450.2 L1806.0,449.3 L1807.0,449.9 L1808.0,450.2 L1809.0,448.0 L1810.0,449.3 L1811.0,448.4 L1812.0,450.2 L1813.0,450.1 L1814.0,448.6 L1815.0,448.6 L1816.0,449.0 L1817.0,450.4 L1818.0,450.1 L1819.0,450.3 L1820.0,448.3 L1821.0,450.5 L1822.0,449.0 L1823.0,450.3 L1824.0,448.2 L1825.0,449.6 L1826.0,448.3 L1827.0,448.2 L1828.0,449.5 L1829.0,448.6 L1830.0,448.7 L1831.0,449.4 L1832.0,449.7 L1833.0,449.5 L1834.0,449.4 L1835.0,450.6" fill="none" stroke="#488888" stroke-width="2" stroke-linejoin="round"/>
<path d="M1835.0,450.3 L1836.0,450.8 L1837.0,450.8 L1838.0,450.8 L1839.0,450.8 L1840.0,450.8 L1841.0,450.8 L1842.0,450.8 L1843.0,450.8 L1844.0,450.8 L1845.0,450.8 L1846.0,450.8 L1847.0,450.8 L1848.0,450.9 L1849.0,450.9 L1850.0,450.9 L1851.0,450.9 L1852.0,450.9 L1853.0,450.9 L1854.0,450.9 L1855.0,450.9 L1856.0,450.9 L1857.0,450.9 L1858.0,450.9 L1859.0,450.9 L1860.0,450.9 L1861.0,450.9 L1862.0,450.9 L1863.0,450.9 L1864.0,450.9 L1865.0,450.9 L1866.0,450.9 L1867.0,450.9 L1868.0,450.9 L1869.0,450.9 L1870.0,450.9 L1871.0,450.9 L1872.0,450.9 L1873.0,451.0 L1874.0,451.0 L1875.0,451.0 L1876.0,451.0 L1877.0,451.0 L1878.0,451.0 L1879.0,451.0 L1880.0,451.0 L1881.0,451.0 L1882.0,451.0 L1883.0,451.0" fill="none" stroke="#4f8d8d" stroke-width="1" opacity="0.8"/>
<path d="M1306.0,451.4 L1307.0,451.0 L1308.0,451.2 L1309.0,451.5 L1310.0,450.7 L1311.0,451.0 L1312.0,450.6 L1313.0,450.9 L1314.0,451.3 L1315.0,450.5 L1316.0,450.4 L1317.0,451.0 L1318.0,450.1 L1319.0,450.4 L1320.0,450.0 L1321.0,450.1 L1322.0,449.9 L1323.0,450.2 L1324.0,449.9 L1325.0,450.1 L1326.0,449.3 L1327.0,449.0 L1328.0,448.8 L1329.0,448.7 L1330.0,448.6 L1331.0,449.2 L1332.0,448.3 L1333.0,448.6 L1334.0,447.8 L1335.0,448.0 L1336.0,447.6 L1337.0,447.3 L1338.0,447.5 L1339.0,446.9 L1340.0,446.7 L1341.0,446.3 L1342.0,446.2 L1343.0,446.6 L1344.0,446.6 L1345.0,446.4 L1346.0,445.6 L1347.0,446.2 L1348.0,446.0 L1349.0,446.0 L1350.0,446.1 L1351.0,445.2 L1352.0,445.9 L1353.0,445.7 L1354.0,445.5 L1355.0,445.4 L1356.0,444.7 L1357.0,445.1 L1358.0,445.0 L1359.0,444.4 L1360.0,444.7 L1361.0,443.7 L1362.0,443.7 L1363.0,443.4 L1364.0,442.8 L1365.0,442.7 L1366.0,441.9 L1367.0,442.0 L1368.0,441.4 L1369.0,441.1 L1370.0,440.9 L1371.0,440.3 L1372.0,440.9 L1373.0,440.5 L1374.0,439.6 L1375.0,440.0 L1376.0,439.8 L1377.0,439.7 L1378.0,439.3 L1379.0,439.0 L1380.0,438.9 L1381.0,438.9 L1382.0,438.7 L1383.0,438.2 L1384.0,437.8 L1385.0,437.9 L1386.0,437.4 L1387.0,436.9 L1388.0,437.4 L1389.0,436.6 L1390.0,436.5 L1391.0,436.7 L1392.0,435.9 L1393.0,436.2 L1394.0,436.0 L1395.0,436.2 L1396.0,435.5 L1397.0,435.9 L1398.0,435.3 L1399.0,435.0 L1400.0,434.6 L1401.0,434.7 L1402.0,435.0 L1403.0,434.6 L1404.0,434.6 L1405.0,434.4 L1406.0,434.7 L1407.0,434.4 L1408.0,434.7 L1409.0,435.1 L1410.0,435.0 L1411.0,434.6 L1412.0,434.7 L1413.0,434.3 L1414.0,434.5 L1415.0,434.5 L1416.0,434.3 L1417.0,434.8 L1418.0,434.6 L1419.0,435.0 L1420.0,434.5 L1421.0,435.0 L1422.0,434.7 L1423.0,434.8 L1424.0,434.8 L1425.0,435.6 L1426.0,434.9 L1427.0,435.1 L1428.0,435.4 L1429.0,435.7 L1430.0,435.6 L1431.0,436.0 L1432.0,436.1 L1433.0,435.7 L1434.0,436.0 L1435.0,435.6 L1436.0,436.4 L1437.0,436.4 L1438.0,436.5 L1439.0,436.5 L1440.0,436.9 L1441.0,437.3 L1442.0,437.2 L1443.0,437.4 L1444.0,437.1 L1445.0,437.2 L1446.0,437.4 L1447.0,437.7 L1448.0,438.1 L1449.0,437.4 L1450.0,437.5 L1451.0,437.6 L1452.0,438.5 L1453.0,438.1 L1454.0,438.8 L1455.0,438.7 L1456.0,439.0 L1457.0,439.0 L1458.0,438.7 L1459.0,439.1 L1460.0,439.4 L1461.0,439.4 L1462.0,439.1 L1463.0,439.4 L1464.0,439.4 L1465.0,439.6 L1466.0,439.5 L1467.0,439.3 L1468.0,440.0 L1469.0,440.1 L1470.0,440.0 L1471.0,439.9 L1472.0,440.1 L1473.0,440.0 L1474.0,440.8 L1475.0,440.8 L1476.0,440.8 L1477.0,441.3 L1478.0,441.2 L1479.0,440.9 L1480.0,441.6 L1481.0,441.1 L1482.0,441.5 L1483.0,441.7 L1484.0,441.1 L1485.0,442.0 L1486.0,442.0 L1487.0,441.5 L1488.0,442.0 L1489.0,441.3 L1490.0,441.4 L1491.0,441.6 L1492.0,441.5 L1493.0,441.4 L1494.0,442.3 L1495.0,441.6 L1496.0,441.6 L1497.0,442.5 L1498.0,442.5 L1499.0,442.7 L1500.0,442.4 L1501.0,442.4 L1502.0,442.6 L1503.0,442.8 L1504.0,442.4 L1505.0,443.0 L1506.0,442.8 L1507.0,442.7 L1508.0,442.4 L1509.0,442.6 L1510.0,442.8 L1511.0,442.6 L1512.0,443.1 L1513.0,442.8 L1514.0,443.3 L1515.0,443.0 L1516.0,443.1 L1517.0,442.9 L1518.0,443.2 L1519.0,442.7 L1520.0,443.1 L1521.0,443.4 L1522.0,442.8 L1523.0,443.5 L1524.0,443.3 L1525.0,443.8 L1526.0,443.3 L1527.0,443.2 L1528.0,443.4 L1529.0,443.7 L1530.0,443.6 L1531.0,443.8 L1532.0,443.4 L1533.0,443.5 L1534.0,444.0 L1535.0,444.0 L1536.0,443.6 L1537.0,444.0 L1538.0,444.2 L1539.0,443.7 L1540.0,444.1 L1541.0,443.6 L1542.0,444.3 L1543.0,444.5 L1544.0,444.2 L1545.0,444.3 L1546.0,444.2 L1547.0,444.1 L1548.0,443.9 L1549.0,444.0 L1550.0,444.4 L1551.0,444.7 L1552.0,444.3 L1553.0,444.0 L1554.0,444.0 L1555.0,444.2 L1556.0,444.7 L1557.0,445.0 L1558.0,444.5 L1559.0,444.4 L1560.0,445.1 L1561.0,444.5 L1562.0,444.4 L1563.0,444.5 L1564.0,444.5 L1565.0,444.5 L1566.0,445.1 L1567.0,445.2 L1568.0,445.3 L1569.0,445.2 L1570.0,444.8 L1571.0,444.9 L1572.0,444.7 L1573.0,445.2 L1574.0,444.8 L1575.0,445.3 L1576.0,445.1 L1577.0,445.1 L1578.0,445.2 L1579.0,445.1 L1580.0,445.4 L1581.0,445.0 L1582.0,444.9 L1583.0,445.0 L1584.0,445.3 L1585.0,445.3 L1586.0,445.3 L1587.0,445.6 L1588.0,445.5 L1589.0,445.2 L1590.0,445.2 L1591.0,446.1 L1592.0,445.4 L1593.0,445.6 L1594.0,446.3 L1595.0,445.6 L1596.0,445.7 L1597.0,445.8 L1598.0,445.5 L1599.0,446.3 L1600.0,445.7 L1601.0,445.9 L1602.0,445.9 L1603.0,446.5 L1604.0,446.4 L1605.0,446.3 L1606.0,445.8 L1607.0,446.6 L1608.0,446.2 L1609.0,446.4 L1610.0,446.4 L1611.0,446.3 L1612.0,446.0 L1613.0,446.8 L1614.0,446.0 L1615.0,446.8 L1616.0,446.6 L1617.0,446.6 L1618.0,446.4 L1619.0,446.5 L1620.0,446.6 L1621.0,446.8 L1622.0,446.5 L1623.0,446.2 L1624.0,446.7 L1625.0,446.4 L1626.0,446.5 L1627.0,446.9 L1628.0,446.8 L1629.0,447.2 L1630.0,447.0 L1631.0,446.4 L1632.0,447.1 L1633.0,446.5 L1634.0,446.6 L1635.0,447.1 L1636.0,447.5 L1637.0,447.1 L1638.0,447.3 L1639.0,447.0 L1640.0,447.2 L1641.0,447.5 L1642.0,447.3 L1643.0,447.6 L1644.0,447.0 L1645.0,446.8 L1646.0,447.7 L1647.0,447.3 L1648.0,446.9 L1649.0,447.4 L1650.0,447.5 L1651.0,447.8 L1652.0,447.4 L1653.0,447.6 L1654.0,447.2 L1655.0,447.8 L1656.0,447.5 L1657.0,447.8 L1658.0,447.1 L1659.0,447.6 L1660.0,448.0 L1661.0,448.0 L1662.0,447.9 L1663.0,447.9 L1664.0,447.4 L1665.0,447.6 L1666.0,447.6 L1667.0,447.7 L1668.0,448.0 L1669.0,448.2 L1670.0,447.4 L1671.0,448.1 L1672.0,447.5 L1673.0,447.6 L1674.0,447.5 L1675.0,447.8 L1676.0,448.0 L1677.0,448.2 L1678.0,447.7 L1679.0,448.2 L1680.0,448.5 L1681.0,447.6 L1682.0,447.9 L1683.0,448.5 L1684.0,448.6 L1685.0,447.7 L1686.0,447.9 L1687.0,448.7 L1688.0,448.7 L1689.0,448.7 L1690.0,448.4 L1691.0,448.2 L1692.0,448.0 L1693.0,448.8 L1694.0,448.6 L1695.0,448.5 L1696.0,448.4 L1697.0,448.6 L1698.0,448.3 L1699.0,448.6 L1700.0,448.9 L1701.0,449.0 L1702.0,448.1 L1703.0,448.9 L1704.0,448.3 L1705.0,448.9 L1706.0,448.2 L1707.0,448.5 L1708.0,448.6 L1709.0,449.1 L1710.0,448.1 L1711.0,448.3 L1712.0,448.7 L1713.0,448.7 L1714.0,448.8 L1715.0,448.4 L1716.0,448.7 L1717.0,448.7 L1718.0,449.1 L1719.0,448.7 L1720.0,449.0 L1721.0,448.5 L1722.0,449.2 L1723.0,449.1 L1724.0,448.9 L1725.0,448.7 L1726.0,448.7 L1727.0,448.6 L1728.0,448.7 L1729.0,449.0 L1730.0,448.5 L1731.0,448.5 L1732.0,448.8 L1733.0,448.6 L1734.0,448.4 L1735.0,448.6 L1736.0,448.9 L1737.0,449.4 L1738.0,449.0 L1739.0,449.0 L1740.0,449.3 L1741.0,448.6 L1742.0,448.7 L1743.0,449.2 L1744.0,449.3 L1745.0,448.8 L1746.0,448.9 L1747.0,448.8 L1748.0,448.9 L1749.0,449.2 L1750.0,449.1 L1751.0,449.0 L1752.0,448.6 L1753.0,449.5 L1754.0,448.6 L1755.0,448.7 L1756.0,449.6 L1757.0,449.0 L1758.0,449.2 L1759.0,449.1" fill="none" stroke="#27389a" stroke-width="3" stroke-linejoin="round"/>
<rect x="1320" y="285" width="50" height="21" fill="#fff" opacity="0.55"/>
<rect x="1321" y="327" width="44" height="20" fill="#fff" opacity="0.55"/>
<rect x="1310" y="422" width="42" height="19" fill="#fff" opacity="0.55"/>
</g>
<rect x="1303.3" y="27.6" width="582.6" height="2.4" fill="#665fa2"/>
<rect x="1303.4" y="27.6" width="1.9" height="429" fill="#6f6bab"/>
<rect x="1883.8" y="27.6" width="2.1" height="429" fill="#7c76ae"/>
<rect x="1303.3" y="454.2" width="582.6" height="2.6" fill="#6a64a6"/>
<rect x="1387.3" y="456.6" width="1.4" height="2.4" fill="#7a76b0" opacity="0.6"/>
<rect x="1386.2" y="977.2" width="1.4" height="2.2" fill="#77759a" opacity="0.6"/>
<rect x="1471.1" y="456.6" width="1.4" height="2.4" fill="#7a76b0" opacity="0.6"/>
<rect x="1470.0" y="977.2" width="1.4" height="2.2" fill="#77759a" opacity="0.6"/>
<rect x="1554.8" y="456.6" width="1.4" height="2.4" fill="#7a76b0" opacity="0.6"/>
<rect x="1553.8" y="977.2" width="1.4" height="2.2" fill="#77759a" opacity="0.6"/>
<rect x="1638.6" y="456.6" width="1.4" height="2.4" fill="#7a76b0" opacity="0.6"/>
<rect x="1637.5" y="977.2" width="1.4" height="2.2" fill="#77759a" opacity="0.6"/>
<rect x="1722.3" y="456.6" width="1.4" height="2.4" fill="#7a76b0" opacity="0.6"/>
<rect x="1721.2" y="977.2" width="1.4" height="2.2" fill="#77759a" opacity="0.6"/>
<rect x="1806.1" y="456.6" width="1.4" height="2.4" fill="#7a76b0" opacity="0.6"/>
<rect x="1805.0" y="977.2" width="1.4" height="2.2" fill="#77759a" opacity="0.6"/>
<path d="M1316,972.0 L1316.0,971.7 L1316.8,971.5 L1317.6,965.7 L1318.4,971.3 L1319.2,966.3 L1320.0,970.1 L1320.8,965.6 L1321.6,953.4 L1322.4,900.2 L1323.2,855.8 L1324.0,784.7 L1324.8,715.4 L1325.6,651.0 L1326.4,612.4 L1327.2,619.1 L1328.0,677.2 L1328.8,755.6 L1329.6,850.6 L1330.4,915.5 L1331.2,939.4 L1332.0,946.7 L1332.8,942.8 L1333.6,945.0 L1334.4,925.1 L1335.2,925.6 L1336.0,910.9 L1336.8,913.1 L1337.6,913.9 L1338.4,911.7 L1339.2,913.2 L1340.0,909.8 L1340.8,905.3 L1341.6,920.1 L1342.4,912.2 L1343.2,896.9 L1344.0,853.3 L1344.8,801.1 L1345.6,759.5 L1346.4,739.8 L1347.2,752.4 L1348.0,780.6 L1348.8,821.9 L1349.6,885.6 L1350.4,934.5 L1351.2,955.0 L1352.0,962.1 L1352.8,963.6 L1353.6,961.9 L1354.4,963.8 L1355.2,960.9 L1356.0,963.5 L1356.8,963.6 L1357.6,963.9 L1358.4,963.1 L1359.2,962.4 L1360.0,966.0 L1360.8,969.0 L1361.6,965.8 L1362.4,966.8 L1363.2,965.3 L1364.0,963.2 L1364.8,966.3 L1365.6,964.3 L1366.4,964.7 L1367.2,967.6 L1368.0,962.7 L1368.8,966.9 L1369.6,968.0 L1370.4,965.5 L1371.2,962.7 L1372.0,966.2 L1372.8,960.1 L1373.6,962.1 L1374.4,964.4 L1375.2,968.2 L1376.0,963.5 L1376.8,966.0 L1377.6,961.8 L1378.4,966.5 L1379.2,960.8 L1380.0,958.7 L1380.8,964.7 L1381.6,961.8 L1382.4,960.2 L1383.2,964.9 L1384.0,966.8 L1384.8,963.0 L1385.6,966.3 L1386.4,966.1 L1387.2,966.0 L1388.0,961.9 L1388.8,962.9 L1389.6,962.4 L1390.4,956.2 L1391.2,960.2 L1392.0,962.1 L1392.8,962.6 L1393.6,962.2 L1394.4,965.0 L1395.2,964.6 L1396.0,960.2 L1396.8,962.5 L1397.6,959.1 L1398.4,955.4 L1399.2,959.9 L1400.0,960.6 L1400.8,958.0 L1401.6,963.3 L1402.4,959.5 L1403.2,963.8 L1404.0,955.9 L1404.8,963.6 L1405.6,957.9 L1406.4,961.8 L1407.2,959.6 L1408.0,959.0 L1408.8,963.2 L1409.6,960.8 L1410.4,966.0 L1411.2,957.2 L1412.0,961.9 L1412.8,954.6 L1413.6,964.3 L1414.4,954.9 L1415.2,962.5 L1416.0,961.0 L1416.8,962.2 L1417.6,952.8 L1418.4,961.2 L1419.2,953.7 L1420.0,959.1 L1420.8,956.1 L1421.6,958.8 L1422.4,956.4 L1423.2,951.6 L1424.0,949.8 L1424.8,945.8 L1425.6,933.5 L1426.4,922.5 L1427.2,897.0 L1428.0,879.6 L1428.8,872.1 L1429.6,878.6 L1430.4,901.5 L1431.2,922.8 L1432.0,933.2 L1432.8,935.5 L1433.6,946.9 L1434.4,947.7 L1435.2,943.8 L1436.0,955.2 L1436.8,959.0 L1437.6,956.3 L1438.4,959.6 L1439.2,958.0 L1440.0,960.1 L1440.8,958.8 L1441.6,959.9 L1442.4,961.0 L1443.2,961.2 L1444.0,951.3 L1444.8,960.3 L1445.6,963.8 L1446.4,962.1 L1447.2,957.5 L1448.0,959.0 L1448.8,954.0 L1449.6,953.7 L1450.4,955.8 L1451.2,956.0 L1452.0,955.2 L1452.8,957.6 L1453.6,959.5 L1454.4,959.2 L1455.2,949.5 L1456.0,956.9 L1456.8,956.1 L1457.6,961.3 L1458.4,961.9 L1459.2,961.0 L1460.0,959.5 L1460.8,959.5 L1461.6,959.3 L1462.4,953.1 L1463.2,959.9 L1464.0,960.1 L1464.8,958.6 L1465.6,962.5 L1466.4,954.3 L1467.2,959.0 L1468.0,954.3 L1468.8,960.6 L1469.6,957.7 L1470.4,959.2 L1471.2,957.1 L1472.0,954.1 L1472.8,957.4 L1473.6,954.7 L1474.4,954.3 L1475.2,958.2 L1476.0,958.2 L1476.8,957.0 L1477.6,954.2 L1478.4,949.1 L1479.2,957.1 L1480.0,955.0 L1480.8,958.4 L1481.6,957.0 L1482.4,955.7 L1483.2,955.5 L1484.0,957.1 L1484.8,957.2 L1485.6,959.9 L1486.4,952.4 L1487.2,964.4 L1488.0,956.3 L1488.8,962.5 L1489.6,960.2 L1490.4,963.2 L1491.2,965.1 L1492.0,957.1 L1492.8,961.7 L1493.6,963.4 L1494.4,960.7 L1495.2,962.7 L1496.0,966.0 L1496.8,965.0 L1497.6,967.3 L1498.4,957.4 L1499.2,962.6 L1500.0,959.9 L1500.8,961.9 L1501.6,957.9 L1502.4,962.0 L1503.2,962.2 L1504.0,960.2 L1504.8,961.4 L1505.6,962.4 L1506.4,962.5 L1507.2,963.0 L1508.0,965.5 L1508.8,960.8 L1509.6,961.2 L1510.4,961.6 L1511.2,958.8 L1512.0,964.7 L1512.8,965.4 L1513.6,964.5 L1514.4,962.0 L1515.2,964.6 L1516.0,963.6 L1516.8,957.9 L1517.6,961.6 L1518.4,965.6 L1519.2,962.0 L1520.0,962.9 L1520.8,959.0 L1521.6,962.8 L1522.4,964.8 L1523.2,963.5 L1524.0,964.2 L1524.8,966.9 L1525.6,964.1 L1526.4,967.0 L1527.2,967.2 L1528.0,968.7 L1528.8,964.9 L1529.6,959.4 L1530.4,963.7 L1531.2,963.2 L1532.0,961.4 L1532.8,962.0 L1533.6,963.4 L1534.4,963.3 L1535.2,965.9 L1536.0,965.7 L1536.8,965.0 L1537.6,964.6 L1538.4,965.0 L1539.2,965.8 L1540.0,965.5 L1540.8,967.1 L1541.6,963.8 L1542.4,964.0 L1543.2,967.1 L1544.0,964.4 L1544.8,970.3 L1545.6,961.3 L1546.4,965.9 L1547.2,961.2 L1548.0,969.4 L1548.8,965.0 L1549.6,965.7 L1550.4,964.3 L1551.2,965.6 L1552.0,967.0 L1552.8,962.0 L1553.6,966.1 L1554.4,966.6 L1555.2,965.2 L1556.0,960.1 L1556.8,965.6 L1557.6,964.8 L1558.4,962.8 L1559.2,964.3 L1560.0,967.9 L1560.8,963.8 L1561.6,965.9 L1562.4,964.7 L1563.2,965.0 L1564.0,968.9 L1564.8,965.6 L1565.6,964.4 L1566.4,969.9 L1567.2,969.3 L1568.0,966.8 L1568.8,967.1 L1569.6,966.7 L1570.4,967.6 L1571.2,964.3 L1572.0,967.6 L1572.8,962.3 L1573.6,963.4 L1574.4,964.9 L1575.2,964.0 L1576.0,967.9 L1576.8,967.2 L1577.6,967.0 L1578.4,965.9 L1579.2,961.4 L1580.0,964.5 L1580.8,966.2 L1581.6,963.1 L1582.4,968.6 L1583.2,964.2 L1584.0,964.6 L1584.8,968.9 L1585.6,963.7 L1586.4,966.6 L1587.2,963.9 L1588.0,968.4 L1588.8,964.8 L1589.6,964.6 L1590.4,969.6 L1591.2,968.3 L1592.0,965.4 L1592.8,966.9 L1593.6,964.0 L1594.4,965.6 L1595.2,966.3 L1596.0,966.0 L1596.8,965.4 L1597.6,964.1 L1598.4,969.1 L1599.2,965.0 L1600.0,966.9 L1600.8,965.4 L1601.6,967.1 L1602.4,967.3 L1603.2,965.0 L1604.0,960.4 L1604.8,964.6 L1605.6,965.3 L1606.4,969.5 L1607.2,964.3 L1608.0,965.8 L1608.8,965.6 L1609.6,966.2 L1610.4,964.9 L1611.2,969.3 L1612.0,967.3 L1612.8,966.1 L1613.6,967.6 L1614.4,968.6 L1615.2,964.2 L1616.0,965.6 L1616.8,965.4 L1617.6,965.6 L1618.4,965.4 L1619.2,967.7 L1620.0,967.9 L1620.8,969.7 L1621.6,968.6 L1622.4,961.0 L1623.2,964.4 L1624.0,961.1 L1624.8,964.9 L1625.6,967.2 L1626.4,965.7 L1627.2,961.4 L1628.0,967.3 L1628.8,966.8 L1629.6,966.5 L1630.4,965.8 L1631.2,966.5 L1632.0,966.5 L1632.8,964.9 L1633.6,969.0 L1634.4,969.2 L1635.2,966.3 L1636.0,962.7 L1636.8,967.6 L1637.6,965.1 L1638.4,969.4 L1639.2,964.5 L1640.0,962.4 L1640.8,971.1 L1641.6,965.3 L1642.4,968.5 L1643.2,966.8 L1644.0,967.8 L1644.8,968.1 L1645.6,966.0 L1646.4,966.7 L1647.2,967.3 L1648.0,967.2 L1648.8,968.2 L1649.6,968.0 L1650.4,967.1 L1651.2,967.7 L1652.0,967.8 L1652.8,964.9 L1653.6,966.5 L1654.4,966.0 L1655.2,967.0 L1656.0,967.2 L1656.8,968.8 L1657.6,966.3 L1658.4,967.5 L1659.2,965.7 L1660.0,967.8 L1660.8,968.5 L1661.6,965.0 L1662.4,967.5 L1663.2,966.3 L1664.0,966.4 L1664.8,967.7 L1665.6,967.1 L1666.4,969.3 L1667.2,970.1 L1668.0,967.5 L1668.8,970.3 L1669.6,965.9 L1670.4,960.3 L1671.2,963.9 L1672.0,965.2 L1672.8,961.6 L1673.6,952.3 L1674.4,959.5 L1675.2,951.7 L1676.0,945.5 L1676.8,934.3 L1677.6,933.1 L1678.4,918.5 L1679.2,911.3 L1680.0,895.1 L1680.8,883.9 L1681.6,867.2 L1682.4,861.2 L1683.2,822.6 L1684.0,799.7 L1684.8,793.9 L1685.6,793.1 L1686.4,788.2 L1687.2,822.0 L1688.0,842.3 L1688.8,853.1 L1689.6,870.8 L1690.4,898.1 L1691.2,902.8 L1692.0,909.9 L1692.8,920.5 L1693.6,932.8 L1694.4,941.2 L1695.2,944.7 L1696.0,956.3 L1696.8,953.0 L1697.6,957.5 L1698.4,964.5 L1699.2,962.3 L1700.0,965.7 L1700.8,967.7 L1701.6,965.7 L1702.4,966.0 L1703.2,965.9 L1704.0,969.0 L1704.8,967.5 L1705.6,968.6 L1706.4,970.2 L1707.2,966.0 L1708.0,965.8 L1708.8,971.0 L1709.6,966.3 L1710.4,966.4 L1711.2,963.2 L1712.0,965.3 L1712.8,966.2 L1713.6,966.6 L1714.4,963.3 L1715.2,962.0 L1716.0,960.0 L1716.8,958.9 L1717.6,949.8 L1718.4,953.3 L1719.2,944.7 L1720.0,939.1 L1720.8,945.6 L1721.6,945.3 L1722.4,941.9 L1723.2,951.7 L1724.0,950.3 L1724.8,956.5 L1725.6,962.7 L1726.4,961.2 L1727.2,964.5 L1728.0,964.0 L1728.8,969.5 L1729.6,970.2 L1730.4,963.2 L1731.2,968.6 L1732.0,971.6 L1732.8,967.9 L1733.6,969.5 L1734.4,967.1 L1735.2,967.1 L1736.0,971.0 L1736.8,969.4 L1737.6,968.1 L1738.4,968.2 L1739.2,968.7 L1740.0,964.5 L1740.8,967.8 L1741.6,969.7 L1742.4,964.3 L1743.2,970.3 L1744.0,968.1 L1744.8,967.6 L1745.6,971.4 L1746.4,969.0 L1747.2,969.9 L1748.0,968.9 L1748.8,969.6 L1749.6,969.5 L1750.4,969.6 L1751.2,968.5 L1752.0,970.9 L1752.8,970.0 L1753.6,970.5 L1754.4,969.9 L1755.2,967.7 L1756.0,967.5 L1756.8,969.6 L1757.6,968.2 L1758.4,967.2 L1759.2,967.3 L1760.0,970.0 L1760.8,970.3 L1761.6,970.5 L1762.4,969.6 L1763.2,969.5 L1764.0,969.7 L1764.8,971.0 L1765.6,969.8 L1766.4,970.8 L1767.2,969.0 L1768.0,969.1 L1768.8,964.6 L1769.6,966.1 L1770.4,971.6 L1771.2,968.9 L1772.0,967.7 L1772.8,969.4 L1773.6,968.9 L1774.4,971.1 L1775.2,969.9 L1776.0,969.9 L1776.8,969.6 L1777.6,966.5 L1778.4,966.0 L1779.2,969.4 L1780.0,969.9 L1780.8,970.9 L1781.6,968.5 L1782.4,970.9 L1783.2,967.6 L1784.0,969.5 L1784.8,970.6 L1785.6,971.7 L1786.4,968.2 L1787.2,971.6 L1788.0,970.7 L1788.8,971.2 L1789.6,970.6 L1790.4,969.7 L1791.2,970.7 L1792.0,971.6 L1792.8,965.3 L1793.6,970.8 L1794.4,967.7 L1795.2,969.3 L1796.0,969.9 L1796.8,969.9 L1797.6,969.5 L1798.4,969.0 L1799.2,969.6 L1800.0,970.0 L1800.8,971.7 L1801.6,969.7 L1802.4,971.0 L1803.2,970.9 L1804.0,971.7 L1804.8,969.3 L1805.6,969.9 L1806.4,970.4 L1807.2,966.1 L1808.0,971.3 L1808.8,971.0 L1809.6,968.2 L1810.4,970.3 L1811.2,966.4 L1812.0,965.3 L1812.8,970.9 L1813.6,970.7 L1814.4,969.9 L1815.2,968.8 L1816.0,969.5 L1816.8,969.4 L1817.6,969.7 L1818.4,969.4 L1819.2,966.9 L1820.0,969.8 L1820.8,963.4 L1821.6,970.9 L1822.4,968.9 L1823.2,969.5 L1824.0,970.0 L1824.8,969.7 L1825.6,971.3 L1826.4,969.5 L1827.2,971.3 L1828.0,971.0 L1828.8,967.7 L1829.6,969.7 L1830.4,970.9 L1831.2,970.8 L1832.0,970.6 L1832.8,969.9 L1833.6,970.2 L1834.4,970.0 L1835.2,970.2 L1836.0,970.5 L1836.8,970.6 L1837.6,971.1 L1838.4,969.1 L1839.2,969.6 L1840.0,971.5 L1840.8,971.2 L1841.6,964.8 L1842.4,971.5 L1843.2,969.2 L1844.0,971.7 L1844.8,964.5 L1845.6,970.6 L1846.4,971.5 L1847.2,971.7 L1848.0,969.3 L1848.8,971.2 L1849.6,971.2 L1850.4,970.5 L1851.2,970.2 L1852.0,970.5 L1852.8,969.4 L1853.6,969.2 L1854.4,971.4 L1855.2,970.9 L1856.0,967.4 L1856.8,968.6 L1857.6,969.5 L1858.4,970.4 L1859.2,969.6 L1860.0,969.6 L1860.8,968.2 L1861.6,970.2 L1862.4,970.4 L1863.2,969.1 L1864.0,971.4 L1864.8,968.4 L1865.6,970.0 L1866.4,970.8 L1867.2,970.6 L1868.0,969.8 L1868.8,971.7 L1869.6,971.5 L1870.4,971.0 L1871.2,970.0 L1872.0,969.1 L1872.8,970.7 L1873.6,969.9 L1874.4,970.0 L1875.2,971.7 L1876.0,971.3 L1876.8,970.3 L1877.6,969.5 L1878.4,971.4 L1879.2,970.7 L1880.0,970.7 L1880.8,970.4 L1881.6,969.6 L1882.4,970.9 L1883.2,967.4 L1883.5,972.0 Z" fill="#848484"/>
<rect x="1322" y="873" width="30" height="31.5" fill="#fff" opacity="0.5"/>
<rect x="1302.2" y="547.3" width="583" height="2.3" fill="#5d5b80"/>
<rect x="1302.2" y="547.3" width="1.9" height="430" fill="#6c6a8c"/>
<rect x="1882.9" y="547.3" width="2.3" height="430" fill="#434160"/>
<rect x="1302.2" y="975.4" width="583" height="1.9" fill="#5a5879"/>
<text x="1295.6" y="43.0" font-size="34.2" text-anchor="end" textLength="48.6" lengthAdjust="spacingAndGlyphs" >490</text>
<text x="1295.6" y="84.0" font-size="34.2" text-anchor="end" textLength="48.6" lengthAdjust="spacingAndGlyphs" >441</text>
<text x="1295.6" y="125.8" font-size="34.2" text-anchor="end" textLength="48.6" lengthAdjust="spacingAndGlyphs" >392</text>
<text x="1295.6" y="167.2" font-size="34.2" text-anchor="end" textLength="48.6" lengthAdjust="spacingAndGlyphs" >343</text>
<text x="1295.6" y="209.0" font-size="34.2" text-anchor="end" textLength="48.6" lengthAdjust="spacingAndGlyphs" >294</text>
<text x="1295.6" y="251.6" font-size="34.2" text-anchor="end" textLength="48.6" lengthAdjust="spacingAndGlyphs" >245</text>
<text x="1295.6" y="292.7" font-size="34.2" text-anchor="end" textLength="48.6" lengthAdjust="spacingAndGlyphs" >196</text>
<text x="1295.6" y="334.5" font-size="34.2" text-anchor="end" textLength="48.6" lengthAdjust="spacingAndGlyphs" >147</text>
<text x="1295.6" y="376.7" font-size="34.2" text-anchor="end" >98</text>
<text x="1295.6" y="418.5" font-size="34.2" text-anchor="end" >49</text>
<text x="1295.6" y="459.0" font-size="34.2" text-anchor="end" >0</text>
<text x="1294.2" y="562.6" font-size="34.2" text-anchor="end" textLength="48.6" lengthAdjust="spacingAndGlyphs" >860</text>
<text x="1294.2" y="604.4" font-size="34.2" text-anchor="end" textLength="48.6" lengthAdjust="spacingAndGlyphs" >774</text>
<text x="1294.2" y="646.5" font-size="34.2" text-anchor="end" textLength="48.6" lengthAdjust="spacingAndGlyphs" >688</text>
<text x="1294.2" y="688.0" font-size="34.2" text-anchor="end" textLength="48.6" lengthAdjust="spacingAndGlyphs" >602</text>
<text x="1294.2" y="729.8" font-size="34.2" text-anchor="end" textLength="48.6" lengthAdjust="spacingAndGlyphs" >516</text>
<text x="1294.2" y="771.6" font-size="34.2" text-anchor="end" textLength="48.6" lengthAdjust="spacingAndGlyphs" >430</text>
<text x="1294.2" y="813.4" font-size="34.2" text-anchor="end" textLength="48.6" lengthAdjust="spacingAndGlyphs" >344</text>
<text x="1294.2" y="854.5" font-size="34.2" text-anchor="end" textLength="48.6" lengthAdjust="spacingAndGlyphs" >258</text>
<text x="1294.2" y="896.7" font-size="34.2" text-anchor="end" textLength="48.6" lengthAdjust="spacingAndGlyphs" >172</text>
<text x="1294.2" y="938.2" font-size="34.2" text-anchor="end" >86</text>
<text x="1294.2" y="979.0" font-size="34.2" text-anchor="end" >0</text>
<text x="1307.3" y="487.0" font-size="34.2" text-anchor="middle" >0</text>
<text x="1390.0" y="487.0" font-size="34.2" text-anchor="middle" >1</text>
<text x="1480.0" y="487.0" font-size="34.2" text-anchor="middle" >2</text>
<text x="1562.0" y="487.0" font-size="34.2" text-anchor="middle" >3</text>
<text x="1644.6" y="487.0" font-size="34.2" text-anchor="middle" >4</text>
<text x="1726.0" y="487.0" font-size="34.2" text-anchor="middle" >5</text>
<text x="1808.6" y="487.0" font-size="34.2" text-anchor="middle" >6</text>
<text x="1306.2" y="1008.5" font-size="34.2" text-anchor="middle" >0</text>
<text x="1388.7" y="1008.5" font-size="34.2" text-anchor="middle" >1</text>
<text x="1478.4" y="1008.5" font-size="34.2" text-anchor="middle" >2</text>
<text x="1560.4" y="1008.5" font-size="34.2" text-anchor="middle" >3</text>
<text x="1642.9" y="1008.5" font-size="34.2" text-anchor="middle" >4</text>
<text x="1724.7" y="1008.5" font-size="34.2" text-anchor="middle" >5</text>
<text x="1807.0" y="1008.5" font-size="34.2" text-anchor="middle" >6</text>
<text x="1471.5" y="520.0" font-size="33.5" text-anchor="start" textLength="175.0" lengthAdjust="spacingAndGlyphs" >Energy /keV</text>
<text x="1470.4" y="1041.8" font-size="33.5" text-anchor="start" textLength="175.0" lengthAdjust="spacingAndGlyphs" >Energy /keV</text>
<text transform="translate(1226.4,293.2) rotate(-90)" font-size="37" textLength="176.0" lengthAdjust="spacingAndGlyphs">Intensity /s<tspan font-size="22" dy="-14">−1</tspan></text>
<text transform="translate(1223.5,828.0) rotate(-90)" font-size="37" textLength="175.0" lengthAdjust="spacingAndGlyphs">Intensity /s<tspan font-size="22" dy="-14">−1</tspan></text>
<text x="1662.5" y="56.6" font-size="26.0" text-anchor="start" textLength="61.0" lengthAdjust="spacingAndGlyphs" >Ti Kα</text>
<text font-size="26"><tspan x="1332" y="188.3" textLength="17" lengthAdjust="spacingAndGlyphs">O</tspan><tspan> </tspan><tspan x="1355.3" y="193.3" textLength="17.4" lengthAdjust="spacingAndGlyphs">K</tspan></text>
<text font-size="26"><tspan x="1309.8" y="271" textLength="17.6" lengthAdjust="spacingAndGlyphs">C</tspan><tspan> </tspan><tspan x="1327.7" y="271" textLength="17.6" lengthAdjust="spacingAndGlyphs">K</tspan></text>
<text x="1320.7" y="304.6" font-size="26.0" text-anchor="start" textLength="47.8" lengthAdjust="spacingAndGlyphs" >SnM</text>
<text x="1321.3" y="344.5" font-size="26.0" text-anchor="start" textLength="42.7" lengthAdjust="spacingAndGlyphs" >Ti L</text>
<text x="1406.9" y="330.6" font-size="26.0" text-anchor="start" textLength="47.5" lengthAdjust="spacingAndGlyphs" >Al K</text>
<text x="1473.7" y="304.5" font-size="26.0" text-anchor="start" textLength="45.1" lengthAdjust="spacingAndGlyphs" >Zr L</text>
<text x="1460.7" y="354.5" font-size="26.0" text-anchor="start" textLength="43.9" lengthAdjust="spacingAndGlyphs" >Zr L</text>
<text x="1422.3" y="406.2" font-size="26.0" text-anchor="start" textLength="44.1" lengthAdjust="spacingAndGlyphs" >Si K</text>
<text x="1310.2" y="439.6" font-size="26.0" text-anchor="start" textLength="41.1" lengthAdjust="spacingAndGlyphs" >Si L</text>
<text x="1486.2" y="394.5" font-size="26.0" text-anchor="start" textLength="55.8" lengthAdjust="spacingAndGlyphs" >Mo L</text>
<text x="1489.7" y="422.5" font-size="26.0" text-anchor="start" textLength="67.9" lengthAdjust="spacingAndGlyphs" >Mo Lβ</text>
<text x="1585.9" y="384.8" font-size="26.0" text-anchor="start" textLength="60.9" lengthAdjust="spacingAndGlyphs" >Sn Lβ</text>
<text x="1568.4" y="412.6" font-size="26.0" text-anchor="start" textLength="63.2" lengthAdjust="spacingAndGlyphs" >Sn Lα</text>
<text x="1611.7" y="436.5" font-size="26.0" text-anchor="start" textLength="73.4" lengthAdjust="spacingAndGlyphs" >Sn Lβ2</text>
<text x="1701.7" y="385.2" font-size="26.0" text-anchor="start" textLength="58.4" lengthAdjust="spacingAndGlyphs" >Ti Kβ</text>
<text x="1316.2" y="69.8" font-size="32.5" text-anchor="start" textLength="41.8" lengthAdjust="spacingAndGlyphs" >(b)</text>
<text x="1315.0" y="591.6" font-size="32.5" text-anchor="start" textLength="41.5" lengthAdjust="spacingAndGlyphs" >(d)</text>
<text font-size="34"><tspan x="1307.4" y="634.6" textLength="20.6" lengthAdjust="spacingAndGlyphs">C</tspan><tspan> </tspan><tspan x="1335.2" y="634.6" textLength="22.4" lengthAdjust="spacingAndGlyphs">K</tspan></text>
<text font-size="26"><tspan x="1327.4" y="730.6" textLength="17.2" lengthAdjust="spacingAndGlyphs">O</tspan><tspan> </tspan><tspan x="1354.4" y="729.8" textLength="17.4" lengthAdjust="spacingAndGlyphs">K</tspan></text>
<text x="1324.0" y="866.8" font-size="26.0" text-anchor="start" textLength="43.0" lengthAdjust="spacingAndGlyphs" >Ti L</text>
<text x="1322.5" y="899.6" font-size="26.0" text-anchor="start" textLength="55.0" lengthAdjust="spacingAndGlyphs" >Sn M</text>
<text x="1406.9" y="870.5" font-size="26.0" text-anchor="start" textLength="49.0" lengthAdjust="spacingAndGlyphs" >Al K</text>
<text x="1474.1" y="883.4" font-size="26.0" text-anchor="start" textLength="45.1" lengthAdjust="spacingAndGlyphs" >Zr L</text>
<text x="1446.2" y="916.8" font-size="26.0" text-anchor="start" textLength="44.2" lengthAdjust="spacingAndGlyphs" >Zr L</text>
<text x="1426.3" y="948.2" font-size="26.0" text-anchor="start" textLength="43.8" lengthAdjust="spacingAndGlyphs" >Si K</text>
<text x="1501.6" y="922.6" font-size="26.0" text-anchor="start" textLength="68.0" lengthAdjust="spacingAndGlyphs" >Mo Lβ</text>
<text x="1487.7" y="953.2" font-size="26.0" text-anchor="start" textLength="55.0" lengthAdjust="spacingAndGlyphs" >Mo L</text>
<text x="1590.1" y="920.6" font-size="26.0" text-anchor="start" textLength="60.9" lengthAdjust="spacingAndGlyphs" >Sn Lβ</text>
<text x="1552.0" y="957.0" font-size="26.0" text-anchor="start" textLength="62.4" lengthAdjust="spacingAndGlyphs" >Sn Lα</text>
<text x="1625.2" y="959.2" font-size="26.0" text-anchor="start" textLength="72.9" lengthAdjust="spacingAndGlyphs" >Sn Lβ2</text>
<text x="1705.1" y="926.3" font-size="26.0" text-anchor="start" textLength="59.5" lengthAdjust="spacingAndGlyphs" >Ti Kβ</text>
<text x="1663.3" y="775.1" font-size="26.0" text-anchor="start" textLength="60.2" lengthAdjust="spacingAndGlyphs" >Ti Kα</text>
<text x="338.1" y="69.4" font-size="32.8" text-anchor="start" textLength="40.2" lengthAdjust="spacingAndGlyphs" >(a)</text>
<text x="338.3" y="591.6" font-size="32.5" text-anchor="start" textLength="39.2" lengthAdjust="spacingAndGlyphs" >(c)</text>
<text x="783.7" y="462.7" font-size="32.0" text-anchor="start" textLength="87.2" lengthAdjust="spacingAndGlyphs" >10 μm</text>
<text x="793.1" y="987.7" font-size="32.0" text-anchor="start" textLength="86.8" lengthAdjust="spacingAndGlyphs" >10 μm</text>
<text x="118.1" y="270.5" font-size="33.0" text-anchor="start" textLength="182.6" lengthAdjust="spacingAndGlyphs" >as-deposited</text>
<text x="161.0" y="800.8" font-size="33.0" text-anchor="start" textLength="135.7" lengthAdjust="spacingAndGlyphs" >as-forged</text>
</svg>
</body></html>
